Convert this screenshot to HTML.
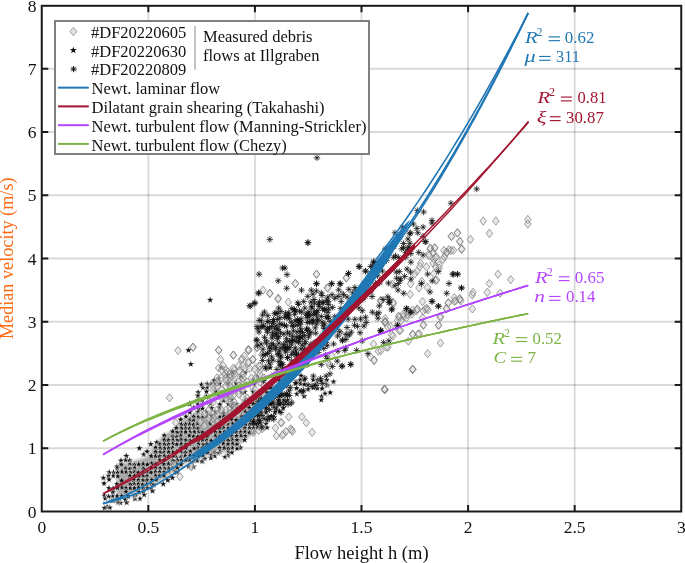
<!DOCTYPE html><html><head><meta charset="utf-8"><style>html,body{margin:0;padding:0;background:#fff;overflow:hidden}svg{display:block;will-change:transform}</style></head><body><svg xmlns="http://www.w3.org/2000/svg" width="685" height="563" viewBox="0 0 685 563">
<rect width="685" height="563" fill="#fff"/>
<path d="M148.33 5.8V511.5M254.92 5.8V511.5M361.50 5.8V511.5M468.09 5.8V511.5M574.67 5.8V511.5" stroke="#000" stroke-opacity="0.15" stroke-width="1.8" fill="none"/>
<path d="M41.75 448.25H681.25M41.75 385.00H681.25M41.75 321.75H681.25M41.75 258.50H681.25M41.75 195.25H681.25M41.75 132.00H681.25M41.75 68.75H681.25" stroke="#000" stroke-opacity="0.15" stroke-width="1.8" fill="none"/>
<defs><filter id="bl" x="0" y="0" width="685" height="563" filterUnits="userSpaceOnUse"><feGaussianBlur stdDeviation="0.35"/></filter></defs>
<filter id="ub" x="0" y="0" width="685" height="563" filterUnits="userSpaceOnUse"><feGaussianBlur stdDeviation="1.6"/></filter>
<path d="M118 470L121 464L130 462L141 459L147 457L153 448L157 442L164 435L171 431L181 421L191 415L198 410L205 416L215 418L228 412L240 404L252 396L262 392L262 415L255 432L240 444L226 452L212 454L200 458L188 462L178 468L170 474L160 481L150 487L140 491L130 495L121 497L116 492Z" fill="#a6a6a6" filter="url(#ub)"/>
<path d="M249.6 428.9L250.5 431.3L253.1 431.4L251.1 433.0L251.8 435.4L249.6 434.0L247.5 435.4L248.2 433.0L246.2 431.4L248.8 431.3ZM300.8 380.1L301.7 382.5L304.2 382.6L302.2 384.2L302.9 386.6L300.8 385.2L298.7 386.6L299.3 384.2L297.3 382.6L299.9 382.5ZM176.5 448.1L177.4 450.5L180.0 450.6L178.0 452.2L178.6 454.6L176.5 453.2L174.4 454.6L175.1 452.2L173.1 450.6L175.6 450.5ZM211.1 451.7L212.0 454.1L214.6 454.2L212.6 455.8L213.3 458.2L211.1 456.8L209.0 458.2L209.7 455.8L207.7 454.2L210.3 454.1ZM249.3 380.9L250.2 383.3L252.8 383.4L250.8 385.0L251.4 387.4L249.3 386.0L247.2 387.4L247.9 385.0L245.9 383.4L248.4 383.3ZM253.2 388.2L254.1 390.6L256.6 390.7L254.6 392.3L255.3 394.7L253.2 393.3L251.1 394.7L251.8 392.3L249.8 390.7L252.3 390.6ZM304.4 376.2L305.3 378.6L307.8 378.7L305.8 380.2L306.5 382.7L304.4 381.3L302.3 382.7L302.9 380.2L301.0 378.7L303.5 378.6ZM207.1 432.6L208.0 435.0L210.5 435.1L208.5 436.7L209.2 439.1L207.1 437.7L205.0 439.1L205.7 436.7L203.7 435.1L206.2 435.0ZM214.9 379.9L215.8 382.2L218.3 382.3L216.3 383.9L217.0 386.4L214.9 385.0L212.8 386.4L213.4 383.9L211.4 382.3L214.0 382.2ZM227.6 372.0L228.5 374.4L231.0 374.5L229.1 376.0L229.7 378.5L227.6 377.1L225.5 378.5L226.2 376.0L224.2 374.5L226.7 374.4ZM231.9 412.0L232.8 414.4L235.4 414.5L233.4 416.1L234.1 418.5L231.9 417.1L229.8 418.5L230.5 416.1L228.5 414.5L231.0 414.4ZM108.6 472.1L109.4 474.4L112.0 474.6L110.0 476.1L110.7 478.6L108.6 477.2L106.4 478.6L107.1 476.1L105.1 474.6L107.7 474.4ZM257.5 424.2L258.4 426.6L260.9 426.7L258.9 428.3L259.6 430.7L257.5 429.3L255.4 430.7L256.0 428.3L254.0 426.7L256.6 426.6ZM224.3 415.9L225.2 418.2L227.7 418.3L225.7 419.9L226.4 422.4L224.3 421.0L222.2 422.4L222.8 419.9L220.9 418.3L223.4 418.2ZM126.7 498.9L127.6 501.3L130.1 501.4L128.1 503.0L128.8 505.4L126.7 504.0L124.6 505.4L125.2 503.0L123.3 501.4L125.8 501.3ZM207.3 449.0L208.2 451.4L210.8 451.5L208.8 453.1L209.5 455.5L207.3 454.1L205.2 455.5L205.9 453.1L203.9 451.5L206.5 451.4ZM215.5 440.5L216.4 442.9L218.9 443.0L216.9 444.6L217.6 447.0L215.5 445.6L213.4 447.0L214.1 444.6L212.1 443.0L214.6 442.9ZM125.4 496.1L126.3 498.5L128.8 498.6L126.9 500.2L127.5 502.6L125.4 501.2L123.3 502.6L124.0 500.2L122.0 498.6L124.5 498.5ZM173.1 432.9L174.0 435.3L176.5 435.4L174.5 437.0L175.2 439.4L173.1 438.0L171.0 439.4L171.6 437.0L169.6 435.4L172.2 435.3ZM181.5 424.6L182.4 427.0L185.0 427.1L183.0 428.7L183.7 431.1L181.5 429.7L179.4 431.1L180.1 428.7L178.1 427.1L180.7 427.0ZM206.3 436.0L207.2 438.4L209.7 438.5L207.7 440.1L208.4 442.5L206.3 441.1L204.2 442.5L204.8 440.1L202.9 438.5L205.4 438.4ZM167.8 476.7L168.7 479.0L171.2 479.1L169.2 480.7L169.9 483.2L167.8 481.8L165.6 483.2L166.3 480.7L164.3 479.1L166.9 479.0ZM215.0 448.9L215.9 451.3L218.5 451.4L216.5 452.9L217.1 455.4L215.0 454.0L212.9 455.4L213.6 452.9L211.6 451.4L214.1 451.3ZM207.7 381.0L208.6 383.4L211.1 383.5L209.1 385.1L209.8 387.5L207.7 386.1L205.6 387.5L206.3 385.1L204.3 383.5L206.8 383.4ZM257.3 373.0L258.2 375.3L260.7 375.5L258.7 377.0L259.4 379.5L257.3 378.1L255.2 379.5L255.9 377.0L253.9 375.5L256.4 375.3ZM189.7 456.4L190.6 458.8L193.1 458.9L191.1 460.5L191.8 463.0L189.7 461.6L187.6 463.0L188.2 460.5L186.3 458.9L188.8 458.8ZM172.4 456.4L173.3 458.8L175.8 458.9L173.8 460.5L174.5 462.9L172.4 461.5L170.3 462.9L170.9 460.5L169.0 458.9L171.5 458.8ZM159.4 452.7L160.3 455.0L162.9 455.1L160.9 456.7L161.6 459.2L159.4 457.8L157.3 459.2L158.0 456.7L156.0 455.1L158.6 455.0ZM185.4 420.7L186.3 423.0L188.8 423.2L186.8 424.7L187.5 427.2L185.4 425.8L183.3 427.2L183.9 424.7L182.0 423.2L184.5 423.0ZM121.6 477.0L122.5 479.3L125.0 479.5L123.1 481.0L123.7 483.5L121.6 482.1L119.5 483.5L120.2 481.0L118.2 479.5L120.7 479.3ZM223.4 408.9L224.2 411.3L226.8 411.4L224.8 413.0L225.5 415.4L223.4 414.0L221.2 415.4L221.9 413.0L219.9 411.4L222.5 411.3ZM181.0 448.0L181.9 450.4L184.4 450.5L182.4 452.1L183.1 454.5L181.0 453.1L178.9 454.5L179.6 452.1L177.6 450.5L180.1 450.4ZM143.1 476.6L144.0 479.0L146.5 479.1L144.5 480.7L145.2 483.1L143.1 481.7L141.0 483.1L141.7 480.7L139.7 479.1L142.2 479.0ZM254.2 403.9L255.0 406.3L257.6 406.4L255.6 408.0L256.3 410.4L254.2 409.0L252.0 410.4L252.7 408.0L250.7 406.4L253.3 406.3ZM160.3 448.4L161.2 450.7L163.7 450.9L161.7 452.4L162.4 454.9L160.3 453.5L158.2 454.9L158.8 452.4L156.9 450.9L159.4 450.7ZM227.7 432.0L228.6 434.3L231.2 434.5L229.2 436.0L229.9 438.5L227.7 437.1L225.6 438.5L226.3 436.0L224.3 434.5L226.9 434.3ZM130.4 480.8L131.3 483.2L133.8 483.3L131.9 484.9L132.5 487.3L130.4 485.9L128.3 487.3L129.0 484.9L127.0 483.3L129.5 483.2ZM231.8 432.4L232.7 434.7L235.2 434.8L233.2 436.4L233.9 438.9L231.8 437.5L229.7 438.9L230.4 436.4L228.4 434.8L230.9 434.7ZM121.0 457.1L121.9 459.5L124.4 459.6L122.4 461.2L123.1 463.6L121.0 462.2L118.9 463.6L119.6 461.2L117.6 459.6L120.1 459.5ZM129.8 471.8L130.7 474.2L133.2 474.3L131.2 475.9L131.9 478.3L129.8 476.9L127.7 478.3L128.4 475.9L126.4 474.3L128.9 474.2ZM140.0 494.8L140.9 497.2L143.4 497.3L141.4 498.9L142.1 501.3L140.0 499.9L137.9 501.3L138.6 498.9L136.6 497.3L139.1 497.2ZM202.2 448.0L203.1 450.4L205.6 450.5L203.6 452.1L204.3 454.6L202.2 453.2L200.1 454.6L200.8 452.1L198.8 450.5L201.3 450.4ZM103.2 474.5L104.1 476.9L106.6 477.0L104.6 478.6L105.3 481.0L103.2 479.6L101.1 481.0L101.8 478.6L99.8 477.0L102.3 476.9ZM219.7 444.3L220.5 446.7L223.1 446.8L221.1 448.3L221.8 450.8L219.7 449.4L217.5 450.8L218.2 448.3L216.2 446.8L218.8 446.7ZM117.8 498.9L118.7 501.3L121.2 501.4L119.2 503.0L119.9 505.4L117.8 504.0L115.7 505.4L116.4 503.0L114.4 501.4L116.9 501.3ZM210.5 399.9L211.4 402.3L213.9 402.4L211.9 403.9L212.6 406.4L210.5 405.0L208.3 406.4L209.0 403.9L207.0 402.4L209.6 402.3ZM296.6 384.7L297.5 387.1L300.0 387.2L298.0 388.8L298.7 391.2L296.6 389.8L294.5 391.2L295.1 388.8L293.2 387.2L295.7 387.1ZM193.7 432.7L194.5 435.1L197.1 435.2L195.1 436.8L195.8 439.2L193.7 437.8L191.5 439.2L192.2 436.8L190.2 435.2L192.8 435.1ZM147.0 468.3L147.9 470.7L150.4 470.8L148.4 472.4L149.1 474.8L147.0 473.4L144.9 474.8L145.5 472.4L143.6 470.8L146.1 470.7ZM181.6 420.6L182.5 423.0L185.0 423.1L183.0 424.7L183.7 427.1L181.6 425.7L179.5 427.1L180.2 424.7L178.2 423.1L180.7 423.0ZM126.3 452.4L127.2 454.7L129.7 454.9L127.8 456.4L128.4 458.9L126.3 457.5L124.2 458.9L124.9 456.4L122.9 454.9L125.4 454.7ZM278.8 396.7L279.7 399.1L282.3 399.2L280.3 400.8L281.0 403.2L278.8 401.8L276.7 403.2L277.4 400.8L275.4 399.2L278.0 399.1ZM122.0 483.8L122.9 486.2L125.4 486.3L123.5 487.9L124.1 490.3L122.0 488.9L119.9 490.3L120.6 487.9L118.6 486.3L121.1 486.2ZM214.8 452.4L215.7 454.8L218.3 454.9L216.3 456.5L216.9 458.9L214.8 457.5L212.7 458.9L213.4 456.5L211.4 454.9L213.9 454.8ZM175.3 467.8L176.2 470.2L178.7 470.3L176.7 471.9L177.4 474.3L175.3 472.9L173.2 474.3L173.8 471.9L171.9 470.3L174.4 470.2ZM134.0 468.0L134.9 470.4L137.5 470.5L135.5 472.1L136.1 474.5L134.0 473.1L131.9 474.5L132.6 472.1L130.6 470.5L133.1 470.4ZM224.9 453.6L225.8 456.0L228.3 456.1L226.3 457.7L227.0 460.1L224.9 458.7L222.8 460.1L223.5 457.7L221.5 456.1L224.0 456.0ZM188.5 346.7L189.4 349.1L191.9 349.2L189.9 350.8L190.6 353.2L188.5 351.8L186.4 353.2L187.1 350.8L185.1 349.2L187.6 349.1ZM221.2 363.9L222.1 366.3L224.6 366.4L222.6 368.0L223.3 370.4L221.2 369.0L219.1 370.4L219.8 368.0L217.8 366.4L220.3 366.3ZM219.2 391.9L220.1 394.3L222.6 394.4L220.6 396.0L221.3 398.4L219.2 397.0L217.1 398.4L217.7 396.0L215.7 394.4L218.3 394.3ZM172.3 474.2L173.2 476.6L175.8 476.7L173.8 478.3L174.4 480.7L172.3 479.3L170.2 480.7L170.9 478.3L168.9 476.7L171.4 476.6ZM117.0 462.9L117.9 465.3L120.4 465.4L118.4 467.0L119.1 469.4L117.0 468.0L114.9 469.4L115.6 467.0L113.6 465.4L116.1 465.3ZM262.5 396.7L263.4 399.1L265.9 399.2L263.9 400.8L264.6 403.2L262.5 401.8L260.4 403.2L261.1 400.8L259.1 399.2L261.6 399.1ZM275.2 376.6L276.1 379.0L278.6 379.1L276.6 380.7L277.3 383.1L275.2 381.7L273.1 383.1L273.7 380.7L271.8 379.1L274.3 379.0ZM143.3 472.2L144.2 474.6L146.7 474.7L144.7 476.3L145.4 478.7L143.3 477.3L141.2 478.7L141.8 476.3L139.9 474.7L142.4 474.6ZM228.2 444.9L229.1 447.3L231.7 447.4L229.7 449.0L230.3 451.5L228.2 450.1L226.1 451.5L226.8 449.0L224.8 447.4L227.3 447.3ZM144.0 450.8L144.9 453.2L147.4 453.3L145.4 454.9L146.1 457.3L144.0 455.9L141.9 457.3L142.6 454.9L140.6 453.3L143.1 453.2ZM202.4 400.8L203.3 403.2L205.8 403.3L203.8 404.8L204.5 407.3L202.4 405.9L200.3 407.3L201.0 404.8L199.0 403.3L201.5 403.2ZM193.4 416.6L194.3 419.0L196.8 419.1L194.8 420.6L195.5 423.1L193.4 421.7L191.3 423.1L192.0 420.6L190.0 419.1L192.5 419.0ZM181.2 444.5L182.1 446.9L184.6 447.0L182.6 448.5L183.3 451.0L181.2 449.6L179.1 451.0L179.7 448.5L177.8 447.0L180.3 446.9ZM129.9 465.0L130.8 467.4L133.3 467.5L131.3 469.0L132.0 471.5L129.9 470.1L127.7 471.5L128.4 469.0L126.4 467.5L129.0 467.4ZM245.5 408.0L246.4 410.4L248.9 410.5L246.9 412.1L247.6 414.5L245.5 413.1L243.4 414.5L244.1 412.1L242.1 410.5L244.6 410.4ZM218.2 449.7L219.1 452.1L221.6 452.2L219.6 453.8L220.3 456.2L218.2 454.8L216.1 456.2L216.8 453.8L214.8 452.2L217.3 452.1ZM180.9 428.3L181.8 430.7L184.3 430.8L182.3 432.4L183.0 434.8L180.9 433.4L178.8 434.8L179.5 432.4L177.5 430.8L180.0 430.7ZM146.8 476.4L147.7 478.8L150.2 478.9L148.2 480.5L148.9 482.9L146.8 481.5L144.7 482.9L145.4 480.5L143.4 478.9L145.9 478.8ZM185.2 448.9L186.1 451.3L188.7 451.4L186.7 453.0L187.4 455.4L185.2 454.0L183.1 455.4L183.8 453.0L181.8 451.4L184.4 451.3ZM151.0 464.1L151.9 466.5L154.4 466.6L152.4 468.2L153.1 470.7L151.0 469.3L148.9 470.7L149.5 468.2L147.5 466.6L150.1 466.5ZM198.0 424.9L198.8 427.3L201.4 427.4L199.4 428.9L200.1 431.4L198.0 430.0L195.8 431.4L196.5 428.9L194.5 427.4L197.1 427.3ZM159.7 440.7L160.6 443.1L163.1 443.2L161.1 444.7L161.8 447.2L159.7 445.8L157.6 447.2L158.2 444.7L156.2 443.2L158.8 443.1ZM107.1 503.3L108.0 505.7L110.5 505.8L108.5 507.4L109.2 509.8L107.1 508.4L105.0 509.8L105.7 507.4L103.7 505.8L106.2 505.7ZM156.1 476.0L157.0 478.3L159.5 478.5L157.5 480.0L158.2 482.5L156.1 481.1L154.0 482.5L154.7 480.0L152.7 478.5L155.2 478.3ZM237.1 420.9L238.0 423.3L240.5 423.4L238.5 425.0L239.2 427.4L237.1 426.0L235.0 427.4L235.6 425.0L233.7 423.4L236.2 423.3ZM164.8 464.6L165.6 466.9L168.2 467.1L166.2 468.6L166.9 471.1L164.8 469.7L162.6 471.1L163.3 468.6L161.3 467.1L163.9 466.9ZM210.8 454.3L211.7 456.7L214.2 456.8L212.2 458.4L212.9 460.8L210.8 459.4L208.7 460.8L209.4 458.4L207.4 456.8L209.9 456.7ZM206.5 388.1L207.4 390.4L209.9 390.5L207.9 392.1L208.6 394.6L206.5 393.2L204.4 394.6L205.0 392.1L203.1 390.5L205.6 390.4ZM257.6 375.9L258.5 378.3L261.0 378.4L259.0 380.0L259.7 382.4L257.6 381.0L255.5 382.4L256.1 380.0L254.1 378.4L256.7 378.3ZM284.0 376.3L284.9 378.7L287.4 378.8L285.4 380.3L286.1 382.8L284.0 381.4L281.9 382.8L282.5 380.3L280.6 378.8L283.1 378.7ZM109.3 468.8L110.2 471.2L112.7 471.3L110.7 472.9L111.4 475.3L109.3 473.9L107.2 475.3L107.9 472.9L105.9 471.3L108.4 471.2ZM304.2 380.8L305.1 383.2L307.7 383.3L305.7 384.9L306.4 387.3L304.2 385.9L302.1 387.3L302.8 384.9L300.8 383.3L303.4 383.2ZM189.5 420.1L190.4 422.4L192.9 422.5L190.9 424.1L191.6 426.6L189.5 425.2L187.4 426.6L188.1 424.1L186.1 422.5L188.6 422.4ZM219.6 436.1L220.5 438.5L223.0 438.6L221.1 440.2L221.7 442.6L219.6 441.2L217.5 442.6L218.2 440.2L216.2 438.6L218.7 438.5ZM215.2 424.4L216.1 426.8L218.7 426.9L216.7 428.5L217.3 431.0L215.2 429.5L213.1 431.0L213.8 428.5L211.8 426.9L214.3 426.8ZM134.4 463.9L135.2 466.3L137.8 466.4L135.8 468.0L136.5 470.4L134.4 469.0L132.2 470.4L132.9 468.0L130.9 466.4L133.5 466.3ZM125.9 464.8L126.7 467.2L129.3 467.3L127.3 468.8L128.0 471.3L125.9 469.9L123.7 471.3L124.4 468.8L122.4 467.3L125.0 467.2ZM249.8 424.0L250.7 426.4L253.2 426.5L251.2 428.1L251.9 430.5L249.8 429.1L247.7 430.5L248.3 428.1L246.3 426.5L248.9 426.4ZM279.6 377.0L280.5 379.3L283.1 379.4L281.1 381.0L281.8 383.5L279.6 382.1L277.5 383.5L278.2 381.0L276.2 379.4L278.8 379.3ZM185.6 424.2L186.5 426.6L189.0 426.7L187.1 428.3L187.7 430.7L185.6 429.3L183.5 430.7L184.2 428.3L182.2 426.7L184.7 426.6ZM151.9 476.2L152.8 478.6L155.3 478.7L153.3 480.3L154.0 482.7L151.9 481.3L149.8 482.7L150.5 480.3L148.5 478.7L151.0 478.6ZM143.3 484.5L144.2 486.8L146.8 486.9L144.8 488.5L145.4 491.0L143.3 489.6L141.2 491.0L141.9 488.5L139.9 486.9L142.4 486.8ZM240.5 419.9L241.4 422.3L243.9 422.4L241.9 424.0L242.6 426.4L240.5 425.0L238.4 426.4L239.0 424.0L237.1 422.4L239.6 422.3ZM198.6 440.2L199.5 442.6L202.1 442.7L200.1 444.3L200.7 446.7L198.6 445.3L196.5 446.7L197.2 444.3L195.2 442.7L197.7 442.6ZM232.4 435.8L233.3 438.2L235.8 438.3L233.8 439.9L234.5 442.4L232.4 441.0L230.3 442.4L231.0 439.9L229.0 438.3L231.5 438.2ZM254.0 380.3L254.9 382.7L257.4 382.8L255.4 384.4L256.1 386.8L254.0 385.4L251.9 386.8L252.6 384.4L250.6 382.8L253.1 382.7ZM283.8 380.6L284.7 383.0L287.3 383.1L285.3 384.7L286.0 387.2L283.8 385.8L281.7 387.2L282.4 384.7L280.4 383.1L283.0 383.0ZM202.3 396.4L203.2 398.7L205.7 398.8L203.7 400.4L204.4 402.9L202.3 401.5L200.1 402.9L200.8 400.4L198.8 398.8L201.4 398.7ZM105.3 494.8L106.2 497.2L108.7 497.3L106.7 498.9L107.4 501.3L105.3 499.9L103.2 501.3L103.9 498.9L101.9 497.3L104.4 497.2ZM228.1 380.0L228.9 382.4L231.5 382.5L229.5 384.1L230.2 386.5L228.1 385.1L225.9 386.5L226.6 384.1L224.6 382.5L227.2 382.4ZM198.8 427.8L199.7 430.2L202.2 430.3L200.2 431.9L200.9 434.4L198.8 433.0L196.7 434.4L197.4 431.9L195.4 430.3L197.9 430.2ZM134.5 472.2L135.4 474.6L138.0 474.7L136.0 476.3L136.7 478.7L134.5 477.3L132.4 478.7L133.1 476.3L131.1 474.7L133.6 474.6ZM241.3 388.4L242.2 390.8L244.7 390.9L242.8 392.5L243.4 394.9L241.3 393.5L239.2 394.9L239.9 392.5L237.9 390.9L240.4 390.8ZM206.9 383.9L207.8 386.2L210.4 386.3L208.4 387.9L209.0 390.4L206.9 389.0L204.8 390.4L205.5 387.9L203.5 386.3L206.0 386.2ZM138.6 460.7L139.5 463.1L142.0 463.2L140.1 464.8L140.7 467.2L138.6 465.8L136.5 467.2L137.2 464.8L135.2 463.2L137.7 463.1ZM146.6 480.5L147.5 482.9L150.0 483.0L148.0 484.5L148.7 487.0L146.6 485.6L144.5 487.0L145.1 484.5L143.1 483.0L145.7 482.9ZM279.0 388.3L279.9 390.6L282.5 390.8L280.5 392.3L281.1 394.8L279.0 393.4L276.9 394.8L277.6 392.3L275.6 390.8L278.1 390.6ZM228.4 388.4L229.3 390.8L231.9 390.9L229.9 392.5L230.6 394.9L228.4 393.5L226.3 394.9L227.0 392.5L225.0 390.9L227.6 390.8ZM134.5 460.8L135.4 463.2L137.9 463.3L135.9 464.9L136.6 467.3L134.5 465.9L132.4 467.3L133.0 464.9L131.1 463.3L133.6 463.2ZM237.0 436.5L237.8 438.9L240.4 439.0L238.4 440.6L239.1 443.0L237.0 441.6L234.8 443.0L235.5 440.6L233.5 439.0L236.1 438.9ZM333.6 377.9L334.5 380.3L337.0 380.4L335.0 382.0L335.7 384.4L333.6 383.0L331.5 384.4L332.2 382.0L330.2 380.4L332.7 380.3ZM125.7 456.4L126.6 458.8L129.2 458.9L127.2 460.5L127.9 462.9L125.7 461.5L123.6 462.9L124.3 460.5L122.3 458.9L124.9 458.8ZM218.6 374.9L219.5 377.3L222.0 377.4L220.0 379.0L220.7 381.4L218.6 380.0L216.5 381.4L217.2 379.0L215.2 377.4L217.7 377.3ZM284.0 396.4L284.9 398.8L287.4 398.9L285.4 400.5L286.1 402.9L284.0 401.5L281.9 402.9L282.5 400.5L280.6 398.9L283.1 398.8ZM244.9 428.1L245.8 430.5L248.3 430.6L246.4 432.2L247.0 434.6L244.9 433.2L242.8 434.6L243.5 432.2L241.5 430.6L244.0 430.5ZM228.3 424.7L229.1 427.1L231.7 427.2L229.7 428.8L230.4 431.2L228.3 429.8L226.1 431.2L226.8 428.8L224.8 427.2L227.4 427.1ZM193.5 463.2L194.3 465.5L196.9 465.6L194.9 467.2L195.6 469.7L193.5 468.3L191.3 469.7L192.0 467.2L190.0 465.6L192.6 465.5ZM219.5 404.8L220.4 407.2L222.9 407.3L220.9 408.9L221.6 411.3L219.5 409.9L217.4 411.3L218.1 408.9L216.1 407.3L218.6 407.2ZM160.5 444.2L161.4 446.6L163.9 446.7L161.9 448.3L162.6 450.8L160.5 449.4L158.4 450.8L159.1 448.3L157.1 446.7L159.6 446.6ZM151.8 480.6L152.7 483.0L155.2 483.1L153.2 484.7L153.9 487.2L151.8 485.8L149.6 487.2L150.3 484.7L148.3 483.1L150.9 483.0ZM253.3 400.4L254.2 402.7L256.7 402.9L254.7 404.4L255.4 406.9L253.3 405.5L251.2 406.9L251.9 404.4L249.9 402.9L252.4 402.7ZM193.5 456.0L194.4 458.3L197.0 458.4L195.0 460.0L195.6 462.5L193.5 461.1L191.4 462.5L192.1 460.0L190.1 458.4L192.6 458.3ZM164.0 468.0L164.9 470.4L167.4 470.5L165.4 472.1L166.1 474.5L164.0 473.1L161.9 474.5L162.5 472.1L160.5 470.5L163.1 470.4ZM219.8 424.6L220.7 427.0L223.3 427.1L221.3 428.6L222.0 431.1L219.8 429.7L217.7 431.1L218.4 428.6L216.4 427.1L219.0 427.0ZM211.3 436.9L212.2 439.3L214.8 439.4L212.8 441.0L213.5 443.4L211.3 442.0L209.2 443.4L209.9 441.0L207.9 439.4L210.5 439.3ZM266.0 404.1L266.9 406.5L269.5 406.6L267.5 408.2L268.2 410.6L266.0 409.2L263.9 410.6L264.6 408.2L262.6 406.6L265.2 406.5ZM118.5 498.4L119.4 500.8L121.9 500.9L119.9 502.5L120.6 504.9L118.5 503.5L116.4 504.9L117.1 502.5L115.1 500.9L117.6 500.8ZM177.0 452.4L177.8 454.8L180.4 454.9L178.4 456.5L179.1 458.9L177.0 457.5L174.8 458.9L175.5 456.5L173.5 454.9L176.1 454.8ZM117.8 472.7L118.7 475.1L121.2 475.2L119.2 476.8L119.9 479.2L117.8 477.8L115.7 479.2L116.4 476.8L114.4 475.2L116.9 475.1ZM172.9 440.0L173.8 442.4L176.3 442.5L174.3 444.0L175.0 446.5L172.9 445.1L170.8 446.5L171.5 444.0L169.5 442.5L172.0 442.4ZM241.3 431.8L242.2 434.2L244.7 434.3L242.7 435.9L243.4 438.3L241.3 436.9L239.2 438.3L239.8 435.9L237.9 434.3L240.4 434.2ZM317.2 380.2L318.1 382.5L320.6 382.6L318.6 384.2L319.3 386.7L317.2 385.3L315.1 386.7L315.8 384.2L313.8 382.6L316.3 382.5ZM227.9 420.8L228.8 423.2L231.3 423.3L229.3 424.8L230.0 427.3L227.9 425.9L225.8 427.3L226.5 424.8L224.5 423.3L227.0 423.2ZM143.5 450.9L144.4 453.3L146.9 453.4L144.9 455.0L145.6 457.4L143.5 456.0L141.4 457.4L142.1 455.0L140.1 453.4L142.6 453.3ZM215.5 428.4L216.4 430.8L219.0 430.9L217.0 432.5L217.7 434.9L215.5 433.5L213.4 434.9L214.1 432.5L212.1 430.9L214.7 430.8ZM253.3 428.8L254.2 431.1L256.7 431.2L254.7 432.8L255.4 435.3L253.3 433.9L251.2 435.3L251.8 432.8L249.9 431.2L252.4 431.1ZM150.9 468.8L151.8 471.2L154.4 471.3L152.4 472.9L153.0 475.3L150.9 473.9L148.8 475.3L149.5 472.9L147.5 471.3L150.0 471.2ZM194.4 445.0L195.3 447.3L197.8 447.4L195.8 449.0L196.5 451.5L194.4 450.1L192.2 451.5L192.9 449.0L190.9 447.4L193.5 447.3ZM303.2 388.3L304.1 390.7L306.6 390.8L304.6 392.4L305.3 394.8L303.2 393.4L301.1 394.8L301.8 392.4L299.8 390.8L302.3 390.7ZM202.7 451.9L203.6 454.3L206.2 454.4L204.2 456.0L204.9 458.4L202.7 457.0L200.6 458.4L201.3 456.0L199.3 454.4L201.9 454.3ZM173.9 457.2L174.8 459.6L177.3 459.7L175.3 461.3L176.0 463.7L173.9 462.3L171.8 463.7L172.5 461.3L170.5 459.7L173.0 459.6ZM232.1 403.9L233.0 406.3L235.5 406.4L233.5 408.0L234.2 410.5L232.1 409.1L230.0 410.5L230.6 408.0L228.6 406.4L231.2 406.3ZM204.8 455.0L205.7 457.4L208.2 457.5L206.2 459.1L206.9 461.5L204.8 460.1L202.7 461.5L203.4 459.1L201.4 457.5L203.9 457.4ZM215.1 436.8L216.0 439.2L218.5 439.3L216.6 440.9L217.2 443.3L215.1 441.9L213.0 443.3L213.7 440.9L211.7 439.3L214.2 439.2ZM232.8 439.9L233.7 442.2L236.2 442.3L234.2 443.9L234.9 446.4L232.8 445.0L230.7 446.4L231.3 443.9L229.4 442.3L231.9 442.2ZM128.3 492.8L129.2 495.1L131.7 495.3L129.7 496.8L130.4 499.3L128.3 497.9L126.2 499.3L126.9 496.8L124.9 495.3L127.4 495.1ZM326.0 380.1L326.9 382.5L329.4 382.6L327.4 384.2L328.1 386.6L326.0 385.2L323.9 386.6L324.5 384.2L322.6 382.6L325.1 382.5ZM283.2 404.6L284.1 407.0L286.7 407.1L284.7 408.7L285.3 411.1L283.2 409.7L281.1 411.1L281.8 408.7L279.8 407.1L282.3 407.0ZM155.8 448.3L156.7 450.7L159.2 450.8L157.2 452.4L157.9 454.9L155.8 453.5L153.7 454.9L154.4 452.4L152.4 450.8L154.9 450.7ZM190.1 451.8L191.0 454.2L193.5 454.3L191.5 455.9L192.2 458.3L190.1 456.9L188.0 458.3L188.7 455.9L186.7 454.3L189.2 454.2ZM248.8 396.2L249.7 398.6L252.2 398.7L250.2 400.3L250.9 402.7L248.8 401.3L246.7 402.7L247.4 400.3L245.4 398.7L247.9 398.6ZM111.5 497.1L112.4 499.5L115.0 499.6L113.0 501.2L113.7 503.6L111.5 502.2L109.4 503.6L110.1 501.2L108.1 499.6L110.7 499.5ZM138.5 483.9L139.4 486.3L141.9 486.4L139.9 488.0L140.6 490.4L138.5 489.0L136.4 490.4L137.0 488.0L135.1 486.4L137.6 486.3ZM333.4 378.3L334.3 380.7L336.8 380.8L334.8 382.4L335.5 384.8L333.4 383.4L331.3 384.8L332.0 382.4L330.0 380.8L332.5 380.7ZM113.3 472.1L114.2 474.5L116.7 474.6L114.7 476.2L115.4 478.7L113.3 477.3L111.2 478.7L111.9 476.2L109.9 474.6L112.4 474.5ZM219.6 432.7L220.5 435.1L223.0 435.2L221.0 436.8L221.7 439.2L219.6 437.8L217.5 439.2L218.1 436.8L216.2 435.2L218.7 435.1ZM322.1 385.0L323.0 387.3L325.5 387.5L323.5 389.0L324.2 391.5L322.1 390.1L320.0 391.5L320.6 389.0L318.6 387.5L321.2 387.3ZM155.7 452.3L156.6 454.7L159.1 454.8L157.1 456.4L157.8 458.8L155.7 457.4L153.5 458.8L154.2 456.4L152.2 454.8L154.8 454.7ZM317.3 376.5L318.2 378.9L320.7 379.0L318.8 380.6L319.4 383.1L317.3 381.7L315.2 383.1L315.9 380.6L313.9 379.0L316.4 378.9ZM138.4 480.2L139.3 482.6L141.8 482.7L139.8 484.3L140.5 486.8L138.4 485.4L136.3 486.8L136.9 484.3L135.0 482.7L137.5 482.6ZM189.5 439.9L190.4 442.2L192.9 442.4L190.9 443.9L191.6 446.4L189.5 445.0L187.4 446.4L188.0 443.9L186.0 442.4L188.6 442.2ZM181.1 440.3L182.0 442.6L184.5 442.8L182.5 444.3L183.2 446.8L181.1 445.4L179.0 446.8L179.7 444.3L177.7 442.8L180.2 442.6ZM152.5 487.2L153.4 489.6L156.0 489.7L154.0 491.3L154.7 493.8L152.5 492.4L150.4 493.8L151.1 491.3L149.1 489.7L151.7 489.6ZM198.1 400.9L199.0 403.3L201.5 403.4L199.5 404.9L200.2 407.4L198.1 406.0L196.0 407.4L196.6 404.9L194.7 403.4L197.2 403.3ZM253.4 416.2L254.3 418.5L256.8 418.6L254.8 420.2L255.5 422.7L253.4 421.3L251.3 422.7L252.0 420.2L250.0 418.6L252.5 418.5ZM198.4 436.6L199.2 439.0L201.8 439.1L199.8 440.7L200.5 443.1L198.4 441.7L196.2 443.1L196.9 440.7L194.9 439.1L197.5 439.0ZM144.2 491.2L145.1 493.5L147.6 493.6L145.6 495.2L146.3 497.7L144.2 496.3L142.1 497.7L142.8 495.2L140.8 493.6L143.3 493.5ZM185.8 444.3L186.7 446.7L189.2 446.8L187.2 448.4L187.9 450.8L185.8 449.4L183.7 450.8L184.4 448.4L182.4 446.8L184.9 446.7ZM164.1 460.7L165.0 463.1L167.5 463.2L165.5 464.8L166.2 467.3L164.1 465.9L161.9 467.3L162.6 464.8L160.6 463.2L163.2 463.1ZM180.8 415.9L181.7 418.3L184.2 418.4L182.2 420.0L182.9 422.4L180.8 421.0L178.7 422.4L179.3 420.0L177.4 418.4L179.9 418.3ZM211.4 404.6L212.3 407.0L214.8 407.1L212.8 408.7L213.5 411.1L211.4 409.7L209.3 411.1L210.0 408.7L208.0 407.1L210.5 407.0ZM271.2 412.5L272.1 414.9L274.7 415.0L272.7 416.6L273.4 419.0L271.2 417.6L269.1 419.0L269.8 416.6L267.8 415.0L270.4 414.9ZM193.6 413.0L194.5 415.4L197.0 415.5L195.1 417.0L195.7 419.5L193.6 418.1L191.5 419.5L192.2 417.0L190.2 415.5L192.7 415.4ZM168.2 436.5L169.1 438.9L171.6 439.0L169.6 440.6L170.3 443.0L168.2 441.6L166.1 443.0L166.7 440.6L164.8 439.0L167.3 438.9ZM194.3 428.3L195.2 430.6L197.7 430.8L195.8 432.3L196.4 434.8L194.3 433.4L192.2 434.8L192.9 432.3L190.9 430.8L193.4 430.6ZM258.5 412.6L259.4 414.9L261.9 415.0L259.9 416.6L260.6 419.1L258.5 417.7L256.4 419.1L257.0 416.6L255.0 415.0L257.6 414.9ZM262.7 424.7L263.6 427.1L266.1 427.2L264.1 428.7L264.8 431.2L262.7 429.8L260.6 431.2L261.3 428.7L259.3 427.2L261.8 427.1ZM219.8 448.2L220.7 450.5L223.2 450.6L221.2 452.2L221.9 454.7L219.8 453.3L217.7 454.7L218.4 452.2L216.4 450.6L218.9 450.5ZM167.9 468.1L168.8 470.5L171.4 470.6L169.4 472.2L170.0 474.6L167.9 473.2L165.8 474.6L166.5 472.2L164.5 470.6L167.0 470.5ZM104.1 479.8L105.0 482.2L107.5 482.3L105.5 483.9L106.2 486.3L104.1 484.9L102.0 486.3L102.6 483.9L100.7 482.3L103.2 482.2ZM189.7 400.2L190.6 402.6L193.1 402.7L191.1 404.3L191.8 406.8L189.7 405.4L187.6 406.8L188.3 404.3L186.3 402.7L188.8 402.6ZM227.9 428.7L228.8 431.1L231.4 431.2L229.4 432.8L230.0 435.2L227.9 433.8L225.8 435.2L226.5 432.8L224.5 431.2L227.0 431.1ZM231.7 396.4L232.6 398.8L235.2 398.9L233.2 400.5L233.9 402.9L231.7 401.5L229.6 402.9L230.3 400.5L228.3 398.9L230.9 398.8ZM202.1 428.7L203.0 431.1L205.5 431.2L203.5 432.8L204.2 435.3L202.1 433.9L200.0 435.3L200.7 432.8L198.7 431.2L201.2 431.1ZM147.1 447.9L147.9 450.3L150.5 450.4L148.5 452.0L149.2 454.4L147.1 453.0L144.9 454.4L145.6 452.0L143.6 450.4L146.2 450.3ZM257.8 408.4L258.6 410.8L261.2 410.9L259.2 412.5L259.9 414.9L257.8 413.5L255.6 414.9L256.3 412.5L254.3 410.9L256.9 410.8ZM253.7 412.9L254.6 415.2L257.1 415.3L255.2 416.9L255.8 419.4L253.7 418.0L251.6 419.4L252.3 416.9L250.3 415.3L252.8 415.2ZM117.0 492.4L117.9 494.8L120.5 494.9L118.5 496.5L119.1 498.9L117.0 497.5L114.9 498.9L115.6 496.5L113.6 494.9L116.1 494.8ZM210.5 428.5L211.4 430.9L214.0 431.0L212.0 432.6L212.7 435.0L210.5 433.6L208.4 435.0L209.1 432.6L207.1 431.0L209.7 430.9ZM240.7 428.3L241.6 430.7L244.2 430.8L242.2 432.4L242.9 434.8L240.7 433.4L238.6 434.8L239.3 432.4L237.3 430.8L239.9 430.7ZM147.4 460.9L148.3 463.3L150.8 463.4L148.8 465.0L149.5 467.4L147.4 466.0L145.3 467.4L145.9 465.0L143.9 463.4L146.5 463.3ZM223.5 412.4L224.4 414.8L226.9 414.9L225.0 416.5L225.6 418.9L223.5 417.5L221.4 418.9L222.1 416.5L220.1 414.9L222.6 414.8ZM266.1 408.7L267.0 411.0L269.5 411.2L267.5 412.7L268.2 415.2L266.1 413.8L264.0 415.2L264.7 412.7L262.7 411.2L265.2 411.0ZM151.2 452.5L152.1 454.9L154.6 455.0L152.7 456.6L153.3 459.0L151.2 457.6L149.1 459.0L149.8 456.6L147.8 455.0L150.3 454.9ZM279.6 407.9L280.5 410.3L283.0 410.4L281.0 412.0L281.7 414.5L279.6 413.1L277.5 414.5L278.1 412.0L276.2 410.4L278.7 410.3ZM228.2 436.9L229.1 439.3L231.7 439.4L229.7 441.0L230.3 443.4L228.2 442.0L226.1 443.4L226.8 441.0L224.8 439.4L227.3 439.3ZM224.1 419.9L225.0 422.3L227.5 422.4L225.5 423.9L226.2 426.4L224.1 425.0L222.0 426.4L222.6 423.9L220.7 422.4L223.2 422.3ZM320.8 377.1L321.7 379.5L324.2 379.6L322.2 381.2L322.9 383.6L320.8 382.2L318.7 383.6L319.4 381.2L317.4 379.6L319.9 379.5ZM330.1 388.9L331.0 391.3L333.6 391.4L331.6 393.0L332.3 395.5L330.1 394.1L328.0 395.5L328.7 393.0L326.7 391.4L329.3 391.3ZM271.2 388.7L272.1 391.0L274.6 391.1L272.6 392.7L273.3 395.2L271.2 393.8L269.1 395.2L269.7 392.7L267.7 391.1L270.3 391.0ZM180.6 431.8L181.5 434.2L184.0 434.3L182.1 435.9L182.7 438.3L180.6 436.9L178.5 438.3L179.2 435.9L177.2 434.3L179.7 434.2ZM201.8 458.0L202.7 460.4L205.2 460.5L203.2 462.1L203.9 464.5L201.8 463.1L199.7 464.5L200.4 462.1L198.4 460.5L200.9 460.4ZM253.2 376.3L254.1 378.7L256.6 378.8L254.6 380.4L255.3 382.8L253.2 381.4L251.0 382.8L251.7 380.4L249.7 378.8L252.3 378.7ZM186.0 456.4L186.9 458.8L189.4 458.9L187.4 460.5L188.1 462.9L186.0 461.5L183.9 462.9L184.6 460.5L182.6 458.9L185.1 458.8ZM236.6 432.4L237.5 434.8L240.0 434.9L238.0 436.5L238.7 438.9L236.6 437.5L234.5 438.9L235.1 436.5L233.1 434.9L235.7 434.8ZM219.9 428.4L220.8 430.8L223.4 430.9L221.4 432.5L222.1 434.9L219.9 433.5L217.8 434.9L218.5 432.5L216.5 430.9L219.0 430.8ZM134.2 484.4L135.1 486.8L137.7 486.9L135.7 488.5L136.4 490.9L134.2 489.5L132.1 490.9L132.8 488.5L130.8 486.9L133.4 486.8ZM302.6 389.7L303.5 392.1L306.0 392.2L304.0 393.8L304.7 396.2L302.6 394.8L300.5 396.2L301.2 393.8L299.2 392.2L301.7 392.1ZM129.9 460.2L130.8 462.6L133.3 462.7L131.3 464.3L132.0 466.7L129.9 465.3L127.8 466.7L128.4 464.3L126.5 462.7L129.0 462.6ZM168.5 460.3L169.4 462.6L172.0 462.7L170.0 464.3L170.7 466.8L168.5 465.4L166.4 466.8L167.1 464.3L165.1 462.7L167.7 462.6ZM133.8 476.2L134.7 478.6L137.2 478.7L135.2 480.3L135.9 482.7L133.8 481.3L131.7 482.7L132.4 480.3L130.4 478.7L132.9 478.6ZM190.1 436.9L191.0 439.3L193.5 439.4L191.5 441.0L192.2 443.4L190.1 442.0L188.0 443.4L188.6 441.0L186.6 439.4L189.2 439.3ZM266.8 416.7L267.7 419.1L270.2 419.2L268.3 420.8L268.9 423.2L266.8 421.8L264.7 423.2L265.4 420.8L263.4 419.2L265.9 419.1ZM197.7 419.9L198.6 422.3L201.1 422.4L199.1 424.0L199.8 426.4L197.7 425.0L195.6 426.4L196.2 424.0L194.2 422.4L196.8 422.3ZM254.0 408.0L254.9 410.4L257.4 410.5L255.5 412.1L256.1 414.5L254.0 413.1L251.9 414.5L252.6 412.1L250.6 410.5L253.1 410.4ZM155.7 444.0L156.5 446.4L159.1 446.5L157.1 448.0L157.8 450.5L155.7 449.1L153.5 450.5L154.2 448.0L152.2 446.5L154.8 446.4ZM159.5 472.0L160.4 474.4L162.9 474.5L160.9 476.1L161.6 478.6L159.5 477.1L157.4 478.6L158.1 476.1L156.1 474.5L158.6 474.4ZM232.9 428.2L233.8 430.6L236.3 430.7L234.3 432.3L235.0 434.7L232.9 433.3L230.8 434.7L231.5 432.3L229.5 430.7L232.0 430.6ZM249.3 404.1L250.2 406.5L252.7 406.6L250.7 408.2L251.4 410.6L249.3 409.2L247.2 410.6L247.9 408.2L245.9 406.6L248.4 406.5ZM151.4 484.1L152.3 486.5L154.8 486.6L152.9 488.2L153.5 490.6L151.4 489.2L149.3 490.6L150.0 488.2L148.0 486.6L150.5 486.5ZM237.0 440.8L237.8 443.2L240.4 443.3L238.4 444.9L239.1 447.4L237.0 446.0L234.8 447.4L235.5 444.9L233.5 443.3L236.1 443.2ZM163.7 448.1L164.6 450.4L167.2 450.6L165.2 452.1L165.8 454.6L163.7 453.2L161.6 454.6L162.3 452.1L160.3 450.6L162.8 450.4ZM245.5 420.8L246.4 423.2L248.9 423.3L247.0 424.8L247.6 427.3L245.5 425.9L243.4 427.3L244.1 424.8L242.1 423.3L244.6 423.2ZM270.7 392.6L271.6 394.9L274.1 395.0L272.1 396.6L272.8 399.1L270.7 397.7L268.5 399.1L269.2 396.6L267.2 395.0L269.8 394.9ZM237.1 445.0L238.0 447.4L240.6 447.5L238.6 449.1L239.3 451.5L237.1 450.1L235.0 451.5L235.7 449.1L233.7 447.5L236.3 447.4ZM163.3 480.5L164.2 482.9L166.7 483.0L164.7 484.6L165.4 487.0L163.3 485.6L161.2 487.0L161.9 484.6L159.9 483.0L162.4 482.9ZM236.3 379.8L237.2 382.2L239.7 382.3L237.7 383.9L238.4 386.3L236.3 384.9L234.2 386.3L234.8 383.9L232.9 382.3L235.4 382.2ZM326.6 376.7L327.5 379.1L330.0 379.2L328.1 380.8L328.7 383.3L326.6 381.9L324.5 383.3L325.2 380.8L323.2 379.2L325.7 379.1ZM135.5 495.3L136.4 497.7L138.9 497.8L136.9 499.4L137.6 501.8L135.5 500.4L133.4 501.8L134.1 499.4L132.1 497.8L134.6 497.7ZM257.5 420.2L258.4 422.6L260.9 422.7L259.0 424.3L259.6 426.7L257.5 425.3L255.4 426.7L256.1 424.3L254.1 422.7L256.6 422.6ZM210.5 419.8L211.3 422.2L213.9 422.3L211.9 423.9L212.6 426.4L210.5 425.0L208.3 426.4L209.0 423.9L207.0 422.3L209.6 422.2ZM232.8 419.9L233.7 422.3L236.2 422.4L234.2 423.9L234.9 426.4L232.8 425.0L230.7 426.4L231.4 423.9L229.4 422.4L231.9 422.3ZM197.1 457.1L198.0 459.5L200.5 459.6L198.6 461.2L199.2 463.6L197.1 462.2L195.0 463.6L195.7 461.2L193.7 459.6L196.2 459.5ZM326.7 381.2L327.6 383.6L330.1 383.7L328.1 385.3L328.8 387.7L326.7 386.3L324.6 387.7L325.3 385.3L323.3 383.7L325.8 383.6ZM241.2 373.0L242.1 375.4L244.7 375.5L242.7 377.0L243.3 379.5L241.2 378.1L239.1 379.5L239.8 377.0L237.8 375.5L240.3 375.4ZM201.5 381.0L202.4 383.4L204.9 383.5L202.9 385.1L203.6 387.5L201.5 386.1L199.4 387.5L200.1 385.1L198.1 383.5L200.6 383.4ZM112.6 492.6L113.5 495.0L116.0 495.1L114.1 496.7L114.7 499.1L112.6 497.7L110.5 499.1L111.2 496.7L109.2 495.1L111.7 495.0ZM203.1 440.8L204.0 443.2L206.5 443.3L204.5 444.9L205.2 447.3L203.1 445.9L201.0 447.3L201.6 444.9L199.6 443.3L202.2 443.2ZM249.8 420.6L250.6 422.9L253.2 423.0L251.2 424.6L251.9 427.1L249.8 425.7L247.6 427.1L248.3 424.6L246.3 423.0L248.9 422.9ZM134.4 492.7L135.3 495.1L137.8 495.2L135.9 496.8L136.5 499.2L134.4 497.8L132.3 499.2L133.0 496.8L131.0 495.2L133.5 495.1ZM197.8 392.0L198.7 394.4L201.3 394.5L199.3 396.1L200.0 398.6L197.8 397.2L195.7 398.6L196.4 396.1L194.4 394.5L196.9 394.4ZM211.1 380.1L211.9 382.5L214.5 382.6L212.5 384.2L213.2 386.6L211.1 385.2L208.9 386.6L209.6 384.2L207.6 382.6L210.2 382.5ZM253.3 424.2L254.2 426.6L256.7 426.7L254.8 428.3L255.4 430.7L253.3 429.3L251.2 430.7L251.9 428.3L249.9 426.7L252.4 426.6ZM113.1 484.9L114.0 487.3L116.5 487.4L114.6 489.0L115.2 491.5L113.1 490.1L111.0 491.5L111.7 489.0L109.7 487.4L112.2 487.3ZM219.8 400.9L220.7 403.3L223.3 403.4L221.3 404.9L222.0 407.4L219.8 406.0L217.7 407.4L218.4 404.9L216.4 403.4L218.9 403.3ZM244.5 436.3L245.4 438.6L247.9 438.8L246.0 440.3L246.6 442.8L244.5 441.4L242.4 442.8L243.1 440.3L241.1 438.8L243.6 438.6ZM112.9 488.7L113.8 491.1L116.3 491.2L114.3 492.8L115.0 495.2L112.9 493.8L110.8 495.2L111.4 492.8L109.5 491.2L112.0 491.1ZM324.8 389.9L325.7 392.3L328.2 392.4L326.2 394.0L326.9 396.4L324.8 395.0L322.7 396.4L323.4 394.0L321.4 392.4L323.9 392.3ZM223.5 439.8L224.4 442.2L227.0 442.3L225.0 443.9L225.7 446.3L223.5 444.9L221.4 446.3L222.1 443.9L220.1 442.3L222.7 442.2ZM153.8 481.2L154.7 483.6L157.3 483.7L155.3 485.3L156.0 487.7L153.8 486.3L151.7 487.7L152.4 485.3L150.4 483.7L153.0 483.6ZM308.2 385.4L309.1 387.8L311.6 387.9L309.6 389.5L310.3 391.9L308.2 390.5L306.1 391.9L306.8 389.5L304.8 387.9L307.3 387.8ZM143.2 465.0L144.1 467.4L146.7 467.5L144.7 469.1L145.4 471.5L143.2 470.1L141.1 471.5L141.8 469.1L139.8 467.5L142.4 467.4ZM139.1 488.6L140.0 491.0L142.5 491.1L140.5 492.7L141.2 495.1L139.1 493.7L137.0 495.1L137.7 492.7L135.7 491.1L138.2 491.0ZM244.6 412.4L245.5 414.8L248.1 414.9L246.1 416.5L246.8 418.9L244.6 417.5L242.5 418.9L243.2 416.5L241.2 414.9L243.7 414.8ZM151.8 459.8L152.7 462.2L155.2 462.3L153.3 463.9L153.9 466.3L151.8 464.9L149.7 466.3L150.4 463.9L148.4 462.3L150.9 462.2ZM270.6 400.4L271.5 402.8L274.0 402.9L272.0 404.5L272.7 406.9L270.6 405.5L268.5 406.9L269.1 404.5L267.2 402.9L269.7 402.8ZM181.0 460.7L181.9 463.1L184.4 463.2L182.4 464.8L183.1 467.3L181.0 465.9L178.9 467.3L179.5 464.8L177.6 463.2L180.1 463.1ZM249.0 408.3L249.9 410.7L252.5 410.8L250.5 412.4L251.1 414.8L249.0 413.4L246.9 414.8L247.6 412.4L245.6 410.8L248.1 410.7ZM271.2 396.2L272.1 398.6L274.6 398.7L272.7 400.2L273.3 402.7L271.2 401.3L269.1 402.7L269.8 400.2L267.8 398.7L270.3 398.6ZM126.0 484.3L126.9 486.7L129.5 486.8L127.5 488.4L128.2 490.8L126.0 489.4L123.9 490.8L124.6 488.4L122.6 486.8L125.1 486.7ZM168.3 452.7L169.2 455.1L171.7 455.2L169.7 456.8L170.4 459.2L168.3 457.8L166.2 459.2L166.8 456.8L164.9 455.2L167.4 455.1ZM143.2 460.4L144.1 462.7L146.6 462.9L144.6 464.4L145.3 466.9L143.2 465.5L141.1 466.9L141.7 464.4L139.7 462.9L142.3 462.7ZM232.6 400.2L233.5 402.6L236.0 402.7L234.0 404.2L234.7 406.7L232.6 405.3L230.5 406.7L231.1 404.2L229.2 402.7L231.7 402.6ZM181.4 455.9L182.3 458.3L184.8 458.4L182.8 460.0L183.5 462.5L181.4 461.1L179.3 462.5L179.9 460.0L178.0 458.4L180.5 458.3ZM109.1 475.9L110.0 478.2L112.5 478.3L110.5 479.9L111.2 482.4L109.1 481.0L107.0 482.4L107.7 479.9L105.7 478.3L108.2 478.2ZM202.7 436.3L203.6 438.7L206.1 438.8L204.1 440.4L204.8 442.9L202.7 441.5L200.6 442.9L201.3 440.4L199.3 438.8L201.8 438.7ZM266.7 388.8L267.6 391.2L270.1 391.3L268.1 392.9L268.8 395.3L266.7 393.9L264.6 395.3L265.3 392.9L263.3 391.3L265.8 391.2ZM173.0 435.8L173.9 438.2L176.4 438.3L174.5 439.9L175.1 442.4L173.0 441.0L170.9 442.4L171.6 439.9L169.6 438.3L172.1 438.2ZM173.1 452.9L174.0 455.3L176.6 455.4L174.6 457.0L175.2 459.5L173.1 458.1L171.0 459.5L171.7 457.0L169.7 455.4L172.2 455.3ZM190.1 416.3L190.9 418.7L193.5 418.8L191.5 420.3L192.2 422.8L190.1 421.4L187.9 422.8L188.6 420.3L186.6 418.8L189.2 418.7ZM172.6 460.7L173.5 463.0L176.1 463.2L174.1 464.7L174.7 467.2L172.6 465.8L170.5 467.2L171.2 464.7L169.2 463.2L171.7 463.0ZM186.0 436.5L186.9 438.9L189.4 439.0L187.4 440.6L188.1 443.0L186.0 441.6L183.8 443.0L184.5 440.6L182.5 439.0L185.1 438.9ZM180.6 453.0L181.5 455.3L184.0 455.4L182.1 457.0L182.7 459.5L180.6 458.1L178.5 459.5L179.2 457.0L177.2 455.4L179.7 455.3ZM245.1 432.5L246.0 434.9L248.5 435.0L246.5 436.5L247.2 439.0L245.1 437.6L242.9 439.0L243.6 436.5L241.6 435.0L244.2 434.9ZM113.5 468.8L114.4 471.2L116.9 471.3L115.0 472.8L115.6 475.3L113.5 473.9L111.4 475.3L112.1 472.8L110.1 471.3L112.6 471.2ZM325.3 390.0L326.2 392.4L328.7 392.5L326.7 394.1L327.4 396.5L325.3 395.1L323.2 396.5L323.9 394.1L321.9 392.5L324.4 392.4ZM193.5 420.9L194.4 423.3L196.9 423.4L194.9 425.0L195.6 427.4L193.5 426.0L191.4 427.4L192.0 425.0L190.0 423.4L192.6 423.3ZM130.5 468.4L131.4 470.8L134.0 470.9L132.0 472.4L132.6 474.9L130.5 473.5L128.4 474.9L129.1 472.4L127.1 470.9L129.6 470.8ZM206.5 408.4L207.4 410.8L209.9 410.9L207.9 412.5L208.6 414.9L206.5 413.5L204.4 414.9L205.1 412.5L203.1 410.9L205.6 410.8ZM143.5 487.8L144.4 490.2L146.9 490.3L144.9 491.9L145.6 494.4L143.5 493.0L141.4 494.4L142.1 491.9L140.1 490.3L142.6 490.2ZM327.4 381.9L328.3 384.3L330.8 384.4L328.8 386.0L329.5 388.4L327.4 387.0L325.3 388.4L326.0 386.0L324.0 384.4L326.5 384.3ZM150.8 440.6L151.7 443.0L154.2 443.1L152.2 444.6L152.9 447.1L150.8 445.7L148.7 447.1L149.4 444.6L147.4 443.1L149.9 443.0ZM279.5 400.7L280.4 403.1L283.0 403.2L281.0 404.8L281.7 407.2L279.5 405.8L277.4 407.2L278.1 404.8L276.1 403.2L278.7 403.1ZM227.7 392.1L228.6 394.5L231.2 394.6L229.2 396.2L229.9 398.6L227.7 397.2L225.6 398.6L226.3 396.2L224.3 394.6L226.9 394.5ZM270.2 384.2L271.1 386.6L273.6 386.7L271.7 388.3L272.3 390.7L270.2 389.3L268.1 390.7L268.8 388.3L266.8 386.7L269.3 386.6ZM253.1 419.9L254.0 422.3L256.6 422.4L254.6 424.0L255.3 426.4L253.1 425.0L251.0 426.4L251.7 424.0L249.7 422.4L252.3 422.3ZM189.8 408.6L190.7 410.9L193.2 411.1L191.2 412.6L191.9 415.1L189.8 413.7L187.7 415.1L188.3 412.6L186.4 411.1L188.9 410.9ZM287.4 372.2L288.3 374.5L290.8 374.6L288.8 376.2L289.5 378.7L287.4 377.3L285.3 378.7L286.0 376.2L284.0 374.6L286.5 374.5ZM203.1 384.0L204.0 386.4L206.5 386.5L204.5 388.0L205.2 390.5L203.1 389.1L201.0 390.5L201.6 388.0L199.7 386.5L202.2 386.4ZM103.6 474.3L104.5 476.7L107.0 476.8L105.0 478.4L105.7 480.8L103.6 479.4L101.5 480.8L102.2 478.4L100.2 476.8L102.7 476.7ZM176.5 432.8L177.4 435.2L179.9 435.3L177.9 436.9L178.6 439.3L176.5 437.9L174.4 439.3L175.1 436.9L173.1 435.3L175.6 435.2ZM258.0 404.1L258.9 406.4L261.4 406.5L259.5 408.1L260.1 410.6L258.0 409.2L255.9 410.6L256.6 408.1L254.6 406.5L257.1 406.4ZM142.9 467.9L143.8 470.3L146.4 470.4L144.4 472.0L145.0 474.5L142.9 473.0L140.8 474.5L141.5 472.0L139.5 470.4L142.0 470.3ZM237.1 404.5L238.0 406.9L240.6 407.0L238.6 408.6L239.3 411.0L237.1 409.6L235.0 411.0L235.7 408.6L233.7 407.0L236.3 406.9ZM223.6 424.0L224.5 426.4L227.0 426.5L225.0 428.1L225.7 430.5L223.6 429.1L221.5 430.5L222.2 428.1L220.2 426.5L222.7 426.4ZM232.9 368.4L233.7 370.8L236.3 370.9L234.3 372.5L235.0 374.9L232.9 373.5L230.7 374.9L231.4 372.5L229.4 370.9L232.0 370.8ZM266.1 393.0L267.0 395.3L269.6 395.4L267.6 397.0L268.2 399.5L266.1 398.1L264.0 399.5L264.7 397.0L262.7 395.4L265.2 395.3ZM185.1 451.9L186.0 454.3L188.5 454.4L186.5 456.0L187.2 458.4L185.1 457.0L183.0 458.4L183.6 456.0L181.7 454.4L184.2 454.3ZM176.8 440.6L177.7 443.0L180.2 443.1L178.2 444.6L178.9 447.1L176.8 445.7L174.7 447.1L175.3 444.6L173.4 443.1L175.9 443.0ZM210.2 296.4L211.1 298.8L213.6 298.9L211.6 300.5L212.3 302.9L210.2 301.5L208.1 302.9L208.8 300.5L206.8 298.9L209.3 298.8ZM278.9 392.1L279.8 394.5L282.3 394.6L280.3 396.2L281.0 398.6L278.9 397.2L276.8 398.6L277.5 396.2L275.5 394.6L278.0 394.5ZM176.9 468.8L177.8 471.2L180.3 471.3L178.3 472.9L179.0 475.3L176.9 473.9L174.8 475.3L175.4 472.9L173.4 471.3L176.0 471.2ZM194.1 457.5L195.0 459.9L197.5 460.0L195.5 461.6L196.2 464.0L194.1 462.6L192.0 464.0L192.7 461.6L190.7 460.0L193.2 459.9ZM126.1 468.1L127.0 470.4L129.5 470.6L127.5 472.1L128.2 474.6L126.1 473.2L124.0 474.6L124.6 472.1L122.7 470.6L125.2 470.4ZM109.0 484.5L109.9 486.9L112.4 487.0L110.4 488.6L111.1 491.0L109.0 489.6L106.9 491.0L107.6 488.6L105.6 487.0L108.1 486.9ZM228.0 440.5L228.9 442.9L231.4 443.0L229.4 444.6L230.1 447.0L228.0 445.6L225.9 447.0L226.5 444.6L224.5 443.0L227.1 442.9ZM313.5 384.1L314.4 386.5L317.0 386.6L315.0 388.2L315.7 390.6L313.5 389.2L311.4 390.6L312.1 388.2L310.1 386.6L312.7 386.5ZM314.4 381.1L315.3 383.5L317.8 383.6L315.8 385.2L316.5 387.6L314.4 386.2L312.3 387.6L313.0 385.2L311.0 383.6L313.5 383.5ZM117.4 469.0L118.3 471.3L120.8 471.4L118.9 473.0L119.5 475.5L117.4 474.1L115.3 475.5L116.0 473.0L114.0 471.4L116.5 471.3ZM197.7 444.0L198.6 446.4L201.1 446.5L199.1 448.1L199.8 450.6L197.7 449.2L195.6 450.6L196.2 448.1L194.3 446.5L196.8 446.4ZM121.2 461.0L122.1 463.3L124.7 463.4L122.7 465.0L123.3 467.5L121.2 466.1L119.1 467.5L119.8 465.0L117.8 463.4L120.3 463.3ZM109.8 504.0L110.7 506.4L113.2 506.5L111.2 508.0L111.9 510.5L109.8 509.1L107.7 510.5L108.4 508.0L106.4 506.5L108.9 506.4ZM232.2 444.3L233.1 446.7L235.6 446.8L233.6 448.4L234.3 450.9L232.2 449.5L230.1 450.9L230.8 448.4L228.8 446.8L231.3 446.7ZM292.1 372.1L293.0 374.5L295.5 374.6L293.5 376.2L294.2 378.6L292.1 377.2L289.9 378.6L290.6 376.2L288.6 374.6L291.2 374.5ZM287.4 396.3L288.3 398.7L290.8 398.8L288.8 400.4L289.5 402.8L287.4 401.4L285.3 402.8L285.9 400.4L283.9 398.8L286.5 398.7ZM232.2 424.7L233.1 427.1L235.7 427.2L233.7 428.8L234.4 431.2L232.2 429.8L230.1 431.2L230.8 428.8L228.8 427.2L231.4 427.1ZM244.7 424.2L245.6 426.5L248.2 426.6L246.2 428.2L246.8 430.7L244.7 429.3L242.6 430.7L243.3 428.2L241.3 426.6L243.8 426.5ZM224.3 428.1L225.2 430.4L227.8 430.5L225.8 432.1L226.5 434.6L224.3 433.2L222.2 434.6L222.9 432.1L220.9 430.5L223.4 430.4ZM244.7 416.5L245.6 418.9L248.2 419.0L246.2 420.6L246.9 423.0L244.7 421.6L242.6 423.0L243.3 420.6L241.3 419.0L243.9 418.9ZM156.8 438.8L157.7 441.2L160.2 441.3L158.2 442.9L158.9 445.3L156.8 443.9L154.7 445.3L155.4 442.9L153.4 441.3L155.9 441.2ZM245.3 396.9L246.2 399.3L248.7 399.4L246.7 401.0L247.4 403.4L245.3 402.0L243.2 403.4L243.9 401.0L241.9 399.4L244.4 399.3ZM296.9 390.4L297.8 392.8L300.3 392.9L298.3 394.5L299.0 396.9L296.9 395.5L294.8 396.9L295.5 394.5L293.5 392.9L296.0 392.8ZM249.2 412.8L250.1 415.2L252.6 415.3L250.6 416.9L251.3 419.4L249.2 418.0L247.1 419.4L247.8 416.9L245.8 415.3L248.3 415.2ZM236.0 416.5L236.9 418.8L239.4 418.9L237.4 420.5L238.1 423.0L236.0 421.6L233.9 423.0L234.6 420.5L232.6 418.9L235.1 418.8ZM291.9 364.2L292.8 366.6L295.3 366.7L293.3 368.3L294.0 370.8L291.9 369.4L289.7 370.8L290.4 368.3L288.4 366.7L291.0 366.6ZM168.5 444.2L169.4 446.6L172.0 446.7L170.0 448.3L170.7 450.7L168.5 449.3L166.4 450.7L167.1 448.3L165.1 446.7L167.6 446.6ZM121.6 492.4L122.5 494.8L125.1 494.9L123.1 496.5L123.8 498.9L121.6 497.5L119.5 498.9L120.2 496.5L118.2 494.9L120.8 494.8ZM189.4 431.9L190.3 434.3L192.8 434.4L190.9 436.0L191.5 438.4L189.4 437.0L187.3 438.4L188.0 436.0L186.0 434.4L188.5 434.3ZM155.9 471.8L156.8 474.2L159.3 474.3L157.3 475.9L158.0 478.4L155.9 477.0L153.8 478.4L154.5 475.9L152.5 474.3L155.0 474.2ZM232.0 415.9L232.9 418.2L235.4 418.4L233.4 419.9L234.1 422.4L232.0 421.0L229.9 422.4L230.6 419.9L228.6 418.4L231.1 418.2ZM138.8 472.6L139.7 475.0L142.2 475.1L140.2 476.7L140.9 479.2L138.8 477.8L136.7 479.2L137.4 476.7L135.4 475.1L137.9 475.0ZM164.3 431.9L165.2 434.3L167.7 434.4L165.7 436.0L166.4 438.4L164.3 437.0L162.2 438.4L162.9 436.0L160.9 434.4L163.4 434.3ZM159.6 467.8L160.5 470.2L163.0 470.3L161.0 471.9L161.7 474.4L159.6 473.0L157.5 474.4L158.1 471.9L156.2 470.3L158.7 470.2ZM202.0 443.9L202.9 446.2L205.4 446.3L203.4 447.9L204.1 450.4L202.0 449.0L199.9 450.4L200.6 447.9L198.6 446.3L201.1 446.2ZM228.6 400.5L229.5 402.9L232.0 403.0L230.0 404.6L230.7 407.1L228.6 405.7L226.5 407.1L227.2 404.6L225.2 403.0L227.7 402.9ZM301.0 372.2L301.9 374.6L304.4 374.7L302.4 376.3L303.1 378.7L301.0 377.3L298.9 378.7L299.5 376.3L297.5 374.7L300.1 374.6ZM223.5 397.0L224.4 399.3L226.9 399.4L224.9 401.0L225.6 403.5L223.5 402.1L221.4 403.5L222.1 401.0L220.1 399.4L222.6 399.3ZM172.9 463.8L173.8 466.2L176.3 466.3L174.3 467.9L175.0 470.3L172.9 468.9L170.8 470.3L171.5 467.9L169.5 466.3L172.0 466.2ZM138.2 469.0L139.1 471.3L141.6 471.5L139.7 473.0L140.3 475.5L138.2 474.1L136.1 475.5L136.8 473.0L134.8 471.5L137.3 471.3ZM185.9 413.0L186.8 415.4L189.3 415.5L187.3 417.1L188.0 419.5L185.9 418.1L183.8 419.5L184.5 417.1L182.5 415.5L185.0 415.4ZM206.4 392.9L207.3 395.3L209.8 395.4L207.9 397.0L208.5 399.4L206.4 398.0L204.3 399.4L205.0 397.0L203.0 395.4L205.5 395.3ZM232.3 384.4L233.2 386.8L235.8 386.9L233.8 388.5L234.5 390.9L232.3 389.5L230.2 390.9L230.9 388.5L228.9 386.9L231.5 386.8ZM108.7 493.0L109.6 495.4L112.2 495.5L110.2 497.1L110.8 499.5L108.7 498.1L106.6 499.5L107.3 497.1L105.3 495.5L107.8 495.4ZM188.7 462.8L189.6 465.1L192.1 465.3L190.2 466.8L190.8 469.3L188.7 467.9L186.6 469.3L187.3 466.8L185.3 465.3L187.8 465.1ZM202.6 457.5L203.5 459.9L206.0 460.0L204.0 461.6L204.7 464.0L202.6 462.6L200.5 464.0L201.2 461.6L199.2 460.0L201.7 459.9ZM122.1 468.1L123.0 470.5L125.5 470.6L123.5 472.2L124.2 474.6L122.1 473.2L120.0 474.6L120.7 472.2L118.7 470.6L121.2 470.5ZM236.3 428.3L237.2 430.7L239.7 430.8L237.7 432.3L238.4 434.8L236.3 433.4L234.2 434.8L234.9 432.3L232.9 430.8L235.4 430.7ZM164.6 452.2L165.5 454.6L168.0 454.7L166.0 456.3L166.7 458.7L164.6 457.3L162.5 458.7L163.2 456.3L161.2 454.7L163.7 454.6ZM177.5 456.1L178.4 458.5L180.9 458.6L178.9 460.2L179.6 462.7L177.5 461.3L175.4 462.7L176.0 460.2L174.1 458.6L176.6 458.5ZM160.1 456.1L161.0 458.5L163.5 458.6L161.5 460.2L162.2 462.6L160.1 461.2L158.0 462.6L158.6 460.2L156.6 458.6L159.2 458.5ZM168.3 464.7L169.2 467.1L171.7 467.2L169.8 468.8L170.4 471.3L168.3 469.9L166.2 471.3L166.9 468.8L164.9 467.2L167.4 467.1ZM190.8 360.6L191.7 363.0L194.2 363.1L192.2 364.7L192.9 367.1L190.8 365.7L188.7 367.1L189.4 364.7L187.4 363.1L189.9 363.0ZM129.6 457.0L130.5 459.3L133.1 459.5L131.1 461.0L131.8 463.5L129.6 462.1L127.5 463.5L128.2 461.0L126.2 459.5L128.8 459.3ZM116.9 480.6L117.8 482.9L120.3 483.1L118.4 484.6L119.0 487.1L116.9 485.7L114.8 487.1L115.5 484.6L113.5 483.1L116.0 482.9ZM164.3 444.7L165.2 447.1L167.7 447.2L165.8 448.8L166.4 451.3L164.3 449.9L162.2 451.3L162.9 448.8L160.9 447.2L163.4 447.1ZM308.0 385.9L308.9 388.3L311.4 388.4L309.4 390.0L310.1 392.4L308.0 391.0L305.9 392.4L306.6 390.0L304.6 388.4L307.1 388.3ZM228.4 448.2L229.3 450.6L231.9 450.7L229.9 452.3L230.5 454.7L228.4 453.3L226.3 454.7L227.0 452.3L225.0 450.7L227.5 450.6ZM275.0 408.7L275.9 411.1L278.4 411.2L276.4 412.8L277.1 415.2L275.0 413.8L272.9 415.2L273.6 412.8L271.6 411.2L274.1 411.1ZM266.1 420.1L267.0 422.5L269.5 422.6L267.5 424.2L268.2 426.7L266.1 425.3L264.0 426.7L264.7 424.2L262.7 422.6L265.2 422.5ZM315.3 381.1L316.2 383.5L318.7 383.6L316.7 385.2L317.4 387.6L315.3 386.2L313.2 387.6L313.9 385.2L311.9 383.6L314.4 383.5ZM206.5 440.3L207.4 442.7L210.0 442.8L208.0 444.4L208.6 446.8L206.5 445.4L204.4 446.8L205.1 444.4L203.1 442.8L205.6 442.7ZM240.3 444.1L241.2 446.5L243.7 446.6L241.7 448.2L242.4 450.6L240.3 449.2L238.2 450.6L238.8 448.2L236.9 446.6L239.4 446.5ZM249.5 416.8L250.4 419.2L253.0 419.3L251.0 420.8L251.6 423.3L249.5 421.9L247.4 423.3L248.1 420.8L246.1 419.3L248.6 419.2ZM164.6 440.4L165.5 442.8L168.0 442.9L166.0 444.5L166.7 446.9L164.6 445.5L162.5 446.9L163.2 444.5L161.2 442.9L163.7 442.8ZM193.7 404.1L194.6 406.5L197.1 406.6L195.1 408.2L195.8 410.6L193.7 409.2L191.6 410.6L192.2 408.2L190.3 406.6L192.8 406.5ZM186.0 440.7L186.9 443.1L189.4 443.2L187.4 444.8L188.1 447.3L186.0 445.9L183.9 447.3L184.6 444.8L182.6 443.2L185.1 443.1ZM155.6 464.0L156.5 466.4L159.1 466.5L157.1 468.1L157.8 470.5L155.6 469.1L153.5 470.5L154.2 468.1L152.2 466.5L154.8 466.4ZM120.4 499.2L121.3 501.6L123.8 501.7L121.8 503.3L122.5 505.8L120.4 504.3L118.2 505.8L118.9 503.3L116.9 501.7L119.5 501.6ZM177.4 464.5L178.2 466.9L180.8 467.0L178.8 468.6L179.5 471.0L177.4 469.6L175.2 471.0L175.9 468.6L173.9 467.0L176.5 466.9ZM321.3 396.3L322.1 398.6L324.7 398.8L322.7 400.3L323.4 402.8L321.3 401.4L319.1 402.8L319.8 400.3L317.8 398.8L320.4 398.6ZM185.6 428.3L186.5 430.7L189.0 430.8L187.0 432.4L187.7 434.8L185.6 433.4L183.5 434.8L184.2 432.4L182.2 430.8L184.7 430.7ZM258.3 416.7L259.2 419.1L261.8 419.2L259.8 420.8L260.5 423.3L258.3 421.9L256.2 423.3L256.9 420.8L254.9 419.2L257.5 419.1ZM241.3 412.0L242.2 414.4L244.7 414.5L242.8 416.1L243.4 418.5L241.3 417.1L239.2 418.5L239.9 416.1L237.9 414.5L240.4 414.4ZM224.3 432.5L225.1 434.8L227.7 435.0L225.7 436.5L226.4 439.0L224.3 437.6L222.1 439.0L222.8 436.5L220.8 435.0L223.4 434.8ZM194.1 436.6L195.0 438.9L197.5 439.0L195.6 440.6L196.2 443.1L194.1 441.7L192.0 443.1L192.7 440.6L190.7 439.0L193.2 438.9ZM194.2 452.0L195.1 454.4L197.6 454.5L195.7 456.1L196.3 458.5L194.2 457.1L192.1 458.5L192.8 456.1L190.8 454.5L193.3 454.4ZM104.6 492.2L105.5 494.6L108.0 494.7L106.1 496.3L106.7 498.7L104.6 497.3L102.5 498.7L103.2 496.3L101.2 494.7L103.7 494.6ZM202.8 412.9L203.7 415.3L206.3 415.4L204.3 417.0L205.0 419.4L202.8 418.0L200.7 419.4L201.4 417.0L199.4 415.4L202.0 415.3ZM190.3 447.9L191.2 450.2L193.7 450.4L191.7 451.9L192.4 454.4L190.3 453.0L188.2 454.4L188.9 451.9L186.9 450.4L189.4 450.2ZM117.2 464.5L118.1 466.9L120.7 467.0L118.7 468.6L119.3 471.1L117.2 469.7L115.1 471.1L115.8 468.6L113.8 467.0L116.3 466.9ZM321.6 392.9L322.5 395.3L325.1 395.4L323.1 397.0L323.8 399.4L321.6 398.0L319.5 399.4L320.2 397.0L318.2 395.4L320.8 395.3ZM142.7 480.8L143.6 483.2L146.1 483.3L144.1 484.9L144.8 487.3L142.7 485.9L140.6 487.3L141.3 484.9L139.3 483.3L141.8 483.2ZM313.3 376.3L314.2 378.7L316.7 378.8L314.8 380.4L315.4 382.8L313.3 381.4L311.2 382.8L311.9 380.4L309.9 378.8L312.4 378.7ZM134.6 494.8L135.5 497.2L138.0 497.3L136.0 498.9L136.7 501.3L134.6 499.9L132.5 501.3L133.2 498.9L131.2 497.3L133.7 497.2ZM300.4 376.4L301.3 378.8L303.8 378.9L301.8 380.5L302.5 382.9L300.4 381.5L298.3 382.9L299.0 380.5L297.0 378.9L299.5 378.8ZM176.8 460.5L177.7 462.8L180.2 463.0L178.2 464.5L178.9 467.0L176.8 465.6L174.7 467.0L175.4 464.5L173.4 463.0L175.9 462.8ZM131.3 460.1L132.2 462.5L134.7 462.6L132.7 464.2L133.4 466.6L131.3 465.2L129.2 466.6L129.9 464.2L127.9 462.6L130.4 462.5ZM117.5 484.2L118.4 486.5L120.9 486.6L118.9 488.2L119.6 490.7L117.5 489.3L115.4 490.7L116.0 488.2L114.1 486.6L116.6 486.5ZM198.2 388.8L199.1 391.2L201.6 391.3L199.6 392.9L200.3 395.3L198.2 393.9L196.1 395.3L196.8 392.9L194.8 391.3L197.3 391.2ZM134.1 480.0L135.0 482.4L137.6 482.5L135.6 484.1L136.2 486.5L134.1 485.1L132.0 486.5L132.7 484.1L130.7 482.5L133.2 482.4ZM219.3 380.2L220.2 382.5L222.7 382.7L220.8 384.2L221.4 386.7L219.3 385.3L217.2 386.7L217.9 384.2L215.9 382.7L218.4 382.5ZM172.1 443.8L173.0 446.2L175.5 446.3L173.5 447.9L174.2 450.4L172.1 449.0L170.0 450.4L170.7 447.9L168.7 446.3L171.2 446.2ZM304.2 392.7L305.1 395.0L307.6 395.1L305.6 396.7L306.3 399.2L304.2 397.8L302.1 399.2L302.7 396.7L300.8 395.1L303.3 395.0ZM231.7 448.8L232.6 451.2L235.1 451.3L233.2 452.9L233.8 455.3L231.7 453.9L229.6 455.3L230.3 452.9L228.3 451.3L230.8 451.2ZM194.4 423.8L195.3 426.2L197.9 426.3L195.9 427.9L196.6 430.3L194.4 428.9L192.3 430.3L193.0 427.9L191.0 426.3L193.6 426.2ZM299.9 387.9L300.8 390.3L303.4 390.4L301.4 392.0L302.1 394.4L299.9 393.0L297.8 394.4L298.5 392.0L296.5 390.4L299.0 390.3ZM244.5 388.4L245.4 390.8L247.9 390.9L245.9 392.5L246.6 394.9L244.5 393.5L242.4 394.9L243.1 392.5L241.1 390.9L243.6 390.8ZM215.4 388.0L216.3 390.3L218.8 390.5L216.8 392.0L217.5 394.5L215.4 393.1L213.3 394.5L213.9 392.0L212.0 390.5L214.5 390.3ZM275.3 384.5L276.2 386.8L278.7 387.0L276.8 388.5L277.4 391.0L275.3 389.6L273.2 391.0L273.9 388.5L271.9 387.0L274.4 386.8ZM197.8 432.9L198.7 435.3L201.2 435.4L199.3 437.0L199.9 439.4L197.8 438.0L195.7 439.4L196.4 437.0L194.4 435.4L196.9 435.3ZM139.8 495.3L140.7 497.7L143.2 497.8L141.2 499.4L141.9 501.8L139.8 500.4L137.7 501.8L138.4 499.4L136.4 497.8L138.9 497.7ZM164.5 436.2L165.4 438.6L167.9 438.7L165.9 440.3L166.6 442.7L164.5 441.3L162.4 442.7L163.1 440.3L161.1 438.7L163.6 438.6ZM206.6 412.7L207.5 415.1L210.0 415.2L208.0 416.8L208.7 419.2L206.6 417.8L204.5 419.2L205.1 416.8L203.2 415.2L205.7 415.1ZM227.9 452.0L228.8 454.3L231.4 454.5L229.4 456.0L230.1 458.5L227.9 457.1L225.8 458.5L226.5 456.0L224.5 454.5L227.1 454.3ZM202.1 432.9L203.0 435.2L205.5 435.4L203.5 436.9L204.2 439.4L202.1 438.0L200.0 439.4L200.7 436.9L198.7 435.4L201.2 435.2ZM130.3 484.2L131.2 486.6L133.7 486.7L131.7 488.3L132.4 490.8L130.3 489.4L128.2 490.8L128.8 488.3L126.8 486.7L129.4 486.6ZM172.8 427.9L173.7 430.3L176.3 430.4L174.3 432.0L174.9 434.4L172.8 433.0L170.7 434.4L171.4 432.0L169.4 430.4L171.9 430.3ZM207.3 380.1L208.2 382.5L210.7 382.6L208.7 384.2L209.4 386.6L207.3 385.2L205.2 386.6L205.8 384.2L203.8 382.6L206.4 382.5ZM189.6 424.9L190.5 427.2L193.0 427.4L191.0 428.9L191.7 431.4L189.6 430.0L187.5 431.4L188.2 428.9L186.2 427.4L188.7 427.2ZM211.5 412.1L212.4 414.5L214.9 414.6L212.9 416.2L213.6 418.6L211.5 417.2L209.4 418.6L210.1 416.2L208.1 414.6L210.6 414.5ZM217.8 449.1L218.7 451.5L221.2 451.6L219.2 453.2L219.9 455.6L217.8 454.2L215.7 455.6L216.4 453.2L214.4 451.6L216.9 451.5ZM168.3 440.5L169.1 442.9L171.7 443.0L169.7 444.6L170.4 447.0L168.3 445.6L166.1 447.0L166.8 444.6L164.8 443.0L167.4 442.9ZM147.6 484.1L148.4 486.5L151.0 486.6L149.0 488.2L149.7 490.6L147.6 489.2L145.4 490.6L146.1 488.2L144.1 486.6L146.7 486.5ZM237.1 408.3L238.0 410.6L240.5 410.8L238.5 412.3L239.2 414.8L237.1 413.4L235.0 414.8L235.7 412.3L233.7 410.8L236.2 410.6ZM177.4 436.5L178.3 438.8L180.8 438.9L178.8 440.5L179.5 443.0L177.4 441.6L175.3 443.0L176.0 440.5L174.0 438.9L176.5 438.8ZM267.0 423.9L267.8 426.3L270.4 426.4L268.4 428.0L269.1 430.4L267.0 429.0L264.8 430.4L265.5 428.0L263.5 426.4L266.1 426.3ZM215.3 408.8L216.2 411.1L218.7 411.3L216.7 412.8L217.4 415.3L215.3 413.9L213.2 415.3L213.8 412.8L211.8 411.3L214.4 411.1ZM113.0 496.9L113.9 499.3L116.4 499.4L114.5 500.9L115.1 503.4L113.0 502.0L110.9 503.4L111.6 500.9L109.6 499.4L112.1 499.3ZM245.1 369.0L246.0 371.4L248.6 371.5L246.6 373.0L247.2 375.5L245.1 374.1L243.0 375.5L243.7 373.0L241.7 371.5L244.2 371.4ZM173.1 448.1L174.0 450.5L176.5 450.6L174.6 452.2L175.2 454.6L173.1 453.2L171.0 454.6L171.7 452.2L169.7 450.6L172.2 450.5ZM176.5 424.6L177.4 426.9L179.9 427.1L177.9 428.6L178.6 431.1L176.5 429.7L174.4 431.1L175.0 428.6L173.0 427.1L175.6 426.9ZM138.2 476.2L139.1 478.5L141.7 478.7L139.7 480.2L140.4 482.7L138.2 481.3L136.1 482.7L136.8 480.2L134.8 478.7L137.4 478.5ZM198.4 408.2L199.3 410.6L201.8 410.7L199.8 412.3L200.5 414.8L198.4 413.4L196.3 414.8L196.9 412.3L195.0 410.7L197.5 410.6ZM207.2 444.3L208.1 446.7L210.6 446.8L208.6 448.4L209.3 450.9L207.2 449.5L205.1 450.9L205.8 448.4L203.8 446.8L206.3 446.7ZM139.4 444.7L140.3 447.1L142.8 447.2L140.8 448.8L141.5 451.2L139.4 449.8L137.3 451.2L138.0 448.8L136.0 447.2L138.5 447.1ZM224.4 444.1L225.2 446.5L227.8 446.6L225.8 448.2L226.5 450.6L224.4 449.2L222.2 450.6L222.9 448.2L220.9 446.6L223.5 446.5ZM197.9 396.5L198.8 398.9L201.3 399.0L199.3 400.6L200.0 403.0L197.9 401.6L195.8 403.0L196.5 400.6L194.5 399.0L197.0 398.9ZM155.3 468.0L156.2 470.4L158.8 470.5L156.8 472.1L157.4 474.5L155.3 473.1L153.2 474.5L153.9 472.1L151.9 470.5L154.4 470.4ZM223.7 436.2L224.6 438.6L227.1 438.7L225.1 440.2L225.8 442.7L223.7 441.3L221.6 442.7L222.3 440.2L220.3 438.7L222.8 438.6ZM190.2 428.0L191.1 430.4L193.7 430.5L191.7 432.1L192.4 434.5L190.2 433.1L188.1 434.5L188.8 432.1L186.8 430.5L189.3 430.4ZM295.7 380.0L296.6 382.3L299.1 382.4L297.1 384.0L297.8 386.5L295.7 385.1L293.6 386.5L294.2 384.0L292.3 382.4L294.8 382.3ZM215.7 432.0L216.6 434.4L219.1 434.5L217.1 436.1L217.8 438.5L215.7 437.1L213.6 438.5L214.2 436.1L212.3 434.5L214.8 434.4ZM177.3 428.7L178.2 431.0L180.7 431.1L178.7 432.7L179.4 435.2L177.3 433.8L175.2 435.2L175.8 432.7L173.9 431.1L176.4 431.0ZM225.3 453.2L226.2 455.6L228.7 455.7L226.7 457.3L227.4 459.7L225.3 458.3L223.2 459.7L223.9 457.3L221.9 455.7L224.4 455.6ZM198.7 404.5L199.6 406.9L202.1 407.0L200.1 408.6L200.8 411.0L198.7 409.6L196.6 411.0L197.3 408.6L195.3 407.0L197.8 406.9ZM198.8 412.9L199.7 415.3L202.2 415.4L200.2 417.0L200.9 419.4L198.8 418.0L196.7 419.4L197.3 417.0L195.4 415.4L197.9 415.3ZM219.5 412.9L220.4 415.3L223.0 415.4L221.0 417.0L221.7 419.4L219.5 418.0L217.4 419.4L218.1 417.0L216.1 415.4L218.7 415.3ZM125.9 487.9L126.8 490.3L129.4 490.4L127.4 492.0L128.1 494.4L125.9 493.0L123.8 494.4L124.5 492.0L122.5 490.4L125.1 490.3ZM202.4 405.0L203.3 407.4L205.8 407.5L203.8 409.1L204.5 411.5L202.4 410.1L200.3 411.5L200.9 409.1L199.0 407.5L201.5 407.4ZM317.2 384.7L318.1 387.1L320.7 387.2L318.7 388.7L319.4 391.2L317.2 389.8L315.1 391.2L315.8 388.7L313.8 387.2L316.3 387.1ZM288.1 369.0L289.0 371.4L291.5 371.5L289.5 373.0L290.2 375.5L288.1 374.1L286.0 375.5L286.6 373.0L284.7 371.5L287.2 371.4ZM214.3 376.8L215.2 379.2L217.7 379.3L215.7 380.9L216.4 383.3L214.3 381.9L212.2 383.3L212.9 380.9L210.9 379.3L213.4 379.2ZM160.1 464.5L160.9 466.9L163.5 467.0L161.5 468.6L162.2 471.0L160.1 469.6L157.9 471.0L158.6 468.6L156.6 467.0L159.2 466.9ZM192.1 458.8L193.0 461.2L195.5 461.3L193.5 462.9L194.2 465.4L192.1 464.0L190.0 465.4L190.7 462.9L188.7 461.3L191.2 461.2ZM197.9 448.4L198.8 450.7L201.3 450.9L199.3 452.4L200.0 454.9L197.9 453.5L195.8 454.9L196.5 452.4L194.5 450.9L197.0 450.7ZM236.0 400.7L236.9 403.1L239.4 403.2L237.4 404.8L238.1 407.2L236.0 405.8L233.9 407.2L234.5 404.8L232.6 403.2L235.1 403.1ZM163.9 456.5L164.8 458.8L167.3 458.9L165.3 460.5L166.0 463.0L163.9 461.6L161.8 463.0L162.5 460.5L160.5 458.9L163.0 458.8ZM198.4 452.5L199.2 454.9L201.8 455.0L199.8 456.6L200.5 459.0L198.4 457.6L196.2 459.0L196.9 456.6L194.9 455.0L197.5 454.9ZM136.0 492.1L136.9 494.5L139.4 494.6L137.4 496.1L138.1 498.6L136.0 497.2L133.9 498.6L134.5 496.1L132.5 494.6L135.1 494.5ZM104.6 504.3L105.5 506.7L108.0 506.8L106.0 508.4L106.7 510.8L104.6 509.4L102.5 510.8L103.2 508.4L101.2 506.8L103.7 506.7ZM164.0 471.8L164.9 474.2L167.4 474.3L165.5 475.9L166.1 478.4L164.0 477.0L161.9 478.4L162.6 475.9L160.6 474.3L163.1 474.2ZM181.0 435.8L181.8 438.2L184.4 438.3L182.4 439.9L183.1 442.3L181.0 440.9L178.8 442.3L179.5 439.9L177.5 438.3L180.1 438.2ZM168.7 448.5L169.6 450.8L172.1 451.0L170.1 452.5L170.8 455.0L168.7 453.6L166.6 455.0L167.2 452.5L165.3 451.0L167.8 450.8ZM146.7 471.9L147.6 474.3L150.2 474.4L148.2 476.0L148.9 478.5L146.7 477.1L144.6 478.5L145.3 476.0L143.3 474.4L145.8 474.3ZM270.3 364.1L271.2 366.5L273.7 366.6L271.7 368.1L272.4 370.6L270.3 369.2L268.2 370.6L268.8 368.1L266.8 366.6L269.4 366.5ZM155.7 460.4L156.6 462.8L159.2 462.9L157.2 464.5L157.9 466.9L155.7 465.5L153.6 466.9L154.3 464.5L152.3 462.9L154.9 462.8ZM236.1 424.4L237.0 426.7L239.6 426.8L237.6 428.4L238.2 430.9L236.1 429.5L234.0 430.9L234.7 428.4L232.7 426.8L235.2 426.7Z" fill="#111" stroke="#fff" stroke-width="0.35" filter="url(#bl)"/>
<path d="M443.9 246.3L447.2 250.5L443.9 254.6L440.6 250.5ZM453.5 246.1L456.8 250.3L453.5 254.4L450.2 250.3ZM433.9 255.0L437.2 259.2L433.9 263.3L430.6 259.2ZM447.1 248.1L450.4 252.3L447.1 256.4L443.8 252.3ZM419.9 262.3L423.2 266.4L419.9 270.6L416.6 266.4ZM426.5 262.8L429.8 266.9L426.5 271.1L423.2 266.9ZM439.1 264.0L442.4 268.2L439.1 272.3L435.8 268.2ZM414.6 269.8L417.9 273.9L414.6 278.1L411.3 273.9ZM421.8 277.3L425.1 281.4L421.8 285.6L418.5 281.4ZM435.4 276.3L438.7 280.5L435.4 284.6L432.1 280.5ZM410.6 279.7L413.9 283.9L410.6 288.0L407.3 283.9ZM419.0 283.8L422.3 287.9L419.0 292.1L415.7 287.9ZM427.3 283.1L430.6 287.3L427.3 291.4L424.0 287.3ZM410.2 290.2L413.5 294.4L410.2 298.5L406.9 294.4ZM422.5 297.4L425.8 301.5L422.5 305.7L419.2 301.5ZM407.7 306.0L411.0 310.2L407.7 314.3L404.4 310.2ZM416.4 306.6L419.7 310.8L416.4 314.9L413.1 310.8ZM238.5 361.7L241.8 365.9L238.5 370.0L235.2 365.9ZM242.8 361.8L246.1 365.9L242.8 370.1L239.5 365.9ZM259.9 361.9L263.2 366.1L259.9 370.2L256.6 366.1ZM221.6 365.8L224.9 369.9L221.6 374.1L218.3 369.9ZM225.9 365.9L229.2 370.0L225.9 374.2L222.6 370.0ZM234.4 366.0L237.7 370.1L234.4 374.3L231.1 370.1ZM260.0 365.9L263.3 370.1L260.0 374.2L256.7 370.1ZM225.9 369.8L229.2 373.9L225.9 378.1L222.6 373.9ZM230.1 369.8L233.4 373.9L230.1 378.1L226.8 373.9ZM234.5 369.9L237.8 374.0L234.5 378.2L231.2 374.0ZM242.9 369.9L246.2 374.1L242.9 378.2L239.6 374.1ZM259.8 369.9L263.1 374.0L259.8 378.2L256.5 374.0ZM217.1 373.7L220.4 377.9L217.1 382.0L213.8 377.9ZM225.8 373.8L229.1 378.0L225.8 382.1L222.5 378.0ZM230.0 373.8L233.3 377.9L230.0 382.1L226.7 377.9ZM242.7 373.8L246.0 377.9L242.7 382.1L239.4 377.9ZM251.4 373.9L254.7 378.1L251.4 382.2L248.1 378.1ZM255.7 373.7L259.0 377.9L255.7 382.0L252.4 377.9ZM264.1 374.0L267.4 378.1L264.1 382.3L260.8 378.1ZM217.3 378.0L220.6 382.1L217.3 386.3L214.0 382.1ZM230.2 377.7L233.5 381.9L230.2 386.0L226.9 381.9ZM238.5 378.0L241.8 382.1L238.5 386.3L235.2 382.1ZM242.9 377.8L246.2 381.9L242.9 386.1L239.6 381.9ZM247.0 377.9L250.3 382.0L247.0 386.2L243.7 382.0ZM260.0 378.0L263.3 382.1L260.0 386.3L256.7 382.1ZM213.1 381.9L216.4 386.0L213.1 390.2L209.8 386.0ZM217.3 381.9L220.6 386.0L217.3 390.2L214.0 386.0ZM225.8 382.0L229.1 386.1L225.8 390.3L222.5 386.1ZM230.2 381.9L233.5 386.0L230.2 390.2L226.9 386.0ZM238.7 382.0L242.0 386.1L238.7 390.3L235.4 386.1ZM251.3 381.7L254.6 385.9L251.3 390.0L248.0 385.9ZM264.2 381.9L267.5 386.0L264.2 390.2L260.9 386.0ZM213.1 385.8L216.4 389.9L213.1 394.1L209.8 389.9ZM221.7 385.9L225.0 390.0L221.7 394.2L218.4 390.0ZM234.5 385.9L237.8 390.1L234.5 394.2L231.2 390.1ZM242.7 385.9L246.0 390.0L242.7 394.2L239.4 390.0ZM255.5 385.8L258.8 390.0L255.5 394.1L252.2 390.0ZM264.2 385.7L267.5 389.9L264.2 394.0L260.9 389.9ZM221.5 390.0L224.8 394.1L221.5 398.3L218.2 394.1ZM225.8 389.8L229.1 394.0L225.8 398.1L222.5 394.0ZM230.0 389.8L233.3 394.0L230.0 398.1L226.7 394.0ZM234.5 389.8L237.8 393.9L234.5 398.1L231.2 393.9ZM238.7 389.8L242.0 394.0L238.7 398.1L235.4 394.0ZM255.5 389.9L258.8 394.1L255.5 398.2L252.2 394.1ZM259.9 389.9L263.2 394.0L259.9 398.2L256.6 394.0ZM213.1 393.8L216.4 397.9L213.1 402.1L209.8 397.9ZM221.6 393.9L224.9 398.0L221.6 402.2L218.3 398.0ZM225.9 393.8L229.2 397.9L225.9 402.1L222.6 397.9ZM229.9 393.9L233.2 398.0L229.9 402.2L226.6 398.0ZM242.9 393.7L246.2 397.9L242.9 402.0L239.6 397.9ZM247.2 394.0L250.5 398.1L247.2 402.3L243.9 398.1ZM208.9 397.8L212.2 401.9L208.9 406.1L205.6 401.9ZM213.1 397.8L216.4 402.0L213.1 406.1L209.8 402.0ZM230.0 397.7L233.3 401.9L230.0 406.0L226.7 401.9ZM234.3 397.9L237.6 402.1L234.3 406.2L231.0 402.1ZM247.1 397.8L250.4 401.9L247.1 406.1L243.8 401.9ZM234.4 401.9L237.7 406.1L234.4 410.2L231.1 406.1ZM242.7 401.9L246.0 406.0L242.7 410.2L239.4 406.0ZM208.8 405.7L212.1 409.9L208.8 414.0L205.5 409.9ZM217.1 405.9L220.4 410.0L217.1 414.2L213.8 410.0ZM221.5 405.7L224.8 409.9L221.5 414.0L218.2 409.9ZM225.8 405.9L229.1 410.1L225.8 414.2L222.5 410.1ZM230.2 405.7L233.5 409.9L230.2 414.0L226.9 409.9ZM234.4 405.8L237.7 409.9L234.4 414.1L231.1 409.9ZM238.6 405.8L241.9 409.9L238.6 414.1L235.3 409.9ZM200.3 409.8L203.6 414.0L200.3 418.1L197.0 414.0ZM204.5 409.9L207.8 414.1L204.5 418.2L201.2 414.1ZM213.0 409.9L216.3 414.0L213.0 418.2L209.7 414.0ZM217.4 410.0L220.7 414.1L217.4 418.3L214.1 414.1ZM230.2 409.7L233.5 413.9L230.2 418.0L226.9 413.9ZM238.6 409.9L241.9 414.0L238.6 418.2L235.3 414.0ZM208.7 413.9L212.0 418.1L208.7 422.2L205.4 418.1ZM213.0 413.9L216.3 418.0L213.0 422.2L209.7 418.0ZM200.2 417.7L203.5 421.9L200.2 426.0L196.9 421.9ZM212.9 417.7L216.2 421.9L212.9 426.0L209.6 421.9ZM217.4 417.9L220.7 422.1L217.4 426.2L214.1 422.1ZM225.7 417.7L229.0 421.9L225.7 426.0L222.4 421.9ZM204.4 421.7L207.7 425.8L204.4 430.0L201.1 425.8ZM192.8 343.0L196.1 347.1L192.8 351.2L189.5 347.1ZM218.7 346.2L222.0 350.3L218.7 354.4L215.4 350.3ZM233.3 351.2L236.6 355.4L233.3 359.5L230.0 355.4ZM248.4 346.2L251.7 350.3L248.4 354.4L245.1 350.3ZM374.0 356.5L377.3 360.6L374.0 364.8L370.7 360.6ZM412.8 365.2L416.1 369.3L412.8 373.4L409.5 369.3ZM384.5 385.1L387.8 389.2L384.5 393.3L381.2 389.2ZM291.1 398.2L294.4 402.3L291.1 406.4L287.8 402.3ZM288.8 412.8L292.1 416.9L288.8 421.0L285.5 416.9ZM301.9 412.8L305.2 416.9L301.9 421.0L298.6 416.9ZM306.3 418.7L309.6 422.8L306.3 426.9L303.0 422.8ZM312.1 428.2L315.4 432.4L312.1 436.5L308.8 432.4ZM291.7 425.9L295.0 430.0L291.7 434.1L288.4 430.0ZM285.8 427.4L289.1 431.5L285.8 435.6L282.5 431.5ZM282.3 431.2L285.6 435.3L282.3 439.4L279.0 435.3ZM281.5 418.7L284.8 422.8L281.5 426.9L278.2 422.8ZM280.8 418.4L284.1 422.5L280.8 426.6L277.5 422.5ZM275.5 423.8L278.8 427.9L275.5 432.0L272.2 427.9ZM283.5 430.0L286.8 434.1L283.5 438.2L280.2 434.1ZM290.6 424.7L293.9 428.8L290.6 432.9L287.3 428.8ZM292.4 427.2L295.7 431.4L292.4 435.5L289.1 431.4ZM276.4 431.8L279.7 435.9L276.4 440.0L273.1 435.9ZM253.3 428.2L256.6 432.3L253.3 436.4L250.0 432.3ZM258.6 426.4L261.9 430.5L258.6 434.6L255.3 430.5ZM262.2 424.7L265.5 428.8L262.2 432.9L258.9 428.8ZM483.2 216.8L486.5 221.0L483.2 225.2L479.9 221.0ZM495.8 216.8L499.1 221.0L495.8 225.2L492.5 221.0ZM489.4 229.2L492.7 233.4L489.4 237.6L486.1 233.4ZM470.4 235.2L473.7 239.4L470.4 243.6L467.1 239.4ZM457.5 228.8L460.8 232.9L457.5 237.1L454.2 232.9ZM451.4 232.2L454.7 236.4L451.4 240.6L448.1 236.4ZM459.8 237.5L463.1 241.7L459.8 245.8L456.5 241.7ZM461.5 245.2L464.8 249.4L461.5 253.6L458.2 249.4ZM450.9 246.4L454.2 250.6L450.9 254.8L447.6 250.6ZM527.8 215.3L531.1 219.5L527.8 223.7L524.5 219.5ZM527.8 219.8L531.1 224.0L527.8 228.2L524.5 224.0ZM498.0 270.1L501.3 274.2L498.0 278.3L494.7 274.2ZM510.7 275.5L514.0 279.6L510.7 283.8L507.4 279.6ZM489.4 279.4L492.7 283.5L489.4 287.6L486.1 283.5ZM487.3 288.2L490.6 292.4L487.3 296.5L484.0 292.4ZM500.1 289.2L503.4 293.3L500.1 297.4L496.8 293.3ZM473.1 288.2L476.4 292.4L473.1 296.5L469.8 292.4ZM472.2 290.9L475.5 295.0L472.2 299.1L468.9 295.0ZM459.8 294.5L463.1 298.6L459.8 302.8L456.5 298.6ZM454.4 293.6L457.7 297.7L454.4 301.8L451.1 297.7ZM451.5 232.2L454.8 236.4L451.5 240.6L448.2 236.4ZM457.4 228.7L460.7 232.8L457.4 237.0L454.1 232.8ZM459.9 237.2L463.2 241.3L459.9 245.5L456.6 241.3ZM461.8 244.7L465.1 248.8L461.8 253.0L458.5 248.8ZM448.8 245.5L452.1 249.7L448.8 253.8L445.5 249.7ZM446.5 248.2L449.8 252.4L446.5 256.6L443.2 252.4ZM434.6 243.8L437.9 247.9L434.6 252.1L431.3 247.9ZM430.2 244.7L433.5 248.8L430.2 253.0L426.9 248.8ZM432.9 248.2L436.2 252.4L432.9 256.6L429.6 252.4ZM436.4 252.7L439.7 256.8L436.4 260.9L433.1 256.8ZM444.4 252.7L447.7 256.8L444.4 260.9L441.1 256.8ZM429.3 251.8L432.6 255.9L429.3 260.1L426.0 255.9ZM295.4 279.4L298.7 283.5L295.4 287.6L292.1 283.5ZM263.1 286.1L266.4 290.2L263.1 294.3L259.8 290.2ZM269.8 289.2L273.1 293.3L269.8 297.4L266.5 293.3ZM278.2 294.1L281.5 298.2L278.2 302.3L274.9 298.2ZM316.6 270.1L319.9 274.2L316.6 278.3L313.3 274.2ZM295.3 279.5L298.6 283.6L295.3 287.8L292.0 283.6ZM346.5 273.6L349.8 277.7L346.5 281.8L343.2 277.7ZM327.3 283.7L330.6 287.8L327.3 291.9L324.0 287.8ZM342.4 290.5L345.7 294.6L342.4 298.8L339.1 294.6ZM380.6 296.7L383.9 300.8L380.6 304.9L377.3 300.8ZM385.0 314.5L388.3 318.6L385.0 322.8L381.7 318.6ZM269.8 289.5L273.1 293.6L269.8 297.8L266.5 293.6ZM278.1 295.1L281.4 299.2L278.1 303.3L274.8 299.2ZM288.3 298.0L291.6 302.1L288.3 306.2L285.0 302.1ZM248.5 346.2L251.8 350.4L248.5 354.5L245.2 350.4ZM244.3 351.9L247.6 356.0L244.3 360.1L241.0 356.0ZM252.8 355.5L256.1 359.6L252.8 363.8L249.5 359.6ZM257.0 343.4L260.3 347.5L257.0 351.6L253.7 347.5ZM262.0 350.5L265.3 354.6L262.0 358.8L258.7 354.6ZM248.5 357.6L251.8 361.7L248.5 365.8L245.2 361.7ZM241.4 355.5L244.7 359.6L241.4 363.8L238.1 359.6ZM275.5 339.2L278.8 343.3L275.5 347.4L272.2 343.3ZM316.4 270.0L319.7 274.1L316.4 278.2L313.1 274.1ZM346.2 274.0L349.5 278.1L346.2 282.2L342.9 278.1ZM327.8 284.0L331.1 288.1L327.8 292.2L324.5 288.1ZM341.3 291.4L344.6 295.5L341.3 299.6L338.0 295.5ZM381.0 297.0L384.3 301.1L381.0 305.2L377.7 301.1ZM385.3 317.6L388.6 321.7L385.3 325.8L382.0 321.7ZM434.8 243.8L438.1 248.0L434.8 252.2L431.5 248.0ZM430.4 243.8L433.7 248.0L430.4 252.2L427.1 248.0ZM428.6 250.0L431.9 254.2L428.6 258.3L425.3 254.2ZM435.7 253.7L439.0 257.8L435.7 261.9L432.4 257.8ZM433.1 259.0L436.4 263.1L433.1 267.2L429.8 263.1ZM442.8 255.3L446.1 259.5L442.8 263.6L439.5 259.5ZM439.3 260.8L442.6 264.9L439.3 269.0L436.0 264.9ZM435.7 262.5L439.0 266.6L435.7 270.8L432.4 266.6ZM420.6 259.0L423.9 263.1L420.6 267.2L417.3 263.1ZM417.1 267.0L420.4 271.1L417.1 275.2L413.8 271.1ZM433.9 269.6L437.2 273.7L433.9 277.8L430.6 273.7ZM436.6 275.9L439.9 280.0L436.6 284.1L433.3 280.0ZM392.2 280.2L395.5 284.4L392.2 288.5L388.9 284.4ZM393.1 298.1L396.4 302.2L393.1 306.3L389.8 302.2ZM380.7 296.2L384.0 300.4L380.7 304.5L377.4 300.4ZM417.1 305.2L420.4 309.3L417.1 313.4L413.8 309.3ZM426.8 304.2L430.1 308.4L426.8 312.5L423.5 308.4ZM423.3 306.9L426.6 311.0L423.3 315.1L420.0 311.0ZM448.2 299.0L451.5 303.1L448.2 307.2L444.9 303.1ZM454.4 297.2L457.7 301.3L454.4 305.4L451.1 301.3ZM459.7 295.4L463.0 299.5L459.7 303.6L456.4 299.5ZM446.4 304.2L449.7 308.4L446.4 312.5L443.1 308.4ZM440.2 312.2L443.5 316.4L440.2 320.5L436.9 316.4ZM438.4 321.2L441.7 325.3L438.4 329.4L435.1 325.3ZM423.3 321.2L426.6 325.3L423.3 329.4L420.0 325.3ZM412.6 306.1L415.9 310.2L412.6 314.3L409.3 310.2ZM407.3 310.5L410.6 314.6L407.3 318.8L404.0 314.6ZM403.7 312.2L407.0 316.4L403.7 320.5L400.4 316.4ZM398.4 312.2L401.7 316.4L398.4 320.5L395.1 316.4ZM401.1 316.7L404.4 320.8L401.1 324.9L397.8 320.8ZM385.1 317.6L388.4 321.7L385.1 325.8L381.8 321.7ZM387.8 322.9L391.1 327.0L387.8 331.1L384.5 327.0ZM399.3 326.5L402.6 330.6L399.3 334.8L396.0 330.6ZM412.6 330.0L415.9 334.1L412.6 338.2L409.3 334.1ZM418.0 330.0L421.3 334.1L418.0 338.2L414.7 334.1ZM393.1 331.8L396.4 335.9L393.1 340.0L389.8 335.9ZM385.0 385.6L388.3 389.7L385.0 393.8L381.7 389.7ZM412.5 365.2L415.8 369.3L412.5 373.4L409.2 369.3ZM427.6 349.5L430.9 353.6L427.6 357.8L424.3 353.6ZM440.4 338.9L443.7 343.0L440.4 347.1L437.1 343.0ZM408.4 337.1L411.7 341.2L408.4 345.3L405.1 341.2ZM412.9 330.5L416.2 334.6L412.9 338.8L409.6 334.6ZM419.1 329.6L422.4 333.7L419.1 337.8L415.8 333.7ZM423.5 320.8L426.8 324.9L423.5 329.0L420.2 324.9ZM438.6 321.1L441.9 325.2L438.6 329.3L435.3 325.2ZM440.4 313.2L443.7 317.4L440.4 321.5L437.1 317.4ZM422.6 313.7L425.9 317.8L422.6 321.9L419.3 317.8ZM425.3 304.8L428.6 308.9L425.3 313.0L422.0 308.9ZM428.0 305.7L431.3 309.8L428.0 313.9L424.7 309.8ZM417.3 304.8L420.6 308.9L417.3 313.0L414.0 308.9ZM412.0 310.1L415.3 314.2L412.0 318.3L408.7 314.2ZM406.6 313.7L409.9 317.8L406.6 321.9L403.3 317.8ZM403.1 310.1L406.4 314.2L403.1 318.3L399.8 314.2ZM399.5 312.8L402.8 316.9L399.5 321.0L396.2 316.9ZM397.8 316.2L401.1 320.4L397.8 324.5L394.5 320.4ZM385.3 318.1L388.6 322.2L385.3 326.3L382.0 322.2ZM390.7 322.5L394.0 326.6L390.7 330.8L387.4 326.6ZM400.4 326.1L403.7 330.2L400.4 334.3L397.1 330.2ZM391.5 330.5L394.8 334.6L391.5 338.8L388.2 334.6ZM388.0 343.0L391.3 347.1L388.0 351.2L384.7 347.1ZM380.9 346.5L384.2 350.6L380.9 354.8L377.6 350.6ZM393.3 299.5L396.6 303.6L393.3 307.8L390.0 303.6ZM448.4 298.6L451.7 302.7L448.4 306.8L445.1 302.7ZM455.5 296.8L458.8 300.9L455.5 305.0L452.2 300.9ZM460.8 296.8L464.1 300.9L460.8 305.0L457.5 300.9ZM472.4 304.8L475.7 308.9L472.4 313.0L469.1 308.9ZM446.6 304.8L449.9 308.9L446.6 313.0L443.3 308.9ZM384.7 385.4L388.0 389.5L384.7 393.6L381.4 389.5ZM374.3 355.9L377.6 360.0L374.3 364.1L371.0 360.0ZM370.3 352.7L373.6 356.8L370.3 360.9L367.0 356.8ZM378.3 347.1L381.6 351.2L378.3 355.3L375.0 351.2ZM373.5 339.9L376.8 344.0L373.5 348.1L370.2 344.0ZM384.7 318.2L388.0 322.4L384.7 326.5L381.4 322.4ZM386.3 343.1L389.6 347.2L386.3 351.3L383.0 347.2ZM347.2 331.1L350.5 335.2L347.2 339.3L343.9 335.2ZM340.1 328.7L343.4 332.8L340.1 336.9L336.8 332.8ZM329.6 361.5L332.9 365.6L329.6 369.8L326.3 365.6ZM332.0 351.9L335.3 356.0L332.0 360.1L328.7 356.0ZM328.0 358.2L331.3 362.4L328.0 366.5L324.7 362.4ZM178.0 346.4L181.3 350.5L178.0 354.6L174.7 350.5ZM193.1 343.2L196.4 347.3L193.1 351.4L189.8 347.3ZM169.5 393.8L172.8 397.9L169.5 402.0L166.2 397.9ZM218.6 345.9L221.9 350.0L218.6 354.1L215.3 350.0ZM233.5 350.8L236.8 354.9L233.5 359.0L230.2 354.9ZM248.5 345.2L251.8 349.3L248.5 353.4L245.2 349.3ZM220.5 355.2L223.8 359.3L220.5 363.4L217.2 359.3ZM242.2 354.5L245.5 358.6L242.2 362.8L238.9 358.6ZM252.8 355.2L256.1 359.3L252.8 363.4L249.5 359.3ZM248.5 358.9L251.8 363.0L248.5 367.1L245.2 363.0ZM218.6 363.9L221.9 368.0L218.6 372.1L215.3 368.0ZM223.0 361.4L226.3 365.5L223.0 369.6L219.7 365.5ZM233.5 363.9L236.8 368.0L233.5 372.1L230.2 368.0ZM228.0 367.6L231.3 371.7L228.0 375.8L224.7 371.7ZM239.1 367.0L242.4 371.1L239.1 375.2L235.8 371.1ZM244.7 364.5L248.0 368.6L244.7 372.8L241.4 368.6ZM249.7 364.5L253.0 368.6L249.7 372.8L246.4 368.6ZM254.7 365.1L258.0 369.2L254.7 373.3L251.4 369.2ZM259.0 362.0L262.3 366.1L259.0 370.2L255.7 366.1ZM257.2 343.4L260.5 347.5L257.2 351.6L253.9 347.5ZM231.1 372.0L234.4 376.1L231.1 380.2L227.8 376.1ZM221.1 373.8L224.4 377.9L221.1 382.0L217.8 377.9ZM226.1 376.9L229.4 381.0L226.1 385.1L222.8 381.0ZM234.8 373.2L238.1 377.3L234.8 381.4L231.5 377.3ZM175.6 418.6L178.9 422.7L175.6 426.8L172.3 422.7ZM179.9 472.6L183.2 476.7L179.9 480.8L176.6 476.7ZM168.5 471.2L171.8 475.3L168.5 479.4L165.2 475.3ZM191.3 462.7L194.6 466.8L191.3 470.9L188.0 466.8ZM174.2 461.2L177.5 465.3L174.2 469.4L170.9 465.3ZM178.5 449.9L181.8 454.0L178.5 458.1L175.2 454.0ZM412.8 365.2L416.1 369.3L412.8 373.4L409.5 369.3ZM384.5 385.1L387.8 389.2L384.5 393.3L381.2 389.2Z" fill="#d8d8d8" fill-opacity="0.6" stroke="#7c7c7c" stroke-width="0.72"/>
<path d="M265.9 394.5h6.4M269.1 391.3v6.4M266.8 392.3l4.5 4.5M266.8 396.8l4.5 -4.5M271.1 392.1h6.4M274.3 388.9v6.4M272.0 389.8l4.5 4.5M272.0 394.3l4.5 -4.5M278.6 393.9h6.4M281.8 390.7v6.4M279.5 391.6l4.5 4.5M279.5 396.1l4.5 -4.5M283.2 393.5h6.4M286.4 390.3v6.4M284.1 391.2l4.5 4.5M284.1 395.8l4.5 -4.5M285.9 390.8h6.4M289.1 387.6v6.4M286.8 388.6l4.5 4.5M286.8 393.1l4.5 -4.5M258.1 398.8h6.4M261.3 395.6v6.4M259.1 396.5l4.5 4.5M259.1 401.1l4.5 -4.5M263.2 397.7h6.4M266.4 394.5v6.4M264.2 395.5l4.5 4.5M264.2 400.0l4.5 -4.5M271.4 397.6h6.4M274.6 394.4v6.4M272.3 395.3l4.5 4.5M272.3 399.8l4.5 -4.5M276.5 396.0h6.4M279.7 392.8v6.4M277.5 393.8l4.5 4.5M277.5 398.3l4.5 -4.5M278.6 395.0h6.4M281.8 391.8v6.4M279.5 392.7l4.5 4.5M279.5 397.3l4.5 -4.5M286.3 395.4h6.4M289.5 392.2v6.4M287.2 393.1l4.5 4.5M287.2 397.6l4.5 -4.5M255.2 401.6h6.4M258.4 398.4v6.4M256.1 399.3l4.5 4.5M256.1 403.8l4.5 -4.5M260.2 402.7h6.4M263.4 399.5v6.4M261.1 400.4l4.5 4.5M261.1 405.0l4.5 -4.5M268.6 403.2h6.4M271.8 400.0v6.4M269.6 401.0l4.5 4.5M269.6 405.5l4.5 -4.5M270.1 403.0h6.4M273.3 399.8v6.4M271.1 400.7l4.5 4.5M271.1 405.2l4.5 -4.5M277.6 402.8h6.4M280.8 399.6v6.4M278.6 400.6l4.5 4.5M278.6 405.1l4.5 -4.5M282.6 402.0h6.4M285.8 398.8v6.4M283.5 399.7l4.5 4.5M283.5 404.3l4.5 -4.5M288.2 402.8h6.4M291.4 399.6v6.4M289.1 400.5l4.5 4.5M289.1 405.0l4.5 -4.5M254.2 405.1h6.4M257.4 401.9v6.4M255.1 402.9l4.5 4.5M255.1 407.4l4.5 -4.5M258.8 404.0h6.4M262.0 400.8v6.4M259.7 401.7l4.5 4.5M259.7 406.2l4.5 -4.5M265.4 404.0h6.4M268.6 400.8v6.4M266.4 401.8l4.5 4.5M266.4 406.3l4.5 -4.5M271.0 407.3h6.4M274.2 404.1v6.4M271.9 405.0l4.5 4.5M271.9 409.6l4.5 -4.5M274.6 404.4h6.4M277.8 401.2v6.4M275.6 402.2l4.5 4.5M275.6 406.7l4.5 -4.5M280.6 404.8h6.4M283.8 401.6v6.4M281.6 402.5l4.5 4.5M281.6 407.1l4.5 -4.5M284.9 404.4h6.4M288.1 401.2v6.4M285.8 402.1l4.5 4.5M285.8 406.7l4.5 -4.5M257.6 412.0h6.4M260.8 408.8v6.4M258.5 409.7l4.5 4.5M258.5 414.2l4.5 -4.5M263.2 408.9h6.4M266.4 405.7v6.4M264.2 406.6l4.5 4.5M264.2 411.1l4.5 -4.5M266.4 409.7h6.4M269.6 406.5v6.4M267.4 407.4l4.5 4.5M267.4 412.0l4.5 -4.5M273.3 409.1h6.4M276.5 405.9v6.4M274.2 406.8l4.5 4.5M274.2 411.3l4.5 -4.5M277.8 412.5h6.4M281.0 409.3v6.4M278.8 410.2l4.5 4.5M278.8 414.8l4.5 -4.5M254.1 414.8h6.4M257.3 411.6v6.4M255.0 412.6l4.5 4.5M255.0 417.1l4.5 -4.5M258.8 415.5h6.4M262.0 412.3v6.4M259.8 413.2l4.5 4.5M259.8 417.7l4.5 -4.5M265.0 416.8h6.4M268.2 413.6v6.4M266.0 414.5l4.5 4.5M266.0 419.0l4.5 -4.5M270.6 416.3h6.4M273.8 413.1v6.4M271.5 414.0l4.5 4.5M271.5 418.5l4.5 -4.5M250.1 421.4h6.4M253.3 418.2v6.4M251.0 419.1l4.5 4.5M251.0 423.6l4.5 -4.5M256.4 420.4h6.4M259.6 417.2v6.4M257.3 418.1l4.5 4.5M257.3 422.6l4.5 -4.5M260.8 418.7h6.4M264.0 415.5v6.4M261.7 416.4l4.5 4.5M261.7 421.0l4.5 -4.5M266.4 418.8h6.4M269.6 415.6v6.4M267.3 416.5l4.5 4.5M267.3 421.1l4.5 -4.5M270.5 419.3h6.4M273.7 416.1v6.4M271.5 417.0l4.5 4.5M271.5 421.5l4.5 -4.5M249.9 423.1h6.4M253.1 419.9v6.4M250.8 420.8l4.5 4.5M250.8 425.3l4.5 -4.5M253.0 423.7h6.4M256.2 420.5v6.4M253.9 421.4l4.5 4.5M253.9 425.9l4.5 -4.5M257.2 422.9h6.4M260.4 419.7v6.4M258.1 420.6l4.5 4.5M258.1 425.2l4.5 -4.5M258.5 427.1h6.4M261.7 423.9v6.4M259.5 424.9l4.5 4.5M259.5 429.4l4.5 -4.5M316.3 301.8h6.4M319.5 298.6v6.4M317.2 299.6l4.5 4.5M317.2 304.1l4.5 -4.5M323.7 300.2h6.4M326.9 297.0v6.4M324.6 297.9l4.5 4.5M324.6 302.4l4.5 -4.5M325.1 301.6h6.4M328.3 298.4v6.4M326.0 299.3l4.5 4.5M326.0 303.9l4.5 -4.5M311.4 303.0h6.4M314.6 299.8v6.4M312.3 300.7l4.5 4.5M312.3 305.3l4.5 -4.5M315.3 304.2h6.4M318.5 301.0v6.4M316.3 301.9l4.5 4.5M316.3 306.4l4.5 -4.5M320.2 302.8h6.4M323.4 299.6v6.4M321.1 300.6l4.5 4.5M321.1 305.1l4.5 -4.5M325.0 304.5h6.4M328.2 301.3v6.4M326.0 302.2l4.5 4.5M326.0 306.7l4.5 -4.5M291.4 309.5h6.4M294.6 306.3v6.4M292.4 307.3l4.5 4.5M292.4 311.8l4.5 -4.5M301.6 308.0h6.4M304.8 304.8v6.4M302.6 305.7l4.5 4.5M302.6 310.2l4.5 -4.5M308.6 307.9h6.4M311.8 304.7v6.4M309.5 305.6l4.5 4.5M309.5 310.2l4.5 -4.5M319.4 308.7h6.4M322.6 305.5v6.4M320.3 306.5l4.5 4.5M320.3 311.0l4.5 -4.5M321.7 309.3h6.4M324.9 306.1v6.4M322.6 307.0l4.5 4.5M322.6 311.5l4.5 -4.5M282.2 313.2h6.4M285.4 310.0v6.4M283.1 310.9l4.5 4.5M283.1 315.5l4.5 -4.5M285.4 312.7h6.4M288.6 309.5v6.4M286.4 310.4l4.5 4.5M286.4 314.9l4.5 -4.5M292.3 311.4h6.4M295.5 308.2v6.4M293.2 309.1l4.5 4.5M293.2 313.7l4.5 -4.5M296.3 310.9h6.4M299.5 307.7v6.4M297.3 308.7l4.5 4.5M297.3 313.2l4.5 -4.5M298.5 312.1h6.4M301.7 308.9v6.4M299.4 309.9l4.5 4.5M299.4 314.4l4.5 -4.5M305.7 311.9h6.4M308.9 308.7v6.4M306.7 309.6l4.5 4.5M306.7 314.2l4.5 -4.5M311.4 311.8h6.4M314.6 308.6v6.4M312.4 309.5l4.5 4.5M312.4 314.0l4.5 -4.5M314.6 310.7h6.4M317.8 307.5v6.4M315.5 308.4l4.5 4.5M315.5 312.9l4.5 -4.5M321.5 310.4h6.4M324.7 307.2v6.4M322.5 308.1l4.5 4.5M322.5 312.6l4.5 -4.5M259.4 315.0h6.4M262.6 311.8v6.4M260.3 312.8l4.5 4.5M260.3 317.3l4.5 -4.5M264.6 315.7h6.4M267.8 312.5v6.4M265.5 313.5l4.5 4.5M265.5 318.0l4.5 -4.5M271.4 313.7h6.4M274.6 310.5v6.4M272.3 311.4l4.5 4.5M272.3 315.9l4.5 -4.5M274.6 313.6h6.4M277.8 310.4v6.4M275.5 311.3l4.5 4.5M275.5 315.8l4.5 -4.5M284.0 315.3h6.4M287.2 312.1v6.4M285.0 313.0l4.5 4.5M285.0 317.5l4.5 -4.5M291.4 314.3h6.4M294.6 311.1v6.4M292.3 312.1l4.5 4.5M292.3 316.6l4.5 -4.5M302.7 314.2h6.4M305.9 311.0v6.4M303.6 311.9l4.5 4.5M303.6 316.4l4.5 -4.5M306.6 315.4h6.4M309.8 312.2v6.4M307.6 313.2l4.5 4.5M307.6 317.7l4.5 -4.5M310.1 314.4h6.4M313.3 311.2v6.4M311.1 312.1l4.5 4.5M311.1 316.6l4.5 -4.5M313.3 315.3h6.4M316.5 312.1v6.4M314.2 313.0l4.5 4.5M314.2 317.5l4.5 -4.5M255.9 320.4h6.4M259.1 317.2v6.4M256.9 318.1l4.5 4.5M256.9 322.6l4.5 -4.5M276.7 317.9h6.4M279.9 314.7v6.4M277.7 315.6l4.5 4.5M277.7 320.2l4.5 -4.5M281.4 317.3h6.4M284.6 314.1v6.4M282.4 315.0l4.5 4.5M282.4 319.5l4.5 -4.5M286.1 318.6h6.4M289.3 315.4v6.4M287.0 316.3l4.5 4.5M287.0 320.8l4.5 -4.5M294.3 319.5h6.4M297.5 316.3v6.4M295.3 317.2l4.5 4.5M295.3 321.8l4.5 -4.5M297.9 318.8h6.4M301.1 315.6v6.4M298.8 316.5l4.5 4.5M298.8 321.0l4.5 -4.5M303.8 317.7h6.4M307.0 314.5v6.4M304.7 315.4l4.5 4.5M304.7 319.9l4.5 -4.5M258.1 320.8h6.4M261.3 317.6v6.4M259.0 318.6l4.5 4.5M259.0 323.1l4.5 -4.5M264.1 321.7h6.4M267.3 318.5v6.4M265.0 319.4l4.5 4.5M265.0 324.0l4.5 -4.5M265.8 321.4h6.4M269.0 318.2v6.4M266.8 319.1l4.5 4.5M266.8 323.6l4.5 -4.5M270.0 321.6h6.4M273.2 318.4v6.4M271.0 319.3l4.5 4.5M271.0 323.8l4.5 -4.5M276.6 324.1h6.4M279.8 320.9v6.4M277.5 321.8l4.5 4.5M277.5 326.4l4.5 -4.5M287.9 322.2h6.4M291.1 319.0v6.4M288.8 319.9l4.5 4.5M288.8 324.4l4.5 -4.5M291.9 321.0h6.4M295.1 317.8v6.4M292.8 318.7l4.5 4.5M292.8 323.2l4.5 -4.5M295.8 321.1h6.4M299.0 317.9v6.4M296.7 318.8l4.5 4.5M296.7 323.4l4.5 -4.5M306.1 321.9h6.4M309.3 318.7v6.4M307.0 319.7l4.5 4.5M307.0 324.2l4.5 -4.5M258.0 327.1h6.4M261.2 323.9v6.4M259.0 324.8l4.5 4.5M259.0 329.3l4.5 -4.5M259.8 326.6h6.4M263.0 323.4v6.4M260.8 324.4l4.5 4.5M260.8 328.9l4.5 -4.5M268.3 326.5h6.4M271.5 323.3v6.4M269.2 324.3l4.5 4.5M269.2 328.8l4.5 -4.5M273.0 325.8h6.4M276.2 322.6v6.4M273.9 323.6l4.5 4.5M273.9 328.1l4.5 -4.5M278.8 324.5h6.4M282.0 321.3v6.4M279.7 322.3l4.5 4.5M279.7 326.8l4.5 -4.5M281.3 325.4h6.4M284.5 322.2v6.4M282.2 323.1l4.5 4.5M282.2 327.7l4.5 -4.5M289.6 325.5h6.4M292.8 322.3v6.4M290.5 323.2l4.5 4.5M290.5 327.7l4.5 -4.5M294.0 324.9h6.4M297.2 321.7v6.4M294.9 322.7l4.5 4.5M294.9 327.2l4.5 -4.5M254.8 328.7h6.4M258.0 325.5v6.4M255.7 326.5l4.5 4.5M255.7 331.0l4.5 -4.5M264.0 329.8h6.4M267.2 326.6v6.4M265.0 327.6l4.5 4.5M265.0 332.1l4.5 -4.5M266.2 328.3h6.4M269.4 325.1v6.4M267.1 326.0l4.5 4.5M267.1 330.6l4.5 -4.5M271.6 328.9h6.4M274.8 325.7v6.4M272.6 326.6l4.5 4.5M272.6 331.2l4.5 -4.5M275.0 329.1h6.4M278.2 325.9v6.4M275.9 326.9l4.5 4.5M275.9 331.4l4.5 -4.5M255.8 332.1h6.4M259.0 328.9v6.4M256.7 329.8l4.5 4.5M256.7 334.3l4.5 -4.5M264.3 332.3h6.4M267.5 329.1v6.4M265.2 330.0l4.5 4.5M265.2 334.5l4.5 -4.5M269.4 332.8h6.4M272.6 329.6v6.4M270.3 330.6l4.5 4.5M270.3 335.1l4.5 -4.5M272.9 335.0h6.4M276.1 331.8v6.4M273.9 332.7l4.5 4.5M273.9 337.2l4.5 -4.5M329.4 307.4h6.4M332.6 304.2v6.4M330.3 305.2l4.5 4.5M330.3 309.7l4.5 -4.5M324.7 312.3h6.4M327.9 309.1v6.4M325.6 310.0l4.5 4.5M325.6 314.6l4.5 -4.5M318.1 316.4h6.4M321.3 313.2v6.4M319.0 314.1l4.5 4.5M319.0 318.7l4.5 -4.5M323.0 316.6h6.4M326.2 313.4v6.4M324.0 314.3l4.5 4.5M324.0 318.8l4.5 -4.5M325.2 317.1h6.4M328.4 313.9v6.4M326.1 314.8l4.5 4.5M326.1 319.3l4.5 -4.5M310.5 321.0h6.4M313.7 317.8v6.4M311.4 318.7l4.5 4.5M311.4 323.3l4.5 -4.5M314.3 320.2h6.4M317.5 317.0v6.4M315.3 317.9l4.5 4.5M315.3 322.4l4.5 -4.5M319.0 322.0h6.4M322.2 318.8v6.4M319.9 319.8l4.5 4.5M319.9 324.3l4.5 -4.5M326.9 321.3h6.4M330.1 318.1v6.4M327.8 319.0l4.5 4.5M327.8 323.5l4.5 -4.5M296.7 324.7h6.4M299.9 321.5v6.4M297.6 322.4l4.5 4.5M297.6 326.9l4.5 -4.5M309.1 323.0h6.4M312.3 319.8v6.4M310.1 320.7l4.5 4.5M310.1 325.3l4.5 -4.5M321.4 324.0h6.4M324.6 320.8v6.4M322.3 321.7l4.5 4.5M322.3 326.2l4.5 -4.5M297.5 328.7h6.4M300.7 325.5v6.4M298.5 326.5l4.5 4.5M298.5 331.0l4.5 -4.5M303.3 329.1h6.4M306.5 325.9v6.4M304.2 326.8l4.5 4.5M304.2 331.3l4.5 -4.5M304.8 329.1h6.4M308.0 325.9v6.4M305.8 326.8l4.5 4.5M305.8 331.4l4.5 -4.5M320.9 328.5h6.4M324.1 325.3v6.4M321.9 326.2l4.5 4.5M321.9 330.7l4.5 -4.5M272.9 333.3h6.4M276.1 330.1v6.4M273.8 331.0l4.5 4.5M273.8 335.5l4.5 -4.5M277.4 332.7h6.4M280.6 329.5v6.4M278.3 330.4l4.5 4.5M278.3 335.0l4.5 -4.5M284.3 332.1h6.4M287.5 328.9v6.4M285.2 329.8l4.5 4.5M285.2 334.4l4.5 -4.5M290.1 331.0h6.4M293.3 327.8v6.4M291.1 328.8l4.5 4.5M291.1 333.3l4.5 -4.5M297.1 331.6h6.4M300.3 328.4v6.4M298.0 329.3l4.5 4.5M298.0 333.9l4.5 -4.5M299.3 332.6h6.4M302.5 329.4v6.4M300.2 330.3l4.5 4.5M300.2 334.8l4.5 -4.5M307.7 332.3h6.4M310.9 329.1v6.4M308.7 330.1l4.5 4.5M308.7 334.6l4.5 -4.5M312.6 333.2h6.4M315.8 330.0v6.4M313.5 331.0l4.5 4.5M313.5 335.5l4.5 -4.5M269.5 335.7h6.4M272.7 332.5v6.4M270.5 333.4l4.5 4.5M270.5 337.9l4.5 -4.5M275.6 336.6h6.4M278.8 333.4v6.4M276.5 334.3l4.5 4.5M276.5 338.9l4.5 -4.5M280.7 334.1h6.4M283.9 330.9v6.4M281.6 331.8l4.5 4.5M281.6 336.4l4.5 -4.5M286.4 333.9h6.4M289.6 330.7v6.4M287.3 331.6l4.5 4.5M287.3 336.2l4.5 -4.5M289.2 336.3h6.4M292.4 333.1v6.4M290.2 334.0l4.5 4.5M290.2 338.5l4.5 -4.5M293.1 337.0h6.4M296.3 333.8v6.4M294.0 334.7l4.5 4.5M294.0 339.3l4.5 -4.5M296.7 336.6h6.4M299.9 333.4v6.4M297.6 334.3l4.5 4.5M297.6 338.9l4.5 -4.5M301.2 335.5h6.4M304.4 332.3v6.4M302.1 333.3l4.5 4.5M302.1 337.8l4.5 -4.5M305.4 337.0h6.4M308.6 333.8v6.4M306.3 334.7l4.5 4.5M306.3 339.3l4.5 -4.5M253.9 339.9h6.4M257.1 336.7v6.4M254.8 337.6l4.5 4.5M254.8 342.1l4.5 -4.5M263.0 340.7h6.4M266.2 337.5v6.4M263.9 338.4l4.5 4.5M263.9 343.0l4.5 -4.5M268.9 338.0h6.4M272.1 334.8v6.4M269.8 335.7l4.5 4.5M269.8 340.3l4.5 -4.5M274.3 338.4h6.4M277.5 335.2v6.4M275.2 336.2l4.5 4.5M275.2 340.7l4.5 -4.5M288.8 340.9h6.4M292.0 337.7v6.4M289.7 338.6l4.5 4.5M289.7 343.2l4.5 -4.5M291.8 340.8h6.4M295.0 337.6v6.4M292.7 338.6l4.5 4.5M292.7 343.1l4.5 -4.5M296.0 338.6h6.4M299.2 335.4v6.4M296.9 336.3l4.5 4.5M296.9 340.9l4.5 -4.5M299.1 337.9h6.4M302.3 334.7v6.4M300.0 335.7l4.5 4.5M300.0 340.2l4.5 -4.5M257.9 344.1h6.4M261.1 340.9v6.4M258.9 341.9l4.5 4.5M258.9 346.4l4.5 -4.5M268.5 343.7h6.4M271.7 340.5v6.4M269.4 341.4l4.5 4.5M269.4 346.0l4.5 -4.5M275.8 343.2h6.4M279.0 340.0v6.4M276.7 340.9l4.5 4.5M276.7 345.5l4.5 -4.5M280.5 344.3h6.4M283.7 341.1v6.4M281.4 342.1l4.5 4.5M281.4 346.6l4.5 -4.5M286.2 341.3h6.4M289.4 338.1v6.4M287.1 339.0l4.5 4.5M287.1 343.5l4.5 -4.5M288.2 344.1h6.4M291.4 340.9v6.4M289.2 341.8l4.5 4.5M289.2 346.4l4.5 -4.5M295.1 342.2h6.4M298.3 339.0v6.4M296.1 339.9l4.5 4.5M296.1 344.4l4.5 -4.5M301.9 343.6h6.4M305.1 340.4v6.4M302.9 341.4l4.5 4.5M302.9 345.9l4.5 -4.5M307.7 344.6h6.4M310.9 341.4v6.4M308.6 342.4l4.5 4.5M308.6 346.9l4.5 -4.5M311.7 342.2h6.4M314.9 339.0v6.4M312.6 339.9l4.5 4.5M312.6 344.4l4.5 -4.5M254.2 345.8h6.4M257.4 342.6v6.4M255.1 343.6l4.5 4.5M255.1 348.1l4.5 -4.5M266.0 346.9h6.4M269.2 343.7v6.4M266.9 344.6l4.5 4.5M266.9 349.2l4.5 -4.5M270.1 345.0h6.4M273.3 341.8v6.4M271.1 342.8l4.5 4.5M271.1 347.3l4.5 -4.5M277.7 347.8h6.4M280.9 344.6v6.4M278.6 345.5l4.5 4.5M278.6 350.1l4.5 -4.5M281.5 346.6h6.4M284.7 343.4v6.4M282.4 344.3l4.5 4.5M282.4 348.9l4.5 -4.5M286.6 347.6h6.4M289.8 344.4v6.4M287.6 345.3l4.5 4.5M287.6 349.9l4.5 -4.5M292.1 347.8h6.4M295.3 344.6v6.4M293.0 345.6l4.5 4.5M293.0 350.1l4.5 -4.5M299.0 345.2h6.4M302.2 342.0v6.4M299.9 342.9l4.5 4.5M299.9 347.5l4.5 -4.5M259.8 349.2h6.4M263.0 346.0v6.4M260.7 347.0l4.5 4.5M260.7 351.5l4.5 -4.5M266.5 351.2h6.4M269.7 348.0v6.4M267.4 349.0l4.5 4.5M267.4 353.5l4.5 -4.5M272.2 349.3h6.4M275.4 346.1v6.4M273.1 347.0l4.5 4.5M273.1 351.5l4.5 -4.5M276.2 351.0h6.4M279.4 347.8v6.4M277.2 348.7l4.5 4.5M277.2 353.2l4.5 -4.5M282.1 348.7h6.4M285.3 345.5v6.4M283.1 346.4l4.5 4.5M283.1 351.0l4.5 -4.5M284.7 349.4h6.4M287.9 346.2v6.4M285.6 347.1l4.5 4.5M285.6 351.6l4.5 -4.5M290.0 352.1h6.4M293.2 348.9v6.4M290.9 349.8l4.5 4.5M290.9 354.4l4.5 -4.5M292.8 351.0h6.4M296.0 347.8v6.4M293.8 348.7l4.5 4.5M293.8 353.3l4.5 -4.5M301.1 348.9h6.4M304.3 345.7v6.4M302.0 346.7l4.5 4.5M302.0 351.2l4.5 -4.5M308.2 351.9h6.4M311.4 348.7v6.4M309.2 349.6l4.5 4.5M309.2 354.1l4.5 -4.5M259.8 354.9h6.4M263.0 351.7v6.4M260.8 352.6l4.5 4.5M260.8 357.1l4.5 -4.5M264.4 353.5h6.4M267.6 350.3v6.4M265.3 351.3l4.5 4.5M265.3 355.8l4.5 -4.5M275.0 353.7h6.4M278.2 350.5v6.4M275.9 351.4l4.5 4.5M275.9 355.9l4.5 -4.5M277.8 355.8h6.4M281.0 352.6v6.4M278.8 353.5l4.5 4.5M278.8 358.0l4.5 -4.5M288.5 354.6h6.4M291.7 351.4v6.4M289.4 352.3l4.5 4.5M289.4 356.9l4.5 -4.5M292.8 354.9h6.4M296.0 351.7v6.4M293.7 352.6l4.5 4.5M293.7 357.1l4.5 -4.5M295.4 354.7h6.4M298.6 351.5v6.4M296.3 352.5l4.5 4.5M296.3 357.0l4.5 -4.5M306.1 353.5h6.4M309.3 350.3v6.4M307.0 351.2l4.5 4.5M307.0 355.8l4.5 -4.5M268.4 356.8h6.4M271.6 353.6v6.4M269.4 354.5l4.5 4.5M269.4 359.0l4.5 -4.5M277.4 357.9h6.4M280.6 354.7v6.4M278.4 355.7l4.5 4.5M278.4 360.2l4.5 -4.5M284.3 357.5h6.4M287.5 354.3v6.4M285.3 355.3l4.5 4.5M285.3 359.8l4.5 -4.5M297.3 357.4h6.4M300.5 354.2v6.4M298.2 355.1l4.5 4.5M298.2 359.6l4.5 -4.5M265.3 360.8h6.4M268.5 357.6v6.4M266.2 358.5l4.5 4.5M266.2 363.1l4.5 -4.5M275.6 361.4h6.4M278.8 358.2v6.4M276.5 359.1l4.5 4.5M276.5 363.6l4.5 -4.5M278.0 363.2h6.4M281.2 360.0v6.4M278.9 360.9l4.5 4.5M278.9 365.5l4.5 -4.5M288.4 361.0h6.4M291.6 357.8v6.4M289.4 358.7l4.5 4.5M289.4 363.3l4.5 -4.5M296.7 361.1h6.4M299.9 357.9v6.4M297.7 358.9l4.5 4.5M297.7 363.4l4.5 -4.5M301.5 361.4h6.4M304.7 358.2v6.4M302.4 359.1l4.5 4.5M302.4 363.6l4.5 -4.5M276.9 365.7h6.4M280.1 362.5v6.4M277.9 363.4l4.5 4.5M277.9 367.9l4.5 -4.5M279.5 364.3h6.4M282.7 361.1v6.4M280.4 362.1l4.5 4.5M280.4 366.6l4.5 -4.5M288.0 367.0h6.4M291.2 363.8v6.4M289.0 364.7l4.5 4.5M289.0 369.2l4.5 -4.5M279.3 369.1h6.4M282.5 365.9v6.4M280.2 366.8l4.5 4.5M280.2 371.3l4.5 -4.5M281.8 369.1h6.4M285.0 365.9v6.4M282.7 366.8l4.5 4.5M282.7 371.3l4.5 -4.5M292.8 368.5h6.4M296.0 365.3v6.4M293.7 366.3l4.5 4.5M293.7 370.8l4.5 -4.5M282.3 373.4h6.4M285.5 370.2v6.4M283.3 371.1l4.5 4.5M283.3 375.6l4.5 -4.5M285.0 372.7h6.4M288.2 369.5v6.4M286.0 370.4l4.5 4.5M286.0 374.9l4.5 -4.5M396.4 237.1h6.4M399.6 233.9v6.4M397.3 234.8l4.5 4.5M397.3 239.4l4.5 -4.5M406.5 233.7h6.4M409.7 230.5v6.4M407.4 231.4l4.5 4.5M407.4 235.9l4.5 -4.5M406.7 243.3h6.4M409.9 240.1v6.4M407.6 241.0l4.5 4.5M407.6 245.6l4.5 -4.5M390.6 246.6h6.4M393.8 243.4v6.4M391.6 244.4l4.5 4.5M391.6 248.9l4.5 -4.5M400.4 247.7h6.4M403.6 244.5v6.4M401.4 245.5l4.5 4.5M401.4 250.0l4.5 -4.5M404.5 249.1h6.4M407.7 245.9v6.4M405.4 246.9l4.5 4.5M405.4 251.4l4.5 -4.5M392.3 255.9h6.4M395.5 252.7v6.4M393.2 253.7l4.5 4.5M393.2 258.2l4.5 -4.5M402.6 252.8h6.4M405.8 249.6v6.4M403.6 250.6l4.5 4.5M403.6 255.1l4.5 -4.5M407.6 253.6h6.4M410.8 250.4v6.4M408.6 251.3l4.5 4.5M408.6 255.8l4.5 -4.5M375.2 261.8h6.4M378.4 258.6v6.4M376.2 259.5l4.5 4.5M376.2 264.0l4.5 -4.5M383.3 260.6h6.4M386.5 257.4v6.4M384.3 258.4l4.5 4.5M384.3 262.9l4.5 -4.5M390.5 257.4h6.4M393.7 254.2v6.4M391.5 255.2l4.5 4.5M391.5 259.7l4.5 -4.5M395.4 257.5h6.4M398.6 254.3v6.4M396.3 255.3l4.5 4.5M396.3 259.8l4.5 -4.5M402.5 257.2h6.4M405.7 254.0v6.4M403.5 255.0l4.5 4.5M403.5 259.5l4.5 -4.5M367.4 266.5h6.4M370.6 263.3v6.4M368.4 264.3l4.5 4.5M368.4 268.8l4.5 -4.5M373.7 267.5h6.4M376.9 264.3v6.4M374.7 265.2l4.5 4.5M374.7 269.7l4.5 -4.5M372.6 273.3h6.4M375.8 270.1v6.4M373.6 271.0l4.5 4.5M373.6 275.5l4.5 -4.5M379.2 271.1h6.4M382.4 267.9v6.4M380.1 268.8l4.5 4.5M380.1 273.3l4.5 -4.5M393.1 272.1h6.4M396.3 268.9v6.4M394.0 269.9l4.5 4.5M394.0 274.4l4.5 -4.5M396.1 271.6h6.4M399.3 268.4v6.4M397.1 269.3l4.5 4.5M397.1 273.9l4.5 -4.5M403.9 269.1h6.4M407.1 265.9v6.4M404.8 266.8l4.5 4.5M404.8 271.3l4.5 -4.5M367.7 278.8h6.4M370.9 275.6v6.4M368.6 276.5l4.5 4.5M368.6 281.1l4.5 -4.5M374.4 275.8h6.4M377.6 272.6v6.4M375.4 273.6l4.5 4.5M375.4 278.1l4.5 -4.5M396.9 278.8h6.4M400.1 275.6v6.4M397.8 276.5l4.5 4.5M397.8 281.1l4.5 -4.5M372.3 283.5h6.4M375.5 280.3v6.4M373.3 281.2l4.5 4.5M373.3 285.7l4.5 -4.5M376.5 283.0h6.4M379.7 279.8v6.4M377.5 280.7l4.5 4.5M377.5 285.2l4.5 -4.5M385.2 283.0h6.4M388.4 279.8v6.4M386.1 280.8l4.5 4.5M386.1 285.3l4.5 -4.5M391.8 285.7h6.4M395.0 282.5v6.4M392.7 283.4l4.5 4.5M392.7 288.0l4.5 -4.5M397.1 280.3h6.4M400.3 277.1v6.4M398.0 278.1l4.5 4.5M398.0 282.6l4.5 -4.5M335.5 289.8h6.4M338.7 286.6v6.4M336.4 287.5l4.5 4.5M336.4 292.0l4.5 -4.5M345.6 289.3h6.4M348.8 286.1v6.4M346.6 287.0l4.5 4.5M346.6 291.6l4.5 -4.5M352.7 290.3h6.4M355.9 287.1v6.4M353.6 288.0l4.5 4.5M353.6 292.6l4.5 -4.5M367.8 291.1h6.4M371.0 287.9v6.4M368.7 288.9l4.5 4.5M368.7 293.4l4.5 -4.5M394.8 290.0h6.4M398.0 286.8v6.4M395.7 287.7l4.5 4.5M395.7 292.3l4.5 -4.5M309.7 294.2h6.4M312.9 291.0v6.4M310.6 291.9l4.5 4.5M310.6 296.4l4.5 -4.5M318.1 293.0h6.4M321.3 289.8v6.4M319.0 290.7l4.5 4.5M319.0 295.3l4.5 -4.5M324.7 297.1h6.4M327.9 293.9v6.4M325.6 294.9l4.5 4.5M325.6 299.4l4.5 -4.5M328.8 294.7h6.4M332.0 291.5v6.4M329.7 292.5l4.5 4.5M329.7 297.0l4.5 -4.5M343.9 297.1h6.4M347.1 293.9v6.4M344.8 294.8l4.5 4.5M344.8 299.4l4.5 -4.5M349.5 292.9h6.4M352.7 289.7v6.4M350.4 290.6l4.5 4.5M350.4 295.2l4.5 -4.5M356.1 295.9h6.4M359.3 292.7v6.4M357.1 293.6l4.5 4.5M357.1 298.1l4.5 -4.5M361.9 296.4h6.4M365.1 293.2v6.4M362.9 294.2l4.5 4.5M362.9 298.7l4.5 -4.5M368.9 296.5h6.4M372.1 293.3v6.4M369.8 294.3l4.5 4.5M369.8 298.8l4.5 -4.5M294.6 302.8h6.4M297.8 299.6v6.4M295.5 300.5l4.5 4.5M295.5 305.0l4.5 -4.5M300.5 301.6h6.4M303.7 298.4v6.4M301.4 299.3l4.5 4.5M301.4 303.9l4.5 -4.5M307.7 302.1h6.4M310.9 298.9v6.4M308.7 299.9l4.5 4.5M308.7 304.4l4.5 -4.5M310.8 299.5h6.4M314.0 296.3v6.4M311.8 297.2l4.5 4.5M311.8 301.7l4.5 -4.5M319.6 302.4h6.4M322.8 299.2v6.4M320.6 300.1l4.5 4.5M320.6 304.6l4.5 -4.5M331.6 298.3h6.4M334.8 295.1v6.4M332.5 296.1l4.5 4.5M332.5 300.6l4.5 -4.5M338.0 301.6h6.4M341.2 298.4v6.4M338.9 299.3l4.5 4.5M338.9 303.8l4.5 -4.5M353.3 300.4h6.4M356.5 297.2v6.4M354.2 298.1l4.5 4.5M354.2 302.7l4.5 -4.5M359.7 299.3h6.4M362.9 296.1v6.4M360.7 297.0l4.5 4.5M360.7 301.5l4.5 -4.5M379.9 299.5h6.4M383.1 296.3v6.4M380.8 297.2l4.5 4.5M380.8 301.7l4.5 -4.5M386.2 299.7h6.4M389.4 296.5v6.4M387.2 297.5l4.5 4.5M387.2 302.0l4.5 -4.5M275.6 308.0h6.4M278.8 304.8v6.4M276.5 305.8l4.5 4.5M276.5 310.3l4.5 -4.5M288.6 308.4h6.4M291.8 305.2v6.4M289.5 306.1l4.5 4.5M289.5 310.7l4.5 -4.5M295.3 304.5h6.4M298.5 301.3v6.4M296.3 302.2l4.5 4.5M296.3 306.8l4.5 -4.5M308.6 306.6h6.4M311.8 303.4v6.4M309.5 304.4l4.5 4.5M309.5 308.9l4.5 -4.5M316.1 306.4h6.4M319.3 303.2v6.4M317.0 304.1l4.5 4.5M317.0 308.6l4.5 -4.5M325.4 308.9h6.4M328.6 305.7v6.4M326.3 306.6l4.5 4.5M326.3 311.1l4.5 -4.5M337.6 308.6h6.4M340.8 305.4v6.4M338.5 306.3l4.5 4.5M338.5 310.8l4.5 -4.5M346.3 304.0h6.4M349.5 300.8v6.4M347.2 301.7l4.5 4.5M347.2 306.2l4.5 -4.5M355.6 307.9h6.4M358.8 304.7v6.4M356.6 305.7l4.5 4.5M356.6 310.2l4.5 -4.5M376.1 305.9h6.4M379.3 302.7v6.4M377.0 303.6l4.5 4.5M377.0 308.1l4.5 -4.5M261.2 312.0h6.4M264.4 308.8v6.4M262.2 309.7l4.5 4.5M262.2 314.2l4.5 -4.5M272.7 312.7h6.4M275.9 309.5v6.4M273.6 310.4l4.5 4.5M273.6 314.9l4.5 -4.5M277.6 311.4h6.4M280.8 308.2v6.4M278.6 309.2l4.5 4.5M278.6 313.7l4.5 -4.5M285.5 315.1h6.4M288.7 311.9v6.4M286.4 312.8l4.5 4.5M286.4 317.3l4.5 -4.5M291.0 310.0h6.4M294.2 306.8v6.4M291.9 307.8l4.5 4.5M291.9 312.3l4.5 -4.5M304.8 314.0h6.4M308.0 310.8v6.4M305.7 311.7l4.5 4.5M305.7 316.2l4.5 -4.5M313.2 312.6h6.4M316.4 309.4v6.4M314.1 310.4l4.5 4.5M314.1 314.9l4.5 -4.5M341.0 310.9h6.4M344.2 307.7v6.4M342.0 308.7l4.5 4.5M342.0 313.2l4.5 -4.5M359.1 310.7h6.4M362.3 307.5v6.4M360.1 308.5l4.5 4.5M360.1 313.0l4.5 -4.5M369.1 312.2h6.4M372.3 309.0v6.4M370.1 309.9l4.5 4.5M370.1 314.5l4.5 -4.5M373.4 314.1h6.4M376.6 310.9v6.4M374.3 311.8l4.5 4.5M374.3 316.4l4.5 -4.5M270.3 319.5h6.4M273.5 316.3v6.4M271.3 317.3l4.5 4.5M271.3 321.8l4.5 -4.5M274.1 319.4h6.4M277.3 316.2v6.4M275.1 317.2l4.5 4.5M275.1 321.7l4.5 -4.5M283.6 317.5h6.4M286.8 314.3v6.4M284.6 315.3l4.5 4.5M284.6 319.8l4.5 -4.5M295.3 321.0h6.4M298.5 317.8v6.4M296.3 318.7l4.5 4.5M296.3 323.2l4.5 -4.5M304.9 315.8h6.4M308.1 312.6v6.4M305.8 313.5l4.5 4.5M305.8 318.0l4.5 -4.5M309.0 319.8h6.4M312.2 316.6v6.4M309.9 317.5l4.5 4.5M309.9 322.1l4.5 -4.5M314.8 319.9h6.4M318.0 316.7v6.4M315.8 317.6l4.5 4.5M315.8 322.1l4.5 -4.5M324.6 318.3h6.4M327.8 315.1v6.4M325.5 316.0l4.5 4.5M325.5 320.5l4.5 -4.5M331.5 316.8h6.4M334.7 313.6v6.4M332.4 314.5l4.5 4.5M332.4 319.1l4.5 -4.5M334.1 317.0h6.4M337.3 313.8v6.4M335.0 314.8l4.5 4.5M335.0 319.3l4.5 -4.5M345.0 319.1h6.4M348.2 315.9v6.4M346.0 316.8l4.5 4.5M346.0 321.3l4.5 -4.5M351.7 319.3h6.4M354.9 316.1v6.4M352.6 317.0l4.5 4.5M352.6 321.5l4.5 -4.5M357.4 318.9h6.4M360.6 315.7v6.4M358.3 316.6l4.5 4.5M358.3 321.1l4.5 -4.5M362.4 317.3h6.4M365.6 314.1v6.4M363.3 315.0l4.5 4.5M363.3 319.6l4.5 -4.5M253.9 326.6h6.4M257.1 323.4v6.4M254.8 324.3l4.5 4.5M254.8 328.9l4.5 -4.5M260.0 325.3h6.4M263.2 322.1v6.4M260.9 323.0l4.5 4.5M260.9 327.5l4.5 -4.5M269.6 323.3h6.4M272.8 320.1v6.4M270.5 321.0l4.5 4.5M270.5 325.6l4.5 -4.5M283.2 326.0h6.4M286.4 322.8v6.4M284.1 323.8l4.5 4.5M284.1 328.3l4.5 -4.5M290.0 326.4h6.4M293.2 323.2v6.4M290.9 324.1l4.5 4.5M290.9 328.7l4.5 -4.5M297.8 322.1h6.4M301.0 318.9v6.4M298.8 319.9l4.5 4.5M298.8 324.4l4.5 -4.5M304.1 322.5h6.4M307.3 319.3v6.4M305.1 320.2l4.5 4.5M305.1 324.7l4.5 -4.5M313.4 323.9h6.4M316.6 320.7v6.4M314.4 321.7l4.5 4.5M314.4 326.2l4.5 -4.5M319.9 325.7h6.4M323.1 322.5v6.4M320.9 323.4l4.5 4.5M320.9 328.0l4.5 -4.5M333.7 324.1h6.4M336.9 320.9v6.4M334.7 321.8l4.5 4.5M334.7 326.4l4.5 -4.5M351.3 325.3h6.4M354.5 322.1v6.4M352.2 323.0l4.5 4.5M352.2 327.6l4.5 -4.5M360.8 326.0h6.4M364.0 322.8v6.4M361.7 323.8l4.5 4.5M361.7 328.3l4.5 -4.5M264.0 328.1h6.4M267.2 324.9v6.4M264.9 325.8l4.5 4.5M264.9 330.3l4.5 -4.5M274.7 329.6h6.4M277.9 326.4v6.4M275.7 327.3l4.5 4.5M275.7 331.8l4.5 -4.5M293.9 332.0h6.4M297.1 328.8v6.4M294.9 329.7l4.5 4.5M294.9 334.3l4.5 -4.5M304.2 330.7h6.4M307.4 327.5v6.4M305.1 328.4l4.5 4.5M305.1 332.9l4.5 -4.5M312.1 327.9h6.4M315.3 324.7v6.4M313.0 325.7l4.5 4.5M313.0 330.2l4.5 -4.5M322.7 331.5h6.4M325.9 328.3v6.4M323.7 329.2l4.5 4.5M323.7 333.7l4.5 -4.5M332.4 329.5h6.4M335.6 326.3v6.4M333.3 327.2l4.5 4.5M333.3 331.7l4.5 -4.5M336.6 331.8h6.4M339.8 328.6v6.4M337.6 329.5l4.5 4.5M337.6 334.1l4.5 -4.5M343.8 327.5h6.4M347.0 324.3v6.4M344.8 325.3l4.5 4.5M344.8 329.8l4.5 -4.5M348.1 332.1h6.4M351.3 328.9v6.4M349.0 329.8l4.5 4.5M349.0 334.3l4.5 -4.5M356.8 332.7h6.4M360.0 329.5v6.4M357.7 330.4l4.5 4.5M357.7 335.0l4.5 -4.5M261.3 337.3h6.4M264.5 334.1v6.4M262.2 335.0l4.5 4.5M262.2 339.6l4.5 -4.5M283.4 338.7h6.4M286.6 335.5v6.4M284.3 336.4l4.5 4.5M284.3 341.0l4.5 -4.5M296.9 337.1h6.4M300.1 333.9v6.4M297.8 334.8l4.5 4.5M297.8 339.3l4.5 -4.5M306.2 334.1h6.4M309.4 330.9v6.4M307.1 331.8l4.5 4.5M307.1 336.3l4.5 -4.5M319.4 334.7h6.4M322.6 331.5v6.4M320.3 332.5l4.5 4.5M320.3 337.0l4.5 -4.5M342.9 334.4h6.4M346.1 331.2v6.4M343.8 332.2l4.5 4.5M343.8 336.7l4.5 -4.5M346.1 335.0h6.4M349.3 331.8v6.4M347.0 332.7l4.5 4.5M347.0 337.2l4.5 -4.5M253.1 340.3h6.4M256.3 337.1v6.4M254.1 338.0l4.5 4.5M254.1 342.6l4.5 -4.5M263.2 343.2h6.4M266.4 340.0v6.4M264.2 341.0l4.5 4.5M264.2 345.5l4.5 -4.5M282.9 341.9h6.4M286.1 338.7v6.4M283.8 339.6l4.5 4.5M283.8 344.1l4.5 -4.5M289.6 339.9h6.4M292.8 336.7v6.4M290.5 337.6l4.5 4.5M290.5 342.1l4.5 -4.5M295.6 341.5h6.4M298.8 338.3v6.4M296.5 339.3l4.5 4.5M296.5 343.8l4.5 -4.5M302.0 341.3h6.4M305.2 338.1v6.4M303.0 339.0l4.5 4.5M303.0 343.6l4.5 -4.5M308.9 344.5h6.4M312.1 341.3v6.4M309.8 342.2l4.5 4.5M309.8 346.7l4.5 -4.5M313.8 343.1h6.4M317.0 339.9v6.4M314.7 340.8l4.5 4.5M314.7 345.4l4.5 -4.5M322.9 342.4h6.4M326.1 339.2v6.4M323.9 340.1l4.5 4.5M323.9 344.6l4.5 -4.5M339.2 340.7h6.4M342.4 337.5v6.4M340.1 338.5l4.5 4.5M340.1 343.0l4.5 -4.5M342.6 339.5h6.4M345.8 336.3v6.4M343.6 337.2l4.5 4.5M343.6 341.7l4.5 -4.5M267.8 348.4h6.4M271.0 345.2v6.4M268.7 346.1l4.5 4.5M268.7 350.7l4.5 -4.5M272.7 347.3h6.4M275.9 344.1v6.4M273.6 345.1l4.5 4.5M273.6 349.6l4.5 -4.5M281.3 349.0h6.4M284.5 345.8v6.4M282.3 346.8l4.5 4.5M282.3 351.3l4.5 -4.5M284.3 346.9h6.4M287.5 343.7v6.4M285.3 344.7l4.5 4.5M285.3 349.2l4.5 -4.5M297.7 349.0h6.4M300.9 345.8v6.4M298.6 346.7l4.5 4.5M298.6 351.2l4.5 -4.5M308.6 350.2h6.4M311.8 347.0v6.4M309.6 348.0l4.5 4.5M309.6 352.5l4.5 -4.5M313.6 345.7h6.4M316.8 342.5v6.4M314.5 343.4l4.5 4.5M314.5 347.9l4.5 -4.5M320.5 348.5h6.4M323.7 345.3v6.4M321.4 346.3l4.5 4.5M321.4 350.8l4.5 -4.5M324.1 345.7h6.4M327.3 342.5v6.4M325.0 343.5l4.5 4.5M325.0 348.0l4.5 -4.5M342.4 347.9h6.4M345.6 344.7v6.4M343.3 345.6l4.5 4.5M343.3 350.1l4.5 -4.5M262.1 354.7h6.4M265.3 351.5v6.4M263.1 352.4l4.5 4.5M263.1 356.9l4.5 -4.5M274.8 354.7h6.4M278.0 351.5v6.4M275.8 352.5l4.5 4.5M275.8 357.0l4.5 -4.5M282.5 352.1h6.4M285.7 348.9v6.4M283.5 349.8l4.5 4.5M283.5 354.3l4.5 -4.5M293.3 354.8h6.4M296.5 351.6v6.4M294.2 352.5l4.5 4.5M294.2 357.1l4.5 -4.5M300.5 352.4h6.4M303.7 349.2v6.4M301.4 350.1l4.5 4.5M301.4 354.6l4.5 -4.5M311.4 353.9h6.4M314.6 350.7v6.4M312.3 351.7l4.5 4.5M312.3 356.2l4.5 -4.5M315.0 352.5h6.4M318.2 349.3v6.4M316.0 350.3l4.5 4.5M316.0 354.8l4.5 -4.5M322.4 355.2h6.4M325.6 352.0v6.4M323.3 353.0l4.5 4.5M323.3 357.5l4.5 -4.5M334.7 351.2h6.4M337.9 348.0v6.4M335.6 348.9l4.5 4.5M335.6 353.4l4.5 -4.5M259.4 360.5h6.4M262.6 357.3v6.4M260.3 358.3l4.5 4.5M260.3 362.8l4.5 -4.5M269.7 360.2h6.4M272.9 357.0v6.4M270.7 357.9l4.5 4.5M270.7 362.4l4.5 -4.5M284.4 357.7h6.4M287.6 354.5v6.4M285.4 355.5l4.5 4.5M285.4 360.0l4.5 -4.5M293.5 359.6h6.4M296.7 356.4v6.4M294.4 357.3l4.5 4.5M294.4 361.9l4.5 -4.5M301.4 357.4h6.4M304.6 354.2v6.4M302.4 355.2l4.5 4.5M302.4 359.7l4.5 -4.5M304.8 359.6h6.4M308.0 356.4v6.4M305.7 357.4l4.5 4.5M305.7 361.9l4.5 -4.5M324.0 358.6h6.4M327.2 355.4v6.4M324.9 356.3l4.5 4.5M324.9 360.8l4.5 -4.5M334.0 361.1h6.4M337.2 357.9v6.4M334.9 358.8l4.5 4.5M334.9 363.3l4.5 -4.5M262.2 367.0h6.4M265.4 363.8v6.4M263.1 364.7l4.5 4.5M263.1 369.3l4.5 -4.5M266.7 364.1h6.4M269.9 360.9v6.4M267.7 361.8l4.5 4.5M267.7 366.4l4.5 -4.5M277.6 364.5h6.4M280.8 361.3v6.4M278.6 362.2l4.5 4.5M278.6 366.7l4.5 -4.5M290.8 367.1h6.4M294.0 363.9v6.4M291.7 364.8l4.5 4.5M291.7 369.3l4.5 -4.5M303.9 364.7h6.4M307.1 361.5v6.4M304.8 362.5l4.5 4.5M304.8 367.0l4.5 -4.5M318.1 364.6h6.4M321.3 361.4v6.4M319.0 362.3l4.5 4.5M319.0 366.8l4.5 -4.5M329.2 366.5h6.4M332.4 363.3v6.4M330.1 364.2l4.5 4.5M330.1 368.8l4.5 -4.5M263.0 368.7h6.4M266.2 365.5v6.4M263.9 366.4l4.5 4.5M263.9 370.9l4.5 -4.5M273.7 369.4h6.4M276.9 366.2v6.4M274.7 367.2l4.5 4.5M274.7 371.7l4.5 -4.5M288.0 372.7h6.4M291.2 369.5v6.4M288.9 370.4l4.5 4.5M288.9 374.9l4.5 -4.5M326.8 373.8h6.4M330.0 370.6v6.4M327.7 371.6l4.5 4.5M327.7 376.1l4.5 -4.5M270.6 374.9h6.4M273.8 371.7v6.4M271.5 372.6l4.5 4.5M271.5 377.2l4.5 -4.5M274.8 375.2h6.4M278.0 372.0v6.4M275.7 372.9l4.5 4.5M275.7 377.4l4.5 -4.5M287.7 375.7h6.4M290.9 372.5v6.4M288.6 373.4l4.5 4.5M288.6 378.0l4.5 -4.5M301.7 378.2h6.4M304.9 375.0v6.4M302.7 375.9l4.5 4.5M302.7 380.4l4.5 -4.5M310.1 376.1h6.4M313.3 372.9v6.4M311.1 373.9l4.5 4.5M311.1 378.4l4.5 -4.5M317.4 378.4h6.4M320.6 375.2v6.4M318.4 376.1l4.5 4.5M318.4 380.6l4.5 -4.5M323.0 376.1h6.4M326.2 372.9v6.4M323.9 373.8l4.5 4.5M323.9 378.3l4.5 -4.5M260.4 380.7h6.4M263.6 377.5v6.4M261.3 378.5l4.5 4.5M261.3 383.0l4.5 -4.5M266.7 385.7h6.4M269.9 382.5v6.4M267.6 383.5l4.5 4.5M267.6 388.0l4.5 -4.5M279.2 385.6h6.4M282.4 382.4v6.4M280.1 383.3l4.5 4.5M280.1 387.9l4.5 -4.5M283.2 385.5h6.4M286.4 382.3v6.4M284.2 383.3l4.5 4.5M284.2 387.8l4.5 -4.5M292.9 382.4h6.4M296.1 379.2v6.4M293.9 380.1l4.5 4.5M293.9 384.6l4.5 -4.5M304.9 384.9h6.4M308.1 381.7v6.4M305.8 382.6l4.5 4.5M305.8 387.1l4.5 -4.5M312.5 385.5h6.4M315.7 382.3v6.4M313.5 383.3l4.5 4.5M313.5 387.8l4.5 -4.5M319.1 383.6h6.4M322.3 380.4v6.4M320.0 381.3l4.5 4.5M320.0 385.8l4.5 -4.5M262.2 389.4h6.4M265.4 386.2v6.4M263.1 387.1l4.5 4.5M263.1 391.7l4.5 -4.5M271.1 388.7h6.4M274.3 385.5v6.4M272.0 386.4l4.5 4.5M272.0 390.9l4.5 -4.5M287.2 387.7h6.4M290.4 384.5v6.4M288.1 385.4l4.5 4.5M288.1 389.9l4.5 -4.5M298.0 391.1h6.4M301.2 387.9v6.4M298.9 388.8l4.5 4.5M298.9 393.3l4.5 -4.5M300.1 390.4h6.4M303.3 387.2v6.4M301.0 388.1l4.5 4.5M301.0 392.6l4.5 -4.5M308.9 386.4h6.4M312.1 383.2v6.4M309.8 384.1l4.5 4.5M309.8 388.6l4.5 -4.5M266.0 394.5h6.4M269.2 391.3v6.4M266.9 392.2l4.5 4.5M266.9 396.7l4.5 -4.5M272.0 395.2h6.4M275.2 392.0v6.4M272.9 392.9l4.5 4.5M272.9 397.4l4.5 -4.5M281.7 395.2h6.4M284.9 392.0v6.4M282.6 392.9l4.5 4.5M282.6 397.5l4.5 -4.5M284.3 395.6h6.4M287.5 392.4v6.4M285.2 393.3l4.5 4.5M285.2 397.9l4.5 -4.5M275.0 400.9h6.4M278.2 397.7v6.4M275.9 398.6l4.5 4.5M275.9 403.2l4.5 -4.5M247.0 306.2h6.4M250.2 303.0v6.4M247.9 303.9l4.5 4.5M247.9 308.5l4.5 -4.5M251.8 302.7h6.4M255.0 299.5v6.4M252.7 300.4l4.5 4.5M252.7 305.0l4.5 -4.5M339.0 365.8h6.4M342.2 362.6v6.4M339.9 363.5l4.5 4.5M339.9 368.1l4.5 -4.5M347.5 364.4h6.4M350.7 361.2v6.4M348.4 362.1l4.5 4.5M348.4 366.7l4.5 -4.5M313.8 157.8h6.4M317.0 154.6v6.4M314.7 155.5l4.5 4.5M314.7 160.1l4.5 -4.5M473.5 189.0h6.4M476.7 185.8v6.4M474.4 186.7l4.5 4.5M474.4 191.3l4.5 -4.5M447.8 203.2h6.4M451.0 200.0v6.4M448.7 200.9l4.5 4.5M448.7 205.5l4.5 -4.5M420.4 212.0h6.4M423.6 208.8v6.4M421.3 209.7l4.5 4.5M421.3 214.3l4.5 -4.5M414.2 210.6h6.4M417.4 207.4v6.4M415.1 208.3l4.5 4.5M415.1 212.9l4.5 -4.5M428.8 220.4h6.4M432.0 217.2v6.4M429.7 218.1l4.5 4.5M429.7 222.7l4.5 -4.5M428.8 223.1h6.4M432.0 219.9v6.4M429.7 220.8l4.5 4.5M429.7 225.4l4.5 -4.5M419.9 227.1h6.4M423.1 223.9v6.4M420.8 224.8l4.5 4.5M420.8 229.4l4.5 -4.5M413.7 228.4h6.4M416.9 225.2v6.4M414.6 226.1l4.5 4.5M414.6 230.7l4.5 -4.5M410.1 224.0h6.4M413.3 220.8v6.4M411.0 221.7l4.5 4.5M411.0 226.3l4.5 -4.5M399.5 227.1h6.4M402.7 223.9v6.4M400.4 224.8l4.5 4.5M400.4 229.4l4.5 -4.5M407.5 232.8h6.4M410.7 229.6v6.4M408.4 230.5l4.5 4.5M408.4 235.1l4.5 -4.5M414.6 232.8h6.4M417.8 229.6v6.4M415.5 230.5l4.5 4.5M415.5 235.1l4.5 -4.5M404.8 239.0h6.4M408.0 235.8v6.4M405.7 236.7l4.5 4.5M405.7 241.3l4.5 -4.5M419.9 236.4h6.4M423.1 233.2v6.4M420.8 234.1l4.5 4.5M420.8 238.7l4.5 -4.5M422.6 241.7h6.4M425.8 238.5v6.4M423.5 239.4l4.5 4.5M423.5 244.0l4.5 -4.5M415.5 252.4h6.4M418.7 249.2v6.4M416.4 250.1l4.5 4.5M416.4 254.7l4.5 -4.5M419.9 255.0h6.4M423.1 251.8v6.4M420.8 252.7l4.5 4.5M420.8 257.3l4.5 -4.5M405.7 247.0h6.4M408.9 243.8v6.4M406.6 244.7l4.5 4.5M406.6 249.3l4.5 -4.5M400.4 243.5h6.4M403.6 240.3v6.4M401.3 241.2l4.5 4.5M401.3 245.8l4.5 -4.5M398.6 248.8h6.4M401.8 245.6v6.4M399.5 246.5l4.5 4.5M399.5 251.1l4.5 -4.5M403.9 252.4h6.4M407.1 249.2v6.4M404.8 250.1l4.5 4.5M404.8 254.7l4.5 -4.5M304.8 242.6h6.4M308.0 239.4v6.4M305.7 240.3l4.5 4.5M305.7 244.9l4.5 -4.5M391.8 232.8h6.4M395.0 229.6v6.4M392.7 230.5l4.5 4.5M392.7 235.1l4.5 -4.5M382.1 248.8h6.4M385.3 245.6v6.4M383.0 246.5l4.5 4.5M383.0 251.1l4.5 -4.5M266.6 239.4h6.4M269.8 236.2v6.4M267.5 237.1l4.5 4.5M267.5 241.7l4.5 -4.5M279.4 268.0h6.4M282.6 264.8v6.4M280.3 265.7l4.5 4.5M280.3 270.3l4.5 -4.5M281.7 268.0h6.4M284.9 264.8v6.4M282.6 265.7l4.5 4.5M282.6 270.3l4.5 -4.5M255.9 274.2h6.4M259.1 271.0v6.4M256.8 271.9l4.5 4.5M256.8 276.5l4.5 -4.5M283.8 274.6h6.4M287.0 271.4v6.4M284.7 272.3l4.5 4.5M284.7 276.9l4.5 -4.5M275.0 280.8h6.4M278.2 277.6v6.4M275.9 278.5l4.5 4.5M275.9 283.1l4.5 -4.5M283.5 288.3h6.4M286.7 285.1v6.4M284.4 286.0l4.5 4.5M284.4 290.6l4.5 -4.5M255.9 293.3h6.4M259.1 290.1v6.4M256.8 291.0l4.5 4.5M256.8 295.6l4.5 -4.5M304.6 242.7h6.4M307.8 239.5v6.4M305.5 240.4l4.5 4.5M305.5 245.0l4.5 -4.5M356.1 266.5h6.4M359.3 263.3v6.4M357.0 264.2l4.5 4.5M357.0 268.8l4.5 -4.5M362.3 271.2h6.4M365.5 268.0v6.4M363.2 268.9l4.5 4.5M363.2 273.5l4.5 -4.5M345.4 273.6h6.4M348.6 270.4v6.4M346.3 271.3l4.5 4.5M346.3 275.9l4.5 -4.5M370.3 262.6h6.4M373.5 259.4v6.4M371.2 260.3l4.5 4.5M371.2 264.9l4.5 -4.5M369.4 266.5h6.4M372.6 263.3v6.4M370.3 264.2l4.5 4.5M370.3 268.8l4.5 -4.5M313.4 283.6h6.4M316.6 280.4v6.4M314.3 281.3l4.5 4.5M314.3 285.9l4.5 -4.5M328.5 283.6h6.4M331.7 280.4v6.4M329.4 281.3l4.5 4.5M329.4 285.9l4.5 -4.5M337.4 283.6h6.4M340.6 280.4v6.4M338.3 281.3l4.5 4.5M338.3 285.9l4.5 -4.5M298.3 290.2h6.4M301.5 287.0v6.4M299.2 287.9l4.5 4.5M299.2 292.5l4.5 -4.5M308.1 290.2h6.4M311.3 287.0v6.4M309.0 287.9l4.5 4.5M309.0 292.5l4.5 -4.5M313.1 291.0h6.4M316.3 287.8v6.4M314.0 288.7l4.5 4.5M314.0 293.3l4.5 -4.5M318.8 295.5h6.4M322.0 292.3v6.4M319.7 293.2l4.5 4.5M319.7 297.8l4.5 -4.5M304.6 296.4h6.4M307.8 293.2v6.4M305.5 294.1l4.5 4.5M305.5 298.7l4.5 -4.5M334.8 296.4h6.4M338.0 293.2v6.4M335.7 294.1l4.5 4.5M335.7 298.7l4.5 -4.5M351.6 287.5h6.4M354.8 284.3v6.4M352.5 285.2l4.5 4.5M352.5 289.8l4.5 -4.5M340.1 294.6h6.4M343.3 291.4v6.4M341.0 292.3l4.5 4.5M341.0 296.9l4.5 -4.5M255.3 292.8h6.4M258.5 289.6v6.4M256.2 290.5l4.5 4.5M256.2 295.1l4.5 -4.5M246.7 305.6h6.4M249.9 302.4v6.4M247.6 303.3l4.5 4.5M247.6 307.9l4.5 -4.5M251.0 303.5h6.4M254.2 300.3v6.4M251.9 301.2l4.5 4.5M251.9 305.8l4.5 -4.5M355.8 266.8h6.4M359.0 263.6v6.4M356.7 264.5l4.5 4.5M356.7 269.1l4.5 -4.5M362.5 271.0h6.4M365.7 267.8v6.4M363.4 268.7l4.5 4.5M363.4 273.3l4.5 -4.5M345.2 273.4h6.4M348.4 270.2v6.4M346.1 271.1l4.5 4.5M346.1 275.7l4.5 -4.5M313.2 283.8h6.4M316.4 280.6v6.4M314.1 281.5l4.5 4.5M314.1 286.1l4.5 -4.5M328.4 283.8h6.4M331.6 280.6v6.4M329.3 281.5l4.5 4.5M329.3 286.1l4.5 -4.5M336.6 283.8h6.4M339.8 280.6v6.4M337.5 281.5l4.5 4.5M337.5 286.1l4.5 -4.5M370.7 261.4h6.4M373.9 258.2v6.4M371.6 259.1l4.5 4.5M371.6 263.7l4.5 -4.5M421.9 241.8h6.4M425.1 238.6v6.4M422.8 239.5l4.5 4.5M422.8 244.1l4.5 -4.5M407.7 262.2h6.4M410.9 259.0v6.4M408.6 259.9l4.5 4.5M408.6 264.5l4.5 -4.5M407.3 272.0h6.4M410.5 268.8v6.4M408.2 269.7l4.5 4.5M408.2 274.3l4.5 -4.5M407.7 279.1h6.4M410.9 275.9v6.4M408.6 276.8l4.5 4.5M408.6 281.4l4.5 -4.5M401.4 276.4h6.4M404.6 273.2v6.4M402.3 274.1l4.5 4.5M402.3 278.7l4.5 -4.5M393.4 278.2h6.4M396.6 275.0v6.4M394.3 275.9l4.5 4.5M394.3 280.5l4.5 -4.5M395.2 283.5h6.4M398.4 280.3v6.4M396.1 281.2l4.5 4.5M396.1 285.8l4.5 -4.5M400.5 293.3h6.4M403.7 290.1v6.4M401.4 291.0l4.5 4.5M401.4 295.6l4.5 -4.5M418.3 283.5h6.4M421.5 280.3v6.4M419.2 281.2l4.5 4.5M419.2 285.8l4.5 -4.5M424.5 274.1h6.4M427.7 270.9v6.4M425.4 271.8l4.5 4.5M425.4 276.4l4.5 -4.5M435.2 271.6h6.4M438.4 268.4v6.4M436.1 269.3l4.5 4.5M436.1 273.9l4.5 -4.5M429.0 280.9h6.4M432.2 277.7v6.4M429.9 278.6l4.5 4.5M429.9 283.2l4.5 -4.5M449.4 274.1h6.4M452.6 270.9v6.4M450.3 271.8l4.5 4.5M450.3 276.4l4.5 -4.5M454.4 274.1h6.4M457.6 270.9v6.4M455.3 271.8l4.5 4.5M455.3 276.4l4.5 -4.5M445.8 283.5h6.4M449.0 280.3v6.4M446.7 281.2l4.5 4.5M446.7 285.8l4.5 -4.5M458.3 288.0h6.4M461.5 284.8v6.4M459.2 285.7l4.5 4.5M459.2 290.3l4.5 -4.5M426.8 291.9h6.4M430.0 288.7v6.4M427.7 289.6l4.5 4.5M427.7 294.2l4.5 -4.5M443.5 293.3h6.4M446.7 290.1v6.4M444.4 291.0l4.5 4.5M444.4 295.6l4.5 -4.5M429.0 301.3h6.4M432.2 298.1v6.4M429.9 299.0l4.5 4.5M429.9 303.6l4.5 -4.5M435.2 306.1h6.4M438.4 302.9v6.4M436.1 303.8l4.5 4.5M436.1 308.4l4.5 -4.5M403.2 308.4h6.4M406.4 305.2v6.4M404.1 306.1l4.5 4.5M404.1 310.7l4.5 -4.5M407.3 311.9h6.4M410.5 308.7v6.4M408.2 309.6l4.5 4.5M408.2 314.2l4.5 -4.5M389.0 308.9h6.4M392.2 305.7v6.4M389.9 306.6l4.5 4.5M389.9 311.2l4.5 -4.5M384.6 296.8h6.4M387.8 293.6v6.4M385.5 294.5l4.5 4.5M385.5 299.1l4.5 -4.5M386.3 302.2h6.4M389.5 299.0v6.4M387.2 299.9l4.5 4.5M387.2 304.5l4.5 -4.5M375.7 312.8h6.4M378.9 309.6v6.4M376.6 310.5l4.5 4.5M376.6 315.1l4.5 -4.5M374.8 318.2h6.4M378.0 315.0v6.4M375.7 315.9l4.5 4.5M375.7 320.5l4.5 -4.5M377.5 330.6h6.4M380.7 327.4v6.4M378.4 328.3l4.5 4.5M378.4 332.9l4.5 -4.5M394.3 325.3h6.4M397.5 322.1v6.4M395.2 323.0l4.5 4.5M395.2 327.6l4.5 -4.5M450.4 274.2h6.4M453.6 271.0v6.4M451.3 271.9l4.5 4.5M451.3 276.5l4.5 -4.5M454.3 274.2h6.4M457.5 271.0v6.4M455.2 271.9l4.5 4.5M455.2 276.5l4.5 -4.5M458.3 287.9h6.4M461.5 284.7v6.4M459.2 285.6l4.5 4.5M459.2 290.2l4.5 -4.5M385.7 302.7h6.4M388.9 299.5v6.4M386.6 300.4l4.5 4.5M386.6 305.0l4.5 -4.5M388.3 309.8h6.4M391.5 306.6v6.4M389.2 307.5l4.5 4.5M389.2 312.1l4.5 -4.5M403.4 308.9h6.4M406.6 305.7v6.4M404.3 306.6l4.5 4.5M404.3 311.2l4.5 -4.5M407.9 312.4h6.4M411.1 309.2v6.4M408.8 310.1l4.5 4.5M408.8 314.7l4.5 -4.5M428.7 301.4h6.4M431.9 298.2v6.4M429.6 299.1l4.5 4.5M429.6 303.7l4.5 -4.5M435.1 306.2h6.4M438.3 303.0v6.4M436.0 303.9l4.5 4.5M436.0 308.5l4.5 -4.5M394.2 325.8h6.4M397.4 322.6v6.4M395.1 323.5l4.5 4.5M395.1 328.1l4.5 -4.5M377.7 331.1h6.4M380.9 327.9v6.4M378.6 328.8l4.5 4.5M378.6 333.4l4.5 -4.5M385.7 340.9h6.4M388.9 337.7v6.4M386.6 338.6l4.5 4.5M386.6 343.2l4.5 -4.5M380.4 342.6h6.4M383.6 339.4v6.4M381.3 340.3l4.5 4.5M381.3 344.9l4.5 -4.5M338.7 366.4h6.4M341.9 363.2v6.4M339.6 364.1l4.5 4.5M339.6 368.7l4.5 -4.5M347.6 364.4h6.4M350.8 361.2v6.4M348.5 362.1l4.5 4.5M348.5 366.7l4.5 -4.5M353.5 350.4h6.4M356.7 347.2v6.4M354.4 348.1l4.5 4.5M354.4 352.7l4.5 -4.5M341.6 350.4h6.4M344.8 347.2v6.4M342.5 348.1l4.5 4.5M342.5 352.7l4.5 -4.5M359.1 340.8h6.4M362.3 337.6v6.4M360.0 338.5l4.5 4.5M360.0 343.1l4.5 -4.5M377.5 330.4h6.4M380.7 327.2v6.4M378.4 328.1l4.5 4.5M378.4 332.7l4.5 -4.5M364.7 353.6h6.4M367.9 350.4v6.4M365.6 351.3l4.5 4.5M365.6 355.9l4.5 -4.5M354.3 326.4h6.4M357.5 323.2v6.4M355.2 324.1l4.5 4.5M355.2 328.7l4.5 -4.5M363.1 322.4h6.4M366.3 319.2v6.4M364.0 320.1l4.5 4.5M364.0 324.7l4.5 -4.5M339.2 340.0h6.4M342.4 336.8v6.4M340.1 337.7l4.5 4.5M340.1 342.3l4.5 -4.5M334.4 336.0h6.4M337.6 332.8v6.4M335.3 333.7l4.5 4.5M335.3 338.3l4.5 -4.5M330.4 344.0h6.4M333.6 340.8v6.4M331.3 341.7l4.5 4.5M331.3 346.3l4.5 -4.5" fill="none" stroke="#111" stroke-width="0.8" filter="url(#bl)"/>
<path d="M188.00 460.56L192.35 456.60L196.71 453.16L201.06 449.72L205.41 446.23L209.76 442.66L214.12 439.44L218.47 436.15L222.82 432.76L227.18 429.28L231.53 425.71L235.88 422.04L240.24 418.27L244.59 414.42L248.94 410.48L253.29 406.45L257.65 402.34L262.00 398.14L266.35 393.85L270.71 389.48L275.06 385.04L279.41 380.51L283.76 375.90L288.12 371.21L292.47 366.45L296.82 361.61L301.18 356.70L305.53 351.71L309.88 346.66L314.24 341.53L318.59 336.34L322.94 331.08L327.29 325.75L331.65 320.35L336.00 314.90L340.35 309.38L344.71 303.79L349.06 298.15L353.41 292.45L357.76 286.70L362.12 280.89L366.47 275.02L370.82 269.10L375.18 263.12L379.53 257.10L383.88 251.02L388.24 244.90L392.59 239.32L396.94 234.12L401.29 228.93L405.65 223.84L410.00 219.73L410.00 219.73L405.65 229.04L401.29 237.21L396.94 245.15L392.59 252.92L388.24 260.16L383.88 266.70L379.53 273.14L375.18 279.48L370.82 285.72L366.47 291.85L362.12 297.88L357.76 303.81L353.41 309.64L349.06 315.38L344.71 321.01L340.35 326.54L336.00 331.98L331.65 337.32L327.29 342.57L322.94 347.72L318.59 352.78L314.24 357.74L309.88 362.61L305.53 367.39L301.18 372.07L296.82 376.67L292.47 381.17L288.12 385.59L283.76 389.92L279.41 394.16L275.06 398.31L270.71 402.37L266.35 406.35L262.00 410.24L257.65 414.05L253.29 417.78L248.94 421.42L244.59 424.98L240.24 428.45L235.88 431.85L231.53 435.16L227.18 438.40L222.82 441.56L218.47 444.63L214.12 447.63L209.76 450.53L205.41 452.90L201.06 455.17L196.71 457.32L192.35 459.29L188.00 460.56Z" fill="#1F77B4"/>
<path d="M102.90 503.60L104.60 503.00L106.85 502.23L109.53 501.31L112.51 500.28L115.68 499.16L118.89 497.97L122.04 496.74L125.00 495.50L127.84 494.22L130.71 492.88L133.60 491.47L136.51 490.01L139.41 488.50L142.30 486.96L145.17 485.39L148.00 483.80L150.80 482.18L153.57 480.52L156.32 478.82L159.06 477.09L161.79 475.34L164.52 473.57L167.26 471.79L170.00 470.00L172.78 468.18L175.59 466.30L178.43 464.40L181.25 462.48L184.04 460.58L186.78 458.72L189.44 456.92L192.00 455.20L194.56 453.49L197.20 451.73L199.83 449.99L202.38 448.31L204.74 446.74L206.86 445.34L208.64 444.16L210.00 443.26" stroke="#1F77B4" stroke-width="1.7" fill="none"/>
<path d="M102.90 503.60L104.60 503.15L106.85 502.56L109.53 501.87L112.51 501.09L115.68 500.24L118.89 499.34L122.04 498.42L125.00 497.50L127.84 496.57L130.71 495.62L133.60 494.64L136.51 493.61L139.41 492.54L142.30 491.40L145.17 490.19L148.00 488.90L150.80 487.52L153.57 486.05L156.32 484.50L159.06 482.90L161.79 481.25L164.52 479.58L167.26 477.89L170.00 476.20L172.78 474.48L175.59 472.71L178.43 470.91L181.25 469.08L184.04 467.26L186.78 465.46L189.44 463.70L192.00 462.00L194.56 460.28L197.20 458.48L199.83 456.67L202.38 454.91L204.74 453.26L206.86 451.79L208.64 450.55L210.00 449.60" stroke="#1F77B4" stroke-width="1.7" fill="none"/>
<path d="M375.00 260.77L378.93 255.72L382.86 250.59L386.78 245.40L390.71 240.14L394.64 234.81L398.57 229.41L402.50 223.95L406.43 218.42L410.35 212.81L414.28 207.14L418.21 201.41L422.14 195.60L426.07 189.73L429.99 183.78L433.92 177.77L437.85 171.69L441.78 165.55L445.71 159.33L449.64 153.05L453.56 146.70L457.49 140.28L461.42 133.79L465.35 127.23L469.28 120.61L473.21 113.92L477.13 107.16L481.06 100.33L484.99 93.43L488.92 86.46L492.85 79.43L496.77 72.33L500.70 65.16L504.63 57.92L508.56 50.62L512.49 43.24L516.42 35.80L520.34 28.29L524.27 20.71L528.20 13.06" stroke="#1F77B4" stroke-width="1.6" fill="none"/>
<path d="M392.00 248.73L395.89 243.27L399.78 237.73L403.67 232.12L407.57 226.43L411.46 220.67L415.35 214.84L419.24 208.92L423.13 202.94L427.02 196.87L430.91 190.74L434.81 184.52L438.70 178.24L442.59 171.87L446.48 165.43L450.37 158.92L454.26 152.33L458.15 145.66L462.05 138.92L465.94 132.11L469.83 125.22L473.72 118.25L477.61 111.21L481.50 104.10L485.39 96.90L489.29 89.64L493.18 82.29L497.07 74.88L500.96 67.38L504.85 59.82L508.74 52.17L512.63 44.45L516.53 36.66L520.42 28.79L524.31 20.85L528.20 12.83" stroke="#1F77B4" stroke-width="1.6" fill="none"/>
<path d="M394.20 248.73L398.03 243.27L401.86 237.73L405.69 232.12L409.51 226.43L413.34 220.67L417.17 214.84L421.00 208.92L424.83 202.94L428.66 196.87L432.49 190.74L436.31 184.52L440.14 178.24L443.97 171.87L447.80 165.43L451.63 158.92L455.46 152.33L459.29 145.66L463.11 138.92L466.94 132.11L470.77 125.22L474.60 118.25L478.43 111.21L482.26 104.10L486.09 96.90L489.91 89.64L493.74 82.29L497.57 74.88L501.40 67.38L505.23 59.82L509.06 52.17L512.89 44.45L516.71 36.66L520.54 28.79L524.37 20.85L528.20 12.83" stroke="#1F77B4" stroke-width="1.6" fill="none"/>
<path d="M174.88 452.33L176.10 451.51L177.36 450.66L178.65 449.80L180.00 448.90L181.40 447.96L182.86 446.98L184.35 445.97L185.88 444.94L187.41 443.91L188.95 442.88L190.49 441.87L192.00 440.90L193.58 439.91L195.28 438.86L197.03 437.81L198.75 436.77L200.38 435.80L201.84 434.93L203.07 434.20L204.00 433.65L206.00 432.21L210.96 428.59L215.92 424.90L220.88 421.14L225.85 417.33L230.81 413.45L235.77 409.52L240.73 405.53L245.69 401.49L250.65 397.40L255.62 393.26L260.58 389.08L265.54 384.85L270.50 380.58L275.46 376.27L280.42 371.92L285.38 367.54L290.35 363.11L295.31 358.66L300.27 354.17L305.23 349.66L310.19 345.11L315.15 340.53L320.12 335.93L325.08 331.30L330.04 326.65L335.00 321.97L339.96 317.27L344.92 312.55L349.88 307.81L354.85 303.04L359.81 298.25L364.77 293.45L369.73 288.62L374.69 283.78L379.65 278.91L384.62 274.03L389.58 269.13L394.54 264.21L399.50 259.27L404.46 254.31L409.42 249.34L414.38 244.34L414.38 248.19L409.42 253.34L404.46 258.46L399.50 263.56L394.54 268.64L389.58 273.69L384.62 278.72L379.65 283.72L374.69 288.69L369.73 293.64L364.77 298.57L359.81 303.46L354.85 308.33L349.88 313.18L344.92 317.99L339.96 322.78L335.00 327.53L330.04 332.26L325.08 336.95L320.12 341.61L315.15 346.24L310.19 350.84L305.23 355.39L300.27 359.92L295.31 364.40L290.35 368.84L285.38 373.24L280.42 377.60L275.46 381.91L270.50 386.18L265.54 390.40L260.58 394.57L255.62 398.68L250.65 402.74L245.69 406.75L240.73 410.69L235.77 414.58L230.81 418.40L225.85 422.16L220.88 425.85L215.92 429.47L210.96 433.01L206.00 436.48L204.00 437.86L203.07 438.24L201.84 438.73L200.38 439.32L198.75 439.98L197.03 440.70L195.28 441.47L193.58 442.28L192.00 443.10L190.49 443.98L188.95 444.94L187.41 445.96L185.88 447.02L184.35 448.08L182.86 449.13L181.40 450.15L180.00 451.10L178.65 452.00L177.36 452.86L176.10 453.70L174.88 454.53Z" fill="#A2142F" stroke="#A2142F" stroke-width="1.4"/>
<path d="M103.00 493.70L104.29 492.99L105.98 492.06L108.00 490.95L110.25 489.71L112.66 488.38L115.14 487.01L117.62 485.63L120.00 484.30L122.36 482.97L124.79 481.59L127.28 480.18L129.81 478.73L132.37 477.27L134.93 475.80L137.48 474.34L140.00 472.90L142.57 471.43L145.23 469.90L147.94 468.35L150.62 466.81L153.23 465.31L155.70 463.88L157.98 462.57L160.00 461.40L161.73 460.40L163.20 459.55L164.48 458.81L165.62 458.14L166.69 457.52L167.73 456.89L168.82 456.23L170.00 455.50L171.24 454.72L172.45 453.93L173.66 453.14L174.88 452.33L176.10 451.51L177.36 450.66L178.65 449.80L180.00 448.90L181.40 447.96L182.86 446.98L184.35 445.97L185.88 444.94L187.41 443.91L188.95 442.88L190.49 441.87L192.00 440.90L193.58 439.91L195.28 438.86L197.03 437.81L198.75 436.77L200.38 435.80L201.84 434.93L203.07 434.20L204.00 433.65L206.00 432.21L210.96 428.59L215.92 424.90L220.88 421.14L225.85 417.33L230.81 413.45L235.77 409.52L240.73 405.53L245.69 401.49L250.65 397.40L255.62 393.26L260.58 389.08L265.54 384.85L270.50 380.58L275.46 376.27L280.42 371.92L285.38 367.54L290.35 363.11L295.31 358.66L300.27 354.17L305.23 349.66L310.19 345.11L315.15 340.53L320.12 335.93L325.08 331.30L330.04 326.65L335.00 321.97L339.96 317.27L344.92 312.55L349.88 307.81L354.85 303.04L359.81 298.25L364.77 293.45L369.73 288.62L374.69 283.78L379.65 278.91L384.62 274.03L389.58 269.13L394.54 264.21L399.50 259.27L404.46 254.31L409.42 249.34L414.38 244.34L419.35 239.32L424.31 234.29L429.27 229.23L434.23 224.15L439.19 219.05L444.15 213.93L449.12 208.78L454.08 203.61L459.04 198.42L464.00 193.19L468.96 187.94L473.92 182.67L478.88 177.36L483.85 172.02L488.81 166.65L493.77 161.24L498.73 155.80L503.69 150.32L508.65 144.80L513.62 139.24L518.58 133.63L523.54 127.99L528.50 122.29" stroke="#A2142F" stroke-width="1.45" fill="none"/>
<path d="M103.00 493.90L104.29 493.28L105.98 492.46L108.00 491.50L110.25 490.41L112.66 489.25L115.14 488.03L117.62 486.80L120.00 485.60L122.36 484.39L124.79 483.13L127.28 481.82L129.81 480.49L132.37 479.13L134.93 477.75L137.48 476.37L140.00 475.00L142.57 473.58L145.23 472.10L147.94 470.58L150.62 469.06L153.23 467.58L155.70 466.17L157.98 464.86L160.00 463.70L161.73 462.70L163.20 461.84L164.48 461.09L165.62 460.41L166.69 459.76L167.73 459.12L168.82 458.44L170.00 457.70L171.24 456.91L172.45 456.12L173.66 455.33L174.88 454.53L176.10 453.70L177.36 452.86L178.65 452.00L180.00 451.10L181.40 450.15L182.86 449.13L184.35 448.08L185.88 447.02L187.41 445.96L188.95 444.94L190.49 443.98L192.00 443.10L193.58 442.28L195.28 441.47L197.03 440.70L198.75 439.98L200.38 439.32L201.84 438.73L203.07 438.24L204.00 437.86L206.00 436.48L210.96 433.01L215.92 429.47L220.88 425.85L225.85 422.16L230.81 418.40L235.77 414.58L240.73 410.69L245.69 406.75L250.65 402.74L255.62 398.68L260.58 394.57L265.54 390.40L270.50 386.18L275.46 381.91L280.42 377.60L285.38 373.24L290.35 368.84L295.31 364.40L300.27 359.92L305.23 355.39L310.19 350.84L315.15 346.24L320.12 341.61L325.08 336.95L330.04 332.26L335.00 327.53L339.96 322.78L344.92 317.99L349.88 313.18L354.85 308.33L359.81 303.46L364.77 298.57L369.73 293.64L374.69 288.69L379.65 283.72L384.62 278.72L389.58 273.69L394.54 268.64L399.50 263.56L404.46 258.46L409.42 253.34L414.38 248.19L419.35 243.01L424.31 237.81L429.27 232.58L434.23 227.32L439.19 222.04L444.15 216.73L449.12 211.39L454.08 206.02L459.04 200.62L464.00 195.18L468.96 189.72L473.92 184.22L478.88 178.69L483.85 173.13L488.81 167.52L493.77 161.88L498.73 156.20L503.69 150.47L508.65 144.71L513.62 138.90L518.58 133.04L523.54 127.13L528.50 121.18" stroke="#A2142F" stroke-width="1.45" fill="none"/>
<path d="M103.14 454.62L108.46 451.39L113.77 448.23L119.08 445.16L124.40 442.16L129.71 439.21L135.02 436.33L140.34 433.50L145.65 430.73L150.96 427.99L156.28 425.31L161.59 422.66L166.90 420.06L172.22 417.49L177.53 414.95L182.84 412.45L188.16 409.98L193.47 407.53L198.78 405.12L204.09 402.73L209.41 400.37L214.72 398.04L220.03 395.73L225.35 393.44L230.66 391.17L235.97 388.93L241.29 386.70L246.60 384.49L251.91 382.31L257.23 380.14L262.54 377.99L267.85 375.85L273.17 373.74L278.48 371.64L283.79 369.55L289.11 367.48L294.42 365.43L299.73 363.39L305.05 361.36L310.36 359.35L315.67 357.35L320.99 355.36L326.30 353.39L331.61 351.42L336.93 349.47L342.24 347.53L347.55 345.61L352.87 343.69L358.18 341.79L363.49 339.89L368.81 338.01L374.12 336.13L379.43 334.27L384.75 332.42L390.06 330.57L395.37 328.74L400.69 326.91L406.00 325.09L411.31 323.28L416.63 321.48L421.94 319.69L427.25 317.91L432.57 316.14L437.88 314.37L443.19 312.61L448.51 310.86L453.82 309.12L459.13 307.38L464.44 305.65L469.76 303.93L475.07 302.21L480.38 300.51L485.70 298.81L491.01 297.11L496.32 295.43L501.64 293.75L506.95 292.07L512.26 290.40L517.58 288.74L522.89 287.09L528.20 285.44" stroke="#B446FF" stroke-width="1.5" fill="none"/>
<path d="M103.14 454.62L108.46 451.46L113.77 448.38L119.08 445.38L124.40 442.45L129.71 439.58L135.02 436.76L140.34 434.00L145.65 431.29L150.96 428.62L156.28 425.99L161.59 423.41L166.90 420.85L172.22 418.33L177.53 415.84L182.84 413.39L188.16 410.95L193.47 408.55L198.78 406.17L204.09 403.81L209.41 401.47L214.72 399.15L220.03 396.85L225.35 394.57L230.66 392.31L235.97 390.06L241.29 387.83L246.60 385.62L251.91 383.41L257.23 381.23L262.54 379.05L267.85 376.89L273.17 374.74L278.48 372.60L283.79 370.48L289.11 368.36L294.42 366.26L299.73 364.16L305.05 362.08L310.36 360.01L315.67 357.95L320.99 355.90L326.30 353.86L331.61 351.83L336.93 349.81L342.24 347.80L347.55 345.80L352.87 343.81L358.18 341.83L363.49 339.89L368.81 338.01L374.12 336.13L379.43 334.27L384.75 332.42L390.06 330.57L395.37 328.74L400.69 326.91L406.00 325.09L411.31 323.28L416.63 321.48L421.94 319.69L427.25 317.91L432.57 316.14L437.88 314.37L443.19 312.61L448.51 310.86L453.82 309.12L459.13 307.38L464.44 305.65L469.76 303.93L475.07 302.21L480.38 300.51L485.70 298.81L491.01 297.11L496.32 295.43L501.64 293.75L506.95 292.07L512.26 290.40L517.58 288.74L522.89 287.09L528.20 285.44" stroke="#B446FF" stroke-width="1.5" fill="none"/>
<path d="M103.14 454.62L108.46 451.53L113.77 448.53L119.08 445.60L124.40 442.74L129.71 439.94L135.02 437.19L140.34 434.50L145.65 431.85L150.96 429.25L156.28 426.68L161.59 424.15L166.90 421.65L172.22 419.18L177.53 416.74L182.84 414.32L188.16 411.93L193.47 409.56L198.78 407.21L204.09 404.88L209.41 402.56L214.72 400.26L220.03 397.98L225.35 395.71L230.66 393.45L235.97 391.20L241.29 388.96L246.60 386.74L251.91 384.52L257.23 382.31L262.54 380.11L267.85 377.92L273.17 375.74L278.48 373.57L283.79 371.40L289.11 369.24L294.42 367.09L299.73 364.94L305.05 362.80L310.36 360.67L315.67 358.55L320.99 356.44L326.30 354.33L331.61 352.23L336.93 350.14L342.24 348.06L347.55 345.99L352.87 343.93L358.18 341.88L363.49 339.89L368.81 338.01L374.12 336.13L379.43 334.27L384.75 332.42L390.06 330.57L395.37 328.74L400.69 326.91L406.00 325.09L411.31 323.28L416.63 321.48L421.94 319.69L427.25 317.91L432.57 316.14L437.88 314.37L443.19 312.61L448.51 310.86L453.82 309.12L459.13 307.38L464.44 305.65L469.76 303.93L475.07 302.21L480.38 300.51L485.70 298.81L491.01 297.11L496.32 295.43L501.64 293.75L506.95 292.07L512.26 290.40L517.58 288.74L522.89 287.09L528.20 285.44" stroke="#B446FF" stroke-width="1.5" fill="none"/>
<path d="M103.14 441.20L108.46 438.22L113.77 435.36L119.08 432.60L124.40 429.94L129.71 427.36L135.02 424.85L140.34 422.42L145.65 420.05L150.96 417.74L156.28 415.49L161.59 413.29L166.90 411.13L172.22 409.02L177.53 406.96L182.84 404.93L188.16 402.94L193.47 400.99L198.78 399.07L204.09 397.19L209.41 395.33L214.72 393.50L220.03 391.71L225.35 389.93L230.66 388.19L235.97 386.47L241.29 384.77L246.60 383.09L251.91 381.44L257.23 379.80L262.54 378.19L267.85 376.59L273.17 375.02L278.48 373.46L283.79 371.92L289.11 370.40L294.42 368.89L299.73 367.40L305.05 365.92L310.36 364.46L315.67 363.01L320.99 361.58L326.30 360.16L331.61 358.75L336.93 357.36L342.24 355.98L347.55 354.61L352.87 353.25L358.18 351.91L363.49 350.57L368.81 349.25L374.12 347.94L379.43 346.63L384.75 345.34L390.06 344.06L395.37 342.79L400.69 341.52L406.00 340.27L411.31 339.03L416.63 337.79L421.94 336.56L427.25 335.35L432.57 334.14L437.88 332.94L443.19 331.74L448.51 330.56L453.82 329.38L459.13 328.21L464.44 327.04L469.76 325.89L475.07 324.74L480.38 323.60L485.70 322.46L491.01 321.34L496.32 320.22L501.64 319.10L506.95 317.99L512.26 316.89L517.58 315.79L522.89 314.71L528.20 313.62" stroke="#7DB446" stroke-width="1.5" fill="none"/>
<path d="M103.14 441.20L108.46 438.30L113.77 435.50L119.08 432.82L124.40 430.22L129.71 427.71L135.02 425.27L140.34 422.90L145.65 420.59L150.96 418.34L156.28 416.14L161.59 413.99L166.90 411.89L172.22 409.83L177.53 407.80L182.84 405.81L188.16 403.86L193.47 401.93L198.78 400.04L204.09 398.17L209.41 396.33L214.72 394.51L220.03 392.72L225.35 390.94L230.66 389.19L235.97 387.46L241.29 385.74L246.60 384.05L251.91 382.37L257.23 380.70L262.54 379.06L267.85 377.42L273.17 375.80L278.48 374.20L283.79 372.61L289.11 371.03L294.42 369.47L299.73 367.91L305.05 366.37L310.36 364.85L315.67 363.33L320.99 361.83L326.30 360.34L331.61 358.87L336.93 357.40L342.24 355.98L347.55 354.61L352.87 353.25L358.18 351.91L363.49 350.57L368.81 349.25L374.12 347.94L379.43 346.63L384.75 345.34L390.06 344.06L395.37 342.79L400.69 341.52L406.00 340.27L411.31 339.03L416.63 337.79L421.94 336.56L427.25 335.35L432.57 334.14L437.88 332.94L443.19 331.74L448.51 330.56L453.82 329.38L459.13 328.21L464.44 327.04L469.76 325.89L475.07 324.74L480.38 323.60L485.70 322.46L491.01 321.34L496.32 320.22L501.64 319.10L506.95 317.99L512.26 316.89L517.58 315.79L522.89 314.71L528.20 313.62" stroke="#7DB446" stroke-width="1.5" fill="none"/>
<path d="M103.14 441.20L108.46 438.37L113.77 435.65L119.08 433.03L124.40 430.50L129.71 428.05L135.02 425.68L140.34 423.38L145.65 421.13L150.96 418.94L156.28 416.80L161.59 414.70L166.90 412.65L172.22 410.63L177.53 408.64L182.84 406.69L188.16 404.77L193.47 402.88L198.78 401.00L204.09 399.16L209.41 397.33L214.72 395.52L220.03 393.73L225.35 391.96L230.66 390.20L235.97 388.45L241.29 386.72L246.60 385.01L251.91 383.30L257.23 381.61L262.54 379.92L267.85 378.25L273.17 376.59L278.48 374.94L283.79 373.30L289.11 371.66L294.42 370.04L299.73 368.43L305.05 366.83L310.36 365.24L315.67 363.66L320.99 362.09L326.30 360.53L331.61 358.98L336.93 357.45L342.24 355.98L347.55 354.61L352.87 353.25L358.18 351.91L363.49 350.57L368.81 349.25L374.12 347.94L379.43 346.63L384.75 345.34L390.06 344.06L395.37 342.79L400.69 341.52L406.00 340.27L411.31 339.03L416.63 337.79L421.94 336.56L427.25 335.35L432.57 334.14L437.88 332.94L443.19 331.74L448.51 330.56L453.82 329.38L459.13 328.21L464.44 327.04L469.76 325.89L475.07 324.74L480.38 323.60L485.70 322.46L491.01 321.34L496.32 320.22L501.64 319.10L506.95 317.99L512.26 316.89L517.58 315.79L522.89 314.71L528.20 313.62" stroke="#7DB446" stroke-width="1.5" fill="none"/>
<rect x="41.75" y="5.8" width="639.5" height="505.7" fill="none" stroke="#1a1a1a" stroke-width="2"/>
<path d="M148.33 511.5v-6.5M148.33 5.8v6.5M254.92 511.5v-6.5M254.92 5.8v6.5M361.50 511.5v-6.5M361.50 5.8v6.5M468.09 511.5v-6.5M468.09 5.8v6.5M574.67 511.5v-6.5M574.67 5.8v6.5M41.75 448.25h6.5M681.25 448.25h-6.5M41.75 385.00h6.5M681.25 385.00h-6.5M41.75 321.75h6.5M681.25 321.75h-6.5M41.75 258.50h6.5M681.25 258.50h-6.5M41.75 195.25h6.5M681.25 195.25h-6.5M41.75 132.00h6.5M681.25 132.00h-6.5M41.75 68.75h6.5M681.25 68.75h-6.5" stroke="#1a1a1a" stroke-width="2" fill="none"/>
<g font-family="Liberation Serif" font-size="17.5" fill="#111">
<text x="41.75" y="532.8" text-anchor="middle">0</text>
<text x="148.33" y="532.8" text-anchor="middle">0.5</text>
<text x="254.92" y="532.8" text-anchor="middle">1</text>
<text x="361.50" y="532.8" text-anchor="middle">1.5</text>
<text x="468.09" y="532.8" text-anchor="middle">2</text>
<text x="574.67" y="532.8" text-anchor="middle">2.5</text>
<text x="681.26" y="532.8" text-anchor="middle">3</text>
<text x="36.4" y="517.50" text-anchor="end">0</text>
<text x="36.4" y="454.25" text-anchor="end">1</text>
<text x="36.4" y="391.00" text-anchor="end">2</text>
<text x="36.4" y="327.75" text-anchor="end">3</text>
<text x="36.4" y="264.50" text-anchor="end">4</text>
<text x="36.4" y="201.25" text-anchor="end">5</text>
<text x="36.4" y="138.00" text-anchor="end">6</text>
<text x="36.4" y="74.75" text-anchor="end">7</text>
<text x="36.4" y="11.50" text-anchor="end">8</text>
</g>
<text x="361.5" y="558.6" text-anchor="middle" font-family="Liberation Serif" font-size="18.5" fill="#111">Flow height h (m)</text>
<text transform="translate(13.4,258.3) rotate(-90)" text-anchor="middle" font-family="Liberation Serif" font-size="18.2" fill="#FF6A13">Median velocity (m/s)</text>
<g fill="#1F77B4" font-family="Liberation Serif"><text x="524.9" y="42.7" textLength="12.6" lengthAdjust="spacingAndGlyphs" font-size="17" font-style="italic">R</text><text x="536.5" y="35.800000000000004" textLength="6.0" lengthAdjust="spacingAndGlyphs" font-size="11.5">2</text><rect x="548.6" y="36.3" width="11.4" height="1.15" fill="#1F77B4"/><rect x="548.6" y="40.1" width="11.4" height="1.15" fill="#1F77B4"/><text x="564.8" y="42.7" textLength="29.6" lengthAdjust="spacingAndGlyphs" font-size="16.5">0.62</text><text x="524.6" y="62.3" textLength="11.2" lengthAdjust="spacingAndGlyphs" font-size="16.5" font-style="italic">&#956;</text><rect x="539.1" y="55.9" width="11.4" height="1.15" fill="#1F77B4"/><rect x="539.1" y="59.7" width="11.4" height="1.15" fill="#1F77B4"/><text x="556.0" y="62.3" textLength="23.8" lengthAdjust="spacingAndGlyphs" font-size="16.5">311</text></g>
<g fill="#A2142F" font-family="Liberation Serif"><text x="537.4" y="102.9" textLength="12.6" lengthAdjust="spacingAndGlyphs" font-size="17" font-style="italic">R</text><text x="549.0" y="96.0" textLength="6.0" lengthAdjust="spacingAndGlyphs" font-size="11.5">2</text><rect x="560.9" y="96.5" width="10.9" height="1.15" fill="#A2142F"/><rect x="560.9" y="100.3" width="10.9" height="1.15" fill="#A2142F"/><text x="577.5" y="102.9" textLength="28.9" lengthAdjust="spacingAndGlyphs" font-size="16.5">0.81</text><text x="536.7" y="122.6" textLength="9.7" lengthAdjust="spacingAndGlyphs" font-size="16.5" font-style="italic">&#958;</text><rect x="549.9" y="116.2" width="10.7" height="1.15" fill="#A2142F"/><rect x="549.9" y="120.0" width="10.7" height="1.15" fill="#A2142F"/><text x="566.1" y="122.6" textLength="37.7" lengthAdjust="spacingAndGlyphs" font-size="16.5">30.87</text></g>
<g fill="#B446FF" font-family="Liberation Serif"><text x="535.1" y="282.6" textLength="12.6" lengthAdjust="spacingAndGlyphs" font-size="17" font-style="italic">R</text><text x="546.7" y="275.70000000000005" textLength="6.0" lengthAdjust="spacingAndGlyphs" font-size="11.5">2</text><rect x="558.9" y="276.2" width="10.6" height="1.15" fill="#B446FF"/><rect x="558.9" y="280.0" width="10.6" height="1.15" fill="#B446FF"/><text x="574.8" y="282.6" textLength="29.6" lengthAdjust="spacingAndGlyphs" font-size="16.5">0.65</text><text x="534.2" y="302.3" textLength="10.7" lengthAdjust="spacingAndGlyphs" font-size="16.5" font-style="italic">n</text><rect x="549.1" y="295.9" width="11.4" height="1.15" fill="#B446FF"/><rect x="549.1" y="299.7" width="11.4" height="1.15" fill="#B446FF"/><text x="566.0" y="302.3" textLength="29.4" lengthAdjust="spacingAndGlyphs" font-size="16.5">0.14</text></g>
<g fill="#7DB446" font-family="Liberation Serif"><text x="492.5" y="343.5" textLength="12.6" lengthAdjust="spacingAndGlyphs" font-size="17" font-style="italic">R</text><text x="504.1" y="336.6" textLength="6.0" lengthAdjust="spacingAndGlyphs" font-size="11.5">2</text><rect x="515.7" y="337.1" width="11.6" height="1.15" fill="#7DB446"/><rect x="515.7" y="340.9" width="11.6" height="1.15" fill="#7DB446"/><text x="532.6" y="343.5" textLength="29.2" lengthAdjust="spacingAndGlyphs" font-size="16.5">0.52</text><text x="493.4" y="363.2" textLength="12.7" lengthAdjust="spacingAndGlyphs" font-size="16.5" font-style="italic">C</text><rect x="511.0" y="356.8" width="11.2" height="1.15" fill="#7DB446"/><rect x="511.0" y="360.6" width="11.2" height="1.15" fill="#7DB446"/><text x="527.5" y="363.2" textLength="8.5" lengthAdjust="spacingAndGlyphs" font-size="16.5">7</text></g>
<rect x="55" y="21" width="314" height="133" fill="#fff" stroke="#7f7f7f" stroke-width="2"/>
<path d="M73.4 27.2L76.9 31.5L73.4 35.8L69.9 31.5Z" fill="#e2e2e2" stroke="#999" stroke-width="0.9"/>
<path d="M73.3 46.7L74.2 49.1L76.8 49.2L74.8 50.8L75.5 53.2L73.3 51.8L71.2 53.2L71.9 50.8L69.9 49.2L72.5 49.1Z" fill="#111"/>
<path d="M70.5 69.1h6.2M73.6 66.0v6.2M71.4 66.9l4.4 4.4M71.4 71.3l4.4 -4.4" stroke="#111" stroke-width="1" fill="none"/>
<path d="M195 26V69.7" stroke="#888" stroke-width="1"/>
<path d="M58 87.65H88.8" stroke="#1F77B4" stroke-width="2"/>
<path d="M58 106.4H88.8" stroke="#A2142F" stroke-width="2"/>
<path d="M58 125.2H88.8" stroke="#B446FF" stroke-width="2"/>
<path d="M58 143.9H88.8" stroke="#7DB446" stroke-width="2"/>
<g font-family="Liberation Serif" font-size="16.5" fill="#111">
<text x="91" y="38.0">#DF20220605</text>
<text x="91" y="56.5">#DF20220630</text>
<text x="91" y="75.1">#DF20220809</text>
<text x="203" y="41.6">Measured debris</text>
<text x="203" y="60.6">flows at Illgraben</text>
<text x="91.5" y="94.4">Newt. laminar flow</text>
<text x="91.5" y="113.2">Dilatant grain shearing (Takahashi)</text>
<text x="91.5" y="131.9">Newt. turbulent flow (Manning-Strickler)</text>
<text x="91.5" y="150.5">Newt. turbulent flow (Chezy)</text>
</g>
</svg></body></html>
